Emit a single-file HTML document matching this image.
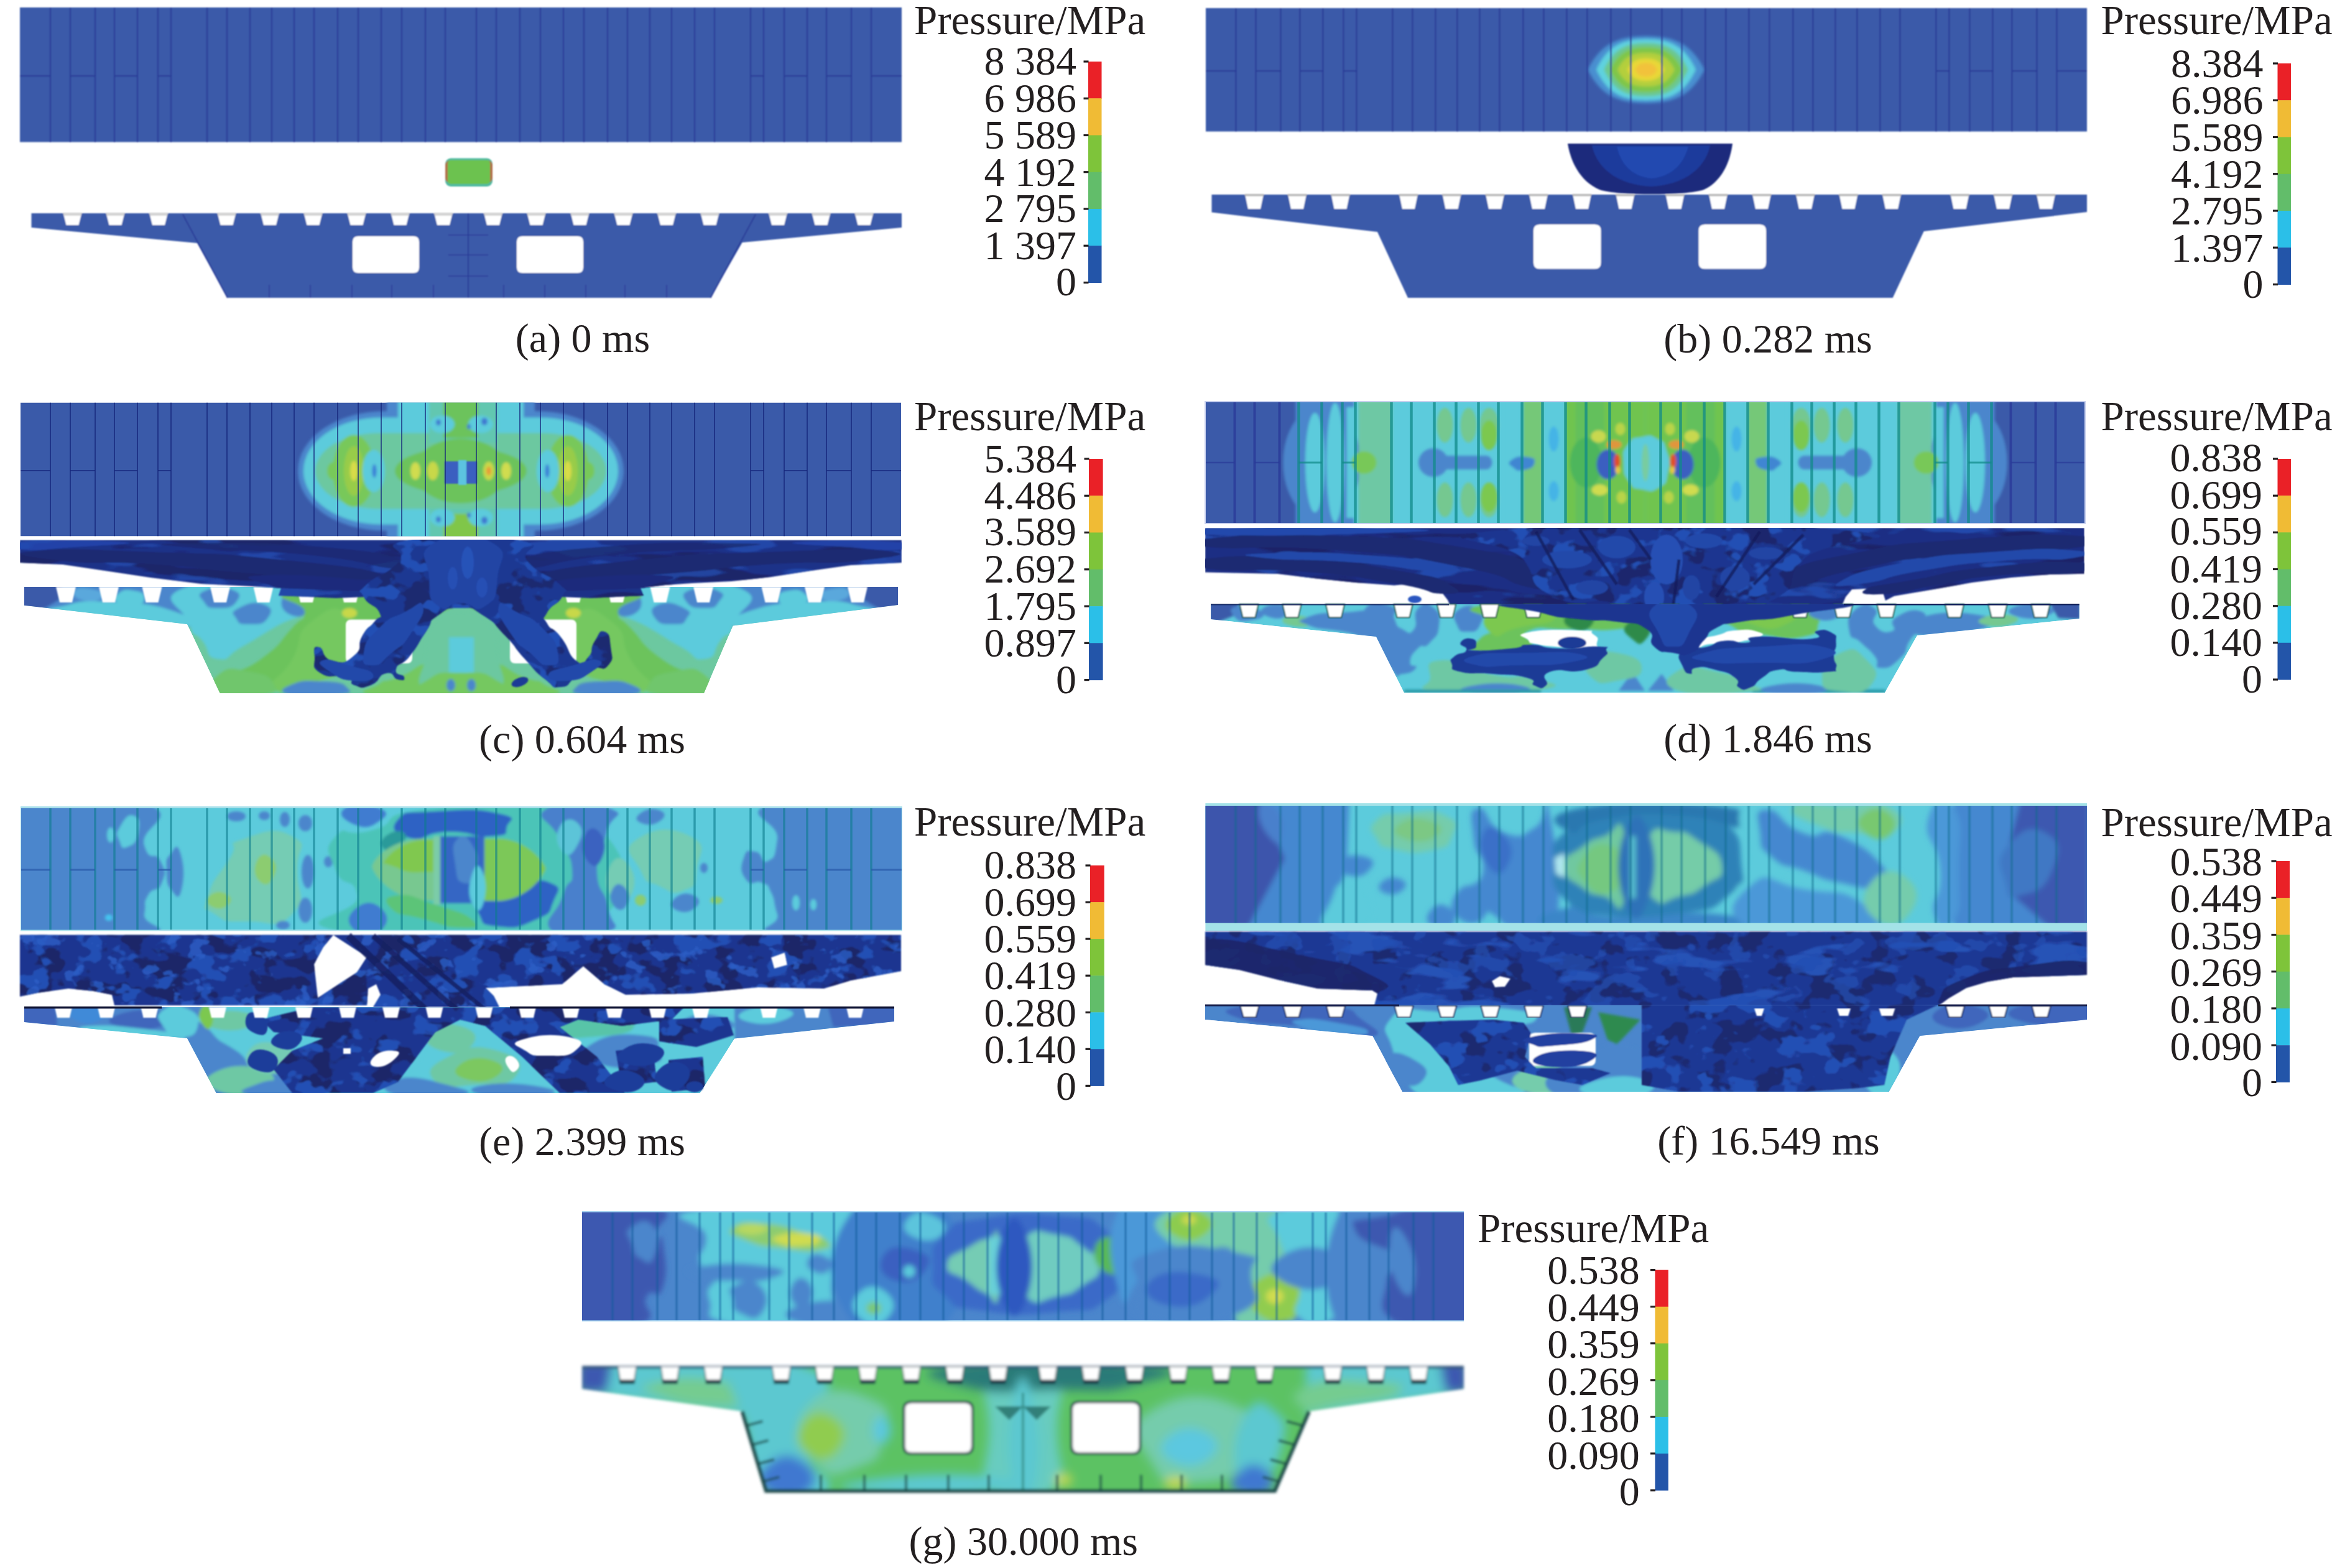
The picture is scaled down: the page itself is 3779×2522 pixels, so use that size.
<!DOCTYPE html>
<html lang="en"><head><meta charset="utf-8"><title>Pressure contours</title>
<style>
html,body{margin:0;padding:0;background:#fff;}
body{width:3779px;height:2522px;overflow:hidden;font-family:"Liberation Serif",serif;}
svg{display:block;}
</style></head><body>
<svg width="3779" height="2522" viewBox="0 0 3779 2522" font-family="'Liberation Serif','Times New Roman',serif" fill="#231f20">
<defs>
<filter id="b2" x="-20%" y="-20%" width="140%" height="140%"><feGaussianBlur stdDeviation="2"/></filter>
<filter id="b4" x="-20%" y="-20%" width="140%" height="140%"><feGaussianBlur stdDeviation="4"/></filter>
<filter id="b8" x="-30%" y="-30%" width="160%" height="160%"><feGaussianBlur stdDeviation="8"/></filter>
<filter id="b1" x="-5%" y="-5%" width="110%" height="110%"><feGaussianBlur stdDeviation="1.2"/></filter>
<filter id="tx_dk_h" x="0" y="0" width="100%" height="100%" color-interpolation-filters="sRGB"><feTurbulence type="fractalNoise" baseFrequency="0.005 0.035" numOctaves="3" seed="7" result="n"/><feColorMatrix in="n" type="matrix" values="0 0 0 0 0.102  0 0 0 0 0.141  0 0 0 0 0.400  14 0 0 0 -7.6" result="c"/><feComposite in="c" in2="SourceGraphic" operator="in"/></filter>
<filter id="tx_lt_h" x="0" y="0" width="100%" height="100%" color-interpolation-filters="sRGB"><feTurbulence type="fractalNoise" baseFrequency="0.008 0.03" numOctaves="3" seed="21" result="n"/><feColorMatrix in="n" type="matrix" values="0 0 0 0 0.149  0 0 0 0 0.322  0 0 0 0 0.714  14 0 0 0 -8.1" result="c"/><feComposite in="c" in2="SourceGraphic" operator="in"/></filter>
<filter id="tx_dk" x="0" y="0" width="100%" height="100%" color-interpolation-filters="sRGB"><feTurbulence type="fractalNoise" baseFrequency="0.02 0.028" numOctaves="3" seed="3" result="n"/><feColorMatrix in="n" type="matrix" values="0 0 0 0 0.106  0 0 0 0 0.149  0 0 0 0 0.408  16 0 0 0 -8.5" result="c"/><feComposite in="c" in2="SourceGraphic" operator="in"/></filter>
<filter id="tx_lt" x="0" y="0" width="100%" height="100%" color-interpolation-filters="sRGB"><feTurbulence type="fractalNoise" baseFrequency="0.022 0.03" numOctaves="3" seed="11" result="n"/><feColorMatrix in="n" type="matrix" values="0 0 0 0 0.141  0 0 0 0 0.314  0 0 0 0 0.706  16 0 0 0 -9.1" result="c"/><feComposite in="c" in2="SourceGraphic" operator="in"/></filter>
<filter id="tx_lt2" x="0" y="0" width="100%" height="100%" color-interpolation-filters="sRGB"><feTurbulence type="fractalNoise" baseFrequency="0.03 0.04" numOctaves="3" seed="17" result="n"/><feColorMatrix in="n" type="matrix" values="0 0 0 0 0.173  0 0 0 0 0.369  0 0 0 0 0.776  16 0 0 0 -10.0" result="c"/><feComposite in="c" in2="SourceGraphic" operator="in"/></filter>
<filter id="tx_cy" x="0" y="0" width="100%" height="100%" color-interpolation-filters="sRGB"><feTurbulence type="fractalNoise" baseFrequency="0.012 0.018" numOctaves="3" seed="31" result="n"/><feColorMatrix in="n" type="matrix" values="0 0 0 0 0.361  0 0 0 0 0.796  0 0 0 0 0.863  14 0 0 0 -7.4" result="c"/><feComposite in="c" in2="SourceGraphic" operator="in"/></filter>
<filter id="tx_lb" x="0" y="0" width="100%" height="100%" color-interpolation-filters="sRGB"><feTurbulence type="fractalNoise" baseFrequency="0.014 0.02" numOctaves="3" seed="41" result="n"/><feColorMatrix in="n" type="matrix" values="0 0 0 0 0.294  0 0 0 0 0.525  0 0 0 0 0.800  14 0 0 0 -7.5" result="c"/><feComposite in="c" in2="SourceGraphic" operator="in"/></filter>
<filter id="tx_tl" x="0" y="0" width="100%" height="100%" color-interpolation-filters="sRGB"><feTurbulence type="fractalNoise" baseFrequency="0.012 0.016" numOctaves="3" seed="51" result="n"/><feColorMatrix in="n" type="matrix" values="0 0 0 0 0.431  0 0 0 0 0.784  0 0 0 0 0.643  14 0 0 0 -7.6" result="c"/><feComposite in="c" in2="SourceGraphic" operator="in"/></filter>
<filter id="tx_gr" x="0" y="0" width="100%" height="100%" color-interpolation-filters="sRGB"><feTurbulence type="fractalNoise" baseFrequency="0.014 0.018" numOctaves="3" seed="61" result="n"/><feColorMatrix in="n" type="matrix" values="0 0 0 0 0.424  0 0 0 0 0.765  0 0 0 0 0.361  14 0 0 0 -7.7" result="c"/><feComposite in="c" in2="SourceGraphic" operator="in"/></filter>
<clipPath id="c_slab"><rect x="33" y="647.5" width="1416" height="215.0"/></clipPath>
<clipPath id="c_br"><path d="M39 944H1444V973L1178.7 1006.4L1132 1115H353.7L301 1004L39 973.7Z"/></clipPath>
<clipPath id="c_cl"><rect x="32" y="868.6" width="1418" height="260"/></clipPath>
<clipPath id="d_slab"><rect x="1939" y="647" width="1413" height="194"/></clipPath>
<clipPath id="d_cl"><rect x="1938" y="849" width="1414" height="270"/></clipPath>
<clipPath id="d_br"><path d="M1947 971.7H3343.7V995L3083 1022L3031 1114H2257.8L2213 1024L1947 996Z"/></clipPath>
<clipPath id="e_slab"><rect x="34" y="1300" width="1415.8" height="195.5"/></clipPath>
<clipPath id="e_br"><path d="M39 1620H1438V1643L1181 1670.6L1125.5 1758H347.7L301 1670L39 1644Z"/></clipPath>
<clipPath id="f_slab"><rect x="1938.4" y="1296" width="1417.6" height="188.5"/></clipPath>
<clipPath id="f_cl"><path d="M1938 1498.5H3356V1568L3300 1570L3237 1572L3196 1579L3162 1589L3133 1606L3117 1618H2210L2215 1598L2207 1593L2119 1590L2056 1576L1993 1560L1938 1552Z M2399 1578L2412 1570L2429 1574L2420 1587L2404 1588Z" clip-rule="evenodd"/></clipPath>
<clipPath id="f_br"><path d="M1938 1616.5H3356V1640L3087.5 1666L3037.5 1756H2255L2207 1666L1938 1640Z"/></clipPath>
<clipPath id="g_slab"><rect x="936" y="1950" width="1418" height="173.4000000000001"/></clipPath>
<clipPath id="g_br"><path d="M936 2198H2354V2234L2105 2270L2050 2398H1232L1193.6 2270L936 2234Z"/></clipPath>
</defs>
<g filter="url(#b1)">
<rect x="32" y="12" width="1418" height="216.5" fill="#3a5aa9"/>
<path d="M716.0 12V228.5M766.0 12V228.5M684.0 12V228.5M798.0 12V228.5M646.0 12V228.5M836.0 12V228.5M613.0 12V228.5M869.0 12V228.5M576.0 12V228.5M906.0 12V228.5M543.0 12V228.5M939.0 12V228.5M505.0 12V228.5M977.0 12V228.5M473.0 12V228.5M1009.0 12V228.5M437.0 12V228.5M1045.0 12V228.5M402.0 12V228.5M1080.0 12V228.5M365.0 12V228.5M1117.0 12V228.5M333.0 12V228.5M1149.0 12V228.5M275.0 12V228.5M1207.0 12V228.5M254.0 12V228.5M1228.0 12V228.5M221.0 12V228.5M1261.0 12V228.5M184.0 12V228.5M1298.0 12V228.5M153.0 12V228.5M1329.0 12V228.5M113.0 12V228.5M1369.0 12V228.5M81.0 12V228.5M1401.0 12V228.5" stroke="#2c3c98" stroke-width="2.2" fill="none" opacity="1"/>
<path d="M32.0 122.2H81.0M1450.0 122.2H1401.0M113.0 122.2H153.0M1369.0 122.2H1329.0M184.0 122.2H221.0M1298.0 122.2H1261.0M254.0 122.2H275.0M1228.0 122.2H1207.0" stroke="#2c3c98" stroke-width="2.2" fill="none" opacity="1"/>
</g>
<g filter="url(#b1)"><rect x="716" y="254.5" width="76" height="45.5" rx="9" fill="#4fb9a0"/><rect x="716" y="258" width="76" height="36" rx="8" fill="#b0704a"/><rect x="720" y="257.5" width="68" height="38.5" rx="5" fill="#6cc24f"/></g>
<g filter="url(#b1)">
<path d="M50.5 343H1450V366L1193.6 390L1142.5 479H366L317 391L50.5 366Z" fill="#3a5aa9"/>
<path d="M753 343V479 M294 345L366 479 M1215 345L1142.5 479" stroke="#2c3c98" stroke-width="2" fill="none"/>
<path d="M433 458V479M499 458V479M566 458V479M630 458V479M697 458V479M810 458V479M876 458V479M942 458V479M1005 458V479M1072 458V479M721 378H785M721 410H785M721 444H785" stroke="#2c3c98" stroke-width="2" fill="none" opacity=".8"/>
<path d="M576.0 380H665.0Q674.0 380 674.0 389V430Q674.0 439 665.0 439H576.0Q567.0 439 567.0 430V389Q567.0 380 576.0 380ZM840.0 380H929.0Q938.0 380 938.0 389V430Q938.0 439 929.0 439H840.0Q831.0 439 831.0 430V389Q831.0 380 840.0 380Z" fill="#fff"/>
<path d="M698.0 342H728.0L723.0 362H703.0ZM778.0 342H808.0L803.0 362H783.0ZM628.5 342H658.5L653.5 362H633.5ZM847.5 342H877.5L872.5 362H852.5ZM558.5 342H588.5L583.5 362H563.5ZM917.5 342H947.5L942.5 362H922.5ZM488.5 342H518.5L513.5 362H493.5ZM987.5 342H1017.5L1012.5 362H992.5ZM419.0 342H449.0L444.0 362H424.0ZM1057.0 342H1087.0L1082.0 362H1062.0ZM349.5 342H379.5L374.5 362H354.5ZM1126.5 342H1156.5L1151.5 362H1131.5ZM240.0 342H270.0L265.0 362H245.0ZM1236.0 342H1266.0L1261.0 362H1241.0ZM170.5 342H200.5L195.5 362H175.5ZM1305.5 342H1335.5L1330.5 362H1310.5ZM101.5 342H131.5L126.5 362H106.5ZM1374.5 342H1404.5L1399.5 362H1379.5Z" fill="#fff"/>
<path d="M698.0 342H728.0L727.0 347H699.0ZM778.0 342H808.0L807.0 347H779.0ZM628.5 342H658.5L657.5 347H629.5ZM847.5 342H877.5L876.5 347H848.5ZM558.5 342H588.5L587.5 347H559.5ZM917.5 342H947.5L946.5 347H918.5ZM488.5 342H518.5L517.5 347H489.5ZM987.5 342H1017.5L1016.5 347H988.5ZM419.0 342H449.0L448.0 347H420.0ZM1057.0 342H1087.0L1086.0 347H1058.0ZM349.5 342H379.5L378.5 347H350.5ZM1126.5 342H1156.5L1155.5 347H1127.5ZM240.0 342H270.0L269.0 347H241.0ZM1236.0 342H1266.0L1265.0 347H1237.0ZM170.5 342H200.5L199.5 347H171.5ZM1305.5 342H1335.5L1334.5 347H1306.5ZM101.5 342H131.5L130.5 347H102.5ZM1374.5 342H1404.5L1403.5 347H1375.5Z" fill="#d4d4d4"/>
</g>
<text x="1470" y="55" font-size="67">Pressure/MPa</text>
<text x="1731.0" y="120" font-size="66" text-anchor="end">8 384</text>
<text x="1731.0" y="180" font-size="66" text-anchor="end">6 986</text>
<text x="1731.0" y="239" font-size="66" text-anchor="end">5 589</text>
<text x="1731.0" y="299" font-size="66" text-anchor="end">4 192</text>
<text x="1731.0" y="357" font-size="66" text-anchor="end">2 795</text>
<text x="1731.0" y="417" font-size="66" text-anchor="end">1 397</text>
<text x="1731.0" y="474.5" font-size="66" text-anchor="end">0</text>
<rect x="1750" y="99.0" width="21.5" height="59.8" fill="#ea2127"/>
<rect x="1750" y="158.2" width="21.5" height="59.8" fill="#f0bb35"/>
<rect x="1750" y="217.5" width="21.5" height="59.8" fill="#7ec43a"/>
<rect x="1750" y="276.8" width="21.5" height="59.8" fill="#62bd6a"/>
<rect x="1750" y="336.0" width="21.5" height="59.8" fill="#2bbfe8"/>
<rect x="1750" y="395.2" width="21.5" height="59.8" fill="#2355a9"/>
<rect x="1742.5" y="97.4" width="8" height="3.2" fill="#231f20"/>
<rect x="1742.5" y="156.7" width="8" height="3.2" fill="#231f20"/>
<rect x="1742.5" y="215.9" width="8" height="3.2" fill="#231f20"/>
<rect x="1742.5" y="275.1" width="8" height="3.2" fill="#231f20"/>
<rect x="1742.5" y="334.4" width="8" height="3.2" fill="#231f20"/>
<rect x="1742.5" y="393.6" width="8" height="3.2" fill="#231f20"/>
<rect x="1742.5" y="452.9" width="8" height="3.2" fill="#231f20"/>
<text x="937" y="566" font-size="66" text-anchor="middle">(a) 0 ms</text>
<g filter="url(#b1)">
<rect x="1939" y="13" width="1417" height="198.5" fill="#3a5aa9"/>
<g filter="url(#b2)">
<path d="M2553 112C2573.68 71.5 2600.0 58 2647 58C2694.0 58 2720.32 71.5 2741 112C2720.32 152.5 2694.0 166 2647 166C2600.0 166 2573.68 152.5 2553 112Z" fill="#4a8fd0"/>
<path d="M2567 112C2584.6 75.25 2607.0 63 2647 63C2687.0 63 2709.4 75.25 2727 112C2709.4 148.75 2687.0 161 2647 161C2607.0 161 2584.6 148.75 2567 112Z" fill="#5fd2e0"/>
<path d="M2579 112C2593.96 79.75 2613.0 69 2647 69C2681.0 69 2700.04 79.75 2715 112C2700.04 144.25 2681.0 155 2647 155C2613.0 155 2593.96 144.25 2579 112Z" fill="#6cc890"/>
<path d="M2589 112C2601.76 85.0 2618.0 76 2647 76C2676.0 76 2692.24 85.0 2705 112C2692.24 139.0 2676.0 148 2647 148C2618.0 148 2601.76 139.0 2589 112Z" fill="#7fc64a"/>
<path d="M2601 112C2611.12 91.75 2624.0 85 2647 85C2670.0 85 2682.88 91.75 2693 112C2682.88 132.25 2670.0 139 2647 139C2624.0 139 2611.12 132.25 2601 112Z" fill="#b4cf3c"/>
<path d="M2617 112C2623.6 98.5 2632.0 94 2647 94C2662.0 94 2670.4 98.5 2677 112C2670.4 125.5 2662.0 130 2647 130C2632.0 130 2623.6 125.5 2617 112Z" fill="#e8d838"/>
<path d="M2629 112C2632.96 103.75 2638.0 101 2647 101C2656.0 101 2661.04 103.75 2665 112C2661.04 120.25 2656.0 123 2647 123C2638.0 123 2632.96 120.25 2629 112Z" fill="#f2c23a"/>
</g>
<path d="M2622.5 13V211.5M2672.5 13V211.5M2590.5 13V211.5M2704.5 13V211.5M2552.5 13V211.5M2742.5 13V211.5M2519.5 13V211.5M2775.5 13V211.5M2482.5 13V211.5M2812.5 13V211.5M2449.5 13V211.5M2845.5 13V211.5M2411.5 13V211.5M2883.5 13V211.5M2379.5 13V211.5M2915.5 13V211.5M2343.5 13V211.5M2951.5 13V211.5M2308.5 13V211.5M2986.5 13V211.5M2271.5 13V211.5M3023.5 13V211.5M2239.5 13V211.5M3055.5 13V211.5M2181.5 13V211.5M3113.5 13V211.5M2160.5 13V211.5M3134.5 13V211.5M2127.5 13V211.5M3167.5 13V211.5M2090.5 13V211.5M3204.5 13V211.5M2059.5 13V211.5M3235.5 13V211.5M2019.5 13V211.5M3275.5 13V211.5M1987.5 13V211.5M3307.5 13V211.5" stroke="#2c3c98" stroke-width="2.2" fill="none" opacity="1"/>
<path d="M1939.0 114.2H1987.5M3356.0 114.2H3307.5M2019.5 114.2H2059.5M3275.5 114.2H3235.5M2090.5 114.2H2127.5M3204.5 114.2H3167.5M2160.5 114.2H2181.5M3134.5 114.2H3113.5" stroke="#2c3c98" stroke-width="2.2" fill="none" opacity="1"/>
</g>
<g filter="url(#b1)"><path d="M2521 231H2786C2782 262 2768 292 2740 305C2712 315 2600 315 2572 305C2542 292 2526 262 2521 231Z" fill="#1d2a7c"/><path d="M2560 234H2750C2744 262 2720 296 2655 300C2590 296 2566 262 2560 234Z" fill="#1e3a9c"/><path d="M2600 236H2715C2708 262 2690 284 2656 287C2622 284 2606 262 2600 236Z" fill="#2048b0"/></g>
<g filter="url(#b1)">
<path d="M1948.5 313H3356V341L3093.7 372L3043.7 479H2264L2215 373L1948.5 341.6Z" fill="#3a5aa9"/>
<path d="M2476.0 361H2564.5Q2574.5 361 2574.5 371V422.5Q2574.5 432.5 2564.5 432.5H2476.0Q2466.0 432.5 2466.0 422.5V371Q2466.0 361 2476.0 361ZM2741.5 361H2830.0Q2840.0 361 2840.0 371V422.5Q2840.0 432.5 2830.0 432.5H2741.5Q2731.5 432.5 2731.5 422.5V371Q2731.5 361 2741.5 361Z" fill="#fff"/>
<path d="M2598.5 312H2628.5L2623.5 336H2603.5ZM2678.5 312H2708.5L2703.5 336H2683.5ZM2529.0 312H2559.0L2554.0 336H2534.0ZM2748.0 312H2778.0L2773.0 336H2753.0ZM2459.0 312H2489.0L2484.0 336H2464.0ZM2818.0 312H2848.0L2843.0 336H2823.0ZM2389.0 312H2419.0L2414.0 336H2394.0ZM2888.0 312H2918.0L2913.0 336H2893.0ZM2319.5 312H2349.5L2344.5 336H2324.5ZM2957.5 312H2987.5L2982.5 336H2962.5ZM2250.0 312H2280.0L2275.0 336H2255.0ZM3027.0 312H3057.0L3052.0 336H3032.0ZM2140.5 312H2170.5L2165.5 336H2145.5ZM3136.5 312H3166.5L3161.5 336H3141.5ZM2071.0 312H2101.0L2096.0 336H2076.0ZM3206.0 312H3236.0L3231.0 336H3211.0ZM2002.0 312H2032.0L2027.0 336H2007.0ZM3275.0 312H3305.0L3300.0 336H3280.0Z" fill="#fff"/>
<path d="M2598.0 312H2629.0L2628.5 315.5H2598.5ZM2678.0 312H2709.0L2708.5 315.5H2678.5ZM2528.5 312H2559.5L2559.0 315.5H2529.0ZM2747.5 312H2778.5L2778.0 315.5H2748.0ZM2458.5 312H2489.5L2489.0 315.5H2459.0ZM2817.5 312H2848.5L2848.0 315.5H2818.0ZM2388.5 312H2419.5L2419.0 315.5H2389.0ZM2887.5 312H2918.5L2918.0 315.5H2888.0ZM2319.0 312H2350.0L2349.5 315.5H2319.5ZM2957.0 312H2988.0L2987.5 315.5H2957.5ZM2249.5 312H2280.5L2280.0 315.5H2250.0ZM3026.5 312H3057.5L3057.0 315.5H3027.0ZM2140.0 312H2171.0L2170.5 315.5H2140.5ZM3136.0 312H3167.0L3166.5 315.5H3136.5ZM2070.5 312H2101.5L2101.0 315.5H2071.0ZM3205.5 312H3236.5L3236.0 315.5H3206.0ZM2001.5 312H2032.5L2032.0 315.5H2002.0ZM3274.5 312H3305.5L3305.0 315.5H3275.0Z" fill="#b8b8b8"/>
</g>
<text x="3378.5" y="55" font-size="67">Pressure/MPa</text>
<text x="3639.5" y="124" font-size="66" text-anchor="end">8.384</text>
<text x="3639.5" y="183" font-size="66" text-anchor="end">6.986</text>
<text x="3639.5" y="242.5" font-size="66" text-anchor="end">5.589</text>
<text x="3639.5" y="301.7" font-size="66" text-anchor="end">4.192</text>
<text x="3639.5" y="361" font-size="66" text-anchor="end">2.795</text>
<text x="3639.5" y="421" font-size="66" text-anchor="end">1.397</text>
<text x="3639.5" y="479" font-size="66" text-anchor="end">0</text>
<rect x="3662.5" y="102.0" width="21.5" height="59.8" fill="#ea2127"/>
<rect x="3662.5" y="161.2" width="21.5" height="59.8" fill="#f0bb35"/>
<rect x="3662.5" y="220.5" width="21.5" height="59.8" fill="#7ec43a"/>
<rect x="3662.5" y="279.8" width="21.5" height="59.8" fill="#62bd6a"/>
<rect x="3662.5" y="339.0" width="21.5" height="59.8" fill="#2bbfe8"/>
<rect x="3662.5" y="398.2" width="21.5" height="59.8" fill="#2355a9"/>
<rect x="3655.0" y="100.4" width="8" height="3.2" fill="#231f20"/>
<rect x="3655.0" y="159.7" width="8" height="3.2" fill="#231f20"/>
<rect x="3655.0" y="218.9" width="8" height="3.2" fill="#231f20"/>
<rect x="3655.0" y="278.1" width="8" height="3.2" fill="#231f20"/>
<rect x="3655.0" y="337.4" width="8" height="3.2" fill="#231f20"/>
<rect x="3655.0" y="396.6" width="8" height="3.2" fill="#231f20"/>
<rect x="3655.0" y="455.9" width="8" height="3.2" fill="#231f20"/>
<text x="2843" y="566.7" font-size="66" text-anchor="middle">(b) 0.282 ms</text>
<g clip-path="url(#c_slab)">
<rect x="33.0" y="647.5" width="1416.0" height="215.0" fill="#3a5aa9" />
<g filter="url(#b2)">
<rect x="479" y="661.5" width="524" height="192" rx="139.2" ry="96" fill="#4b86cc"/>
<rect x="622.0" y="642.5" width="238.0" height="230.0" fill="#4b86cc" />
<rect x="488" y="671.5" width="506" height="172" rx="124.7" ry="86" fill="#5ccbdc"/>
<rect x="640.0" y="642.5" width="202.0" height="230.0" fill="#5ccbdc" />
<rect x="507" y="696.5" width="468" height="122" rx="101.5" ry="70" fill="#6cc8a0"/>
<ellipse cx="569.0" cy="757.5" rx="34.0" ry="58.0" fill="#78c85a" />
<ellipse cx="569.0" cy="757.5" rx="16.0" ry="40.0" fill="#98cc48" />
<ellipse cx="569.0" cy="757.5" rx="6.0" ry="16.0" fill="#d8dc48" />
<ellipse cx="536.0" cy="757.5" rx="10.0" ry="14.0" fill="#78c85a" />
<ellipse cx="601.0" cy="757.5" rx="18.0" ry="34.0" fill="#5ccbdc" />
<ellipse cx="602.0" cy="757.5" rx="3.5" ry="11.0" fill="#3a7fd6" />
<ellipse cx="913.0" cy="757.5" rx="34.0" ry="58.0" fill="#78c85a" />
<ellipse cx="913.0" cy="757.5" rx="16.0" ry="40.0" fill="#98cc48" />
<ellipse cx="913.0" cy="757.5" rx="6.0" ry="16.0" fill="#d8dc48" />
<ellipse cx="946.0" cy="757.5" rx="10.0" ry="14.0" fill="#78c85a" />
<ellipse cx="881.0" cy="757.5" rx="18.0" ry="34.0" fill="#5ccbdc" />
<ellipse cx="880.0" cy="757.5" rx="3.5" ry="11.0" fill="#3a7fd6" />
<rect x="690.0" y="642.5" width="110.0" height="70.0" fill="#62c7b0" />
<rect x="690.0" y="817.5" width="110.0" height="50.0" fill="#62c7b0" />
<rect x="713.0" y="642.5" width="56.0" height="62.0" fill="#6cc35c" />
<rect x="713.0" y="826.5" width="56.0" height="40.0" fill="#80c648" />
<ellipse cx="741.0" cy="757.5" rx="106.0" ry="38.0" fill="#6cc35c" />
<ellipse cx="741.0" cy="757.5" rx="75.0" ry="52.0" fill="#6cc35c" />
<ellipse cx="696.0" cy="757.5" rx="9.0" ry="15.0" fill="#c8d848" />
<ellipse cx="668.0" cy="757.5" rx="8.0" ry="14.0" fill="#d0dc50" />
<ellipse cx="786.0" cy="757.5" rx="9.0" ry="15.0" fill="#c8d848" />
<ellipse cx="814.0" cy="757.5" rx="8.0" ry="14.0" fill="#d0dc50" />
<ellipse cx="786.0" cy="757.5" rx="4.0" ry="7.0" fill="#e89a38" />
<ellipse cx="711.0" cy="682.5" rx="20.0" ry="14.0" fill="#5ccbdc" />
<ellipse cx="773.0" cy="682.5" rx="20.0" ry="14.0" fill="#5ccbdc" />
<ellipse cx="705.0" cy="679.5" rx="4.0" ry="5.0" fill="#3f78d0" />
<ellipse cx="779.0" cy="678.0" rx="5.0" ry="6.0" fill="#3f78d0" />
<ellipse cx="754.0" cy="686.2" rx="3.0" ry="4.0" fill="#3f78d0" />
<ellipse cx="711.0" cy="832.5" rx="20.0" ry="14.0" fill="#5ccbdc" />
<ellipse cx="773.0" cy="832.5" rx="20.0" ry="14.0" fill="#5ccbdc" />
<ellipse cx="705.0" cy="835.5" rx="4.0" ry="5.0" fill="#3f78d0" />
<ellipse cx="779.0" cy="837.0" rx="5.0" ry="6.0" fill="#3f78d0" />
<ellipse cx="754.0" cy="828.8" rx="3.0" ry="4.0" fill="#3f78d0" />
</g>
<g filter="url(#b1)"><rect x="715" y="742" width="52" height="36" fill="#3a5fc0"/><rect x="737" y="740" width="13" height="40" fill="#5cc4e0"/></g>
<path d="M716.0 647.5V862.5M766.0 647.5V862.5M684.0 647.5V862.5M798.0 647.5V862.5M646.0 647.5V862.5M836.0 647.5V862.5M613.0 647.5V862.5M869.0 647.5V862.5M576.0 647.5V862.5M906.0 647.5V862.5M543.0 647.5V862.5M939.0 647.5V862.5M505.0 647.5V862.5M977.0 647.5V862.5M473.0 647.5V862.5M1009.0 647.5V862.5M437.0 647.5V862.5M1045.0 647.5V862.5M402.0 647.5V862.5M1080.0 647.5V862.5M365.0 647.5V862.5M1117.0 647.5V862.5M333.0 647.5V862.5M1149.0 647.5V862.5M275.0 647.5V862.5M1207.0 647.5V862.5M254.0 647.5V862.5M1228.0 647.5V862.5M221.0 647.5V862.5M1261.0 647.5V862.5M184.0 647.5V862.5M1298.0 647.5V862.5M153.0 647.5V862.5M1329.0 647.5V862.5M113.0 647.5V862.5M1369.0 647.5V862.5M81.0 647.5V862.5M1401.0 647.5V862.5" stroke="#14247a" stroke-width="2" fill="none" opacity="0.7"/>
<path d="M33.0 757.0H81.0M1449.0 757.0H1401.0M113.0 757.0H153.0M1369.0 757.0H1329.0M184.0 757.0H221.0M1298.0 757.0H1261.0M254.0 757.0H275.0M1228.0 757.0H1207.0" stroke="#14247a" stroke-width="2" fill="none" opacity="0.7"/>
</g>
<g clip-path="url(#c_br)">
<path d="M39 944H1444V973L1178.7 1006.4L1132 1115H353.7L301 1004L39 973.7Z" fill="#6cc8a0"/>
<g filter="url(#b2)">
<path d="M30.0 940.0L310.0 940.0L320.0 1010.0L30.0 980.0Z" fill="#4b86cc" />
<path d="M30.0 940.0L100.0 940.0L95.0 965.0L60.0 985.0L30.0 985.0Z" fill="#3a5aa9" />
<path d="M100.0 975.0C126.7 969.3 118.3 964.7 180.0 968.0C241.7 971.3 245.0 971.7 285.0 985.0C325.0 998.3 328.3 1003.7 300.0 1008.0C271.7 1012.3 266.7 1005.7 200.0 998.0C133.3 990.3 133.3 992.7 100.0 985.0C66.7 977.3 73.3 980.7 100.0 975.0Z" fill="#5ccbdc" />
<path d="M190.0 955.0C198.3 948.3 201.0 947.7 215.0 950.0C229.0 952.3 232.0 953.7 232.0 962.0C232.0 970.3 229.0 972.3 215.0 975.0C201.0 977.7 198.3 976.7 190.0 970.0C181.7 963.3 181.7 961.7 190.0 955.0Z" fill="#5ccbdc" />
<path d="M120.0 950.0C125.0 944.0 135.0 944.7 150.0 948.0C165.0 951.3 170.0 954.0 165.0 960.0C160.0 966.0 150.0 969.3 135.0 966.0C120.0 962.7 115.0 956.0 120.0 950.0Z" fill="#5aa8dc" />
<path d="M300.0 944.0C355.0 924.0 403.3 933.7 470.0 944.0C536.7 954.3 510.0 953.0 500.0 975.0C490.0 997.0 476.7 988.3 440.0 1010.0C403.3 1031.7 420.0 1023.3 390.0 1040.0C360.0 1056.7 371.7 1063.3 350.0 1060.0C328.3 1056.7 340.0 1048.7 325.0 1030.0C310.0 1011.3 313.3 1032.7 305.0 1004.0C296.7 975.3 245.0 964.0 300.0 944.0Z" fill="#5ccbdc" />
<path d="M384.0 978.0C398.7 970.3 408.7 966.3 424.0 972.0C439.3 977.7 438.0 984.3 430.0 995.0C422.0 1005.7 416.7 1004.0 400.0 1004.0C383.3 1004.0 385.3 1003.7 380.0 995.0C374.7 986.3 369.3 985.7 384.0 978.0Z" fill="#4b86cc" />
<path d="M330.0 950.0C344.7 943.3 355.3 942.0 372.0 948.0C388.7 954.0 387.3 958.0 380.0 968.0C372.7 978.0 367.3 978.0 350.0 978.0C332.7 978.0 334.7 977.3 328.0 968.0C321.3 958.7 315.3 956.7 330.0 950.0Z" fill="#4b86cc" />
<path d="M455.0 960.0C461.7 946.7 475.0 945.0 490.0 950.0C505.0 955.0 506.7 961.7 500.0 975.0C493.3 988.3 485.0 995.0 470.0 990.0C455.0 985.0 448.3 973.3 455.0 960.0Z" fill="#4b86cc" />
<path d="M480.0 950.0C550.0 938.3 626.7 936.7 700.0 950.0C773.3 963.3 733.3 973.3 700.0 990.0C666.7 1006.7 653.3 983.3 600.0 1000.0C546.7 1016.7 583.3 1010.0 540.0 1040.0C496.7 1070.0 510.0 1065.0 470.0 1090.0C430.0 1115.0 459.3 1106.7 420.0 1115.0C380.7 1123.3 372.0 1123.3 352.0 1115.0C332.0 1106.7 337.3 1108.3 360.0 1090.0C382.7 1071.7 383.3 1086.7 420.0 1060.0C456.7 1033.3 446.7 1035.0 470.0 1010.0C493.3 985.0 486.7 1005.0 490.0 985.0C493.3 965.0 410.0 961.7 480.0 950.0Z" fill="#6cc35c" />
<path d="M500.0 1000.0C530.0 976.7 540.0 970.0 560.0 990.0C580.0 1010.0 580.0 1023.3 560.0 1060.0C540.0 1096.7 540.0 1085.0 500.0 1100.0C460.0 1115.0 450.0 1118.3 440.0 1105.0C430.0 1091.7 450.0 1095.0 470.0 1060.0C490.0 1025.0 470.0 1023.3 500.0 1000.0Z" fill="#74c860" />
<path d="M352.0 1085.0C368.0 1072.3 370.7 1075.0 400.0 1080.0C429.3 1085.0 433.3 1087.3 440.0 1100.0C446.7 1112.7 449.3 1112.0 420.0 1118.0C390.7 1124.0 374.7 1129.0 352.0 1118.0C329.3 1107.0 336.0 1097.7 352.0 1085.0Z" fill="#70c66c" />
<path d="M469.0 1101.0C486.0 1093.7 490.3 1094.3 520.0 1096.0C549.7 1097.7 551.3 1098.7 558.0 1106.0C564.7 1113.3 569.7 1114.0 540.0 1118.0C510.3 1122.0 492.7 1123.7 469.0 1118.0C445.3 1112.3 452.0 1108.3 469.0 1101.0Z" fill="#4b86cc" />
<ellipse cx="562.0" cy="986.0" rx="12.0" ry="8.0" fill="#c8d848" />
<path d="M640.0 1090.0C670.0 1080.0 673.3 1060.7 700.0 1070.0C726.7 1079.3 753.3 1102.0 720.0 1118.0C686.7 1134.0 636.7 1124.0 600.0 1118.0C563.3 1112.0 596.7 1109.3 610.0 1100.0C623.3 1090.7 610.0 1100.0 640.0 1090.0Z" fill="#74c860" />
<path d="M1454.0 940.0L1174.0 940.0L1164.0 1010.0L1454.0 980.0Z" fill="#4b86cc" />
<path d="M1454.0 940.0L1384.0 940.0L1389.0 965.0L1424.0 985.0L1454.0 985.0Z" fill="#3a5aa9" />
<path d="M1384.0 975.0C1357.3 969.3 1365.7 964.7 1304.0 968.0C1242.3 971.3 1239.0 971.7 1199.0 985.0C1159.0 998.3 1155.7 1003.7 1184.0 1008.0C1212.3 1012.3 1217.3 1005.7 1284.0 998.0C1350.7 990.3 1350.7 992.7 1384.0 985.0C1417.3 977.3 1410.7 980.7 1384.0 975.0Z" fill="#5ccbdc" />
<path d="M1294.0 955.0C1285.7 948.3 1283.0 947.7 1269.0 950.0C1255.0 952.3 1252.0 953.7 1252.0 962.0C1252.0 970.3 1255.0 972.3 1269.0 975.0C1283.0 977.7 1285.7 976.7 1294.0 970.0C1302.3 963.3 1302.3 961.7 1294.0 955.0Z" fill="#5ccbdc" />
<path d="M1364.0 950.0C1359.0 944.0 1349.0 944.7 1334.0 948.0C1319.0 951.3 1314.0 954.0 1319.0 960.0C1324.0 966.0 1334.0 969.3 1349.0 966.0C1364.0 962.7 1369.0 956.0 1364.0 950.0Z" fill="#5aa8dc" />
<path d="M1184.0 944.0C1129.0 924.0 1080.7 933.7 1014.0 944.0C947.3 954.3 974.0 953.0 984.0 975.0C994.0 997.0 1007.3 988.3 1044.0 1010.0C1080.7 1031.7 1064.0 1023.3 1094.0 1040.0C1124.0 1056.7 1112.3 1063.3 1134.0 1060.0C1155.7 1056.7 1144.0 1048.7 1159.0 1030.0C1174.0 1011.3 1170.7 1032.7 1179.0 1004.0C1187.3 975.3 1239.0 964.0 1184.0 944.0Z" fill="#5ccbdc" />
<path d="M1100.0 978.0C1085.3 970.3 1075.3 966.3 1060.0 972.0C1044.7 977.7 1046.0 984.3 1054.0 995.0C1062.0 1005.7 1067.3 1004.0 1084.0 1004.0C1100.7 1004.0 1098.7 1003.7 1104.0 995.0C1109.3 986.3 1114.7 985.7 1100.0 978.0Z" fill="#4b86cc" />
<path d="M1154.0 950.0C1139.3 943.3 1128.7 942.0 1112.0 948.0C1095.3 954.0 1096.7 958.0 1104.0 968.0C1111.3 978.0 1116.7 978.0 1134.0 978.0C1151.3 978.0 1149.3 977.3 1156.0 968.0C1162.7 958.7 1168.7 956.7 1154.0 950.0Z" fill="#4b86cc" />
<path d="M1029.0 960.0C1022.3 946.7 1009.0 945.0 994.0 950.0C979.0 955.0 977.3 961.7 984.0 975.0C990.7 988.3 999.0 995.0 1014.0 990.0C1029.0 985.0 1035.7 973.3 1029.0 960.0Z" fill="#4b86cc" />
<path d="M1004.0 950.0C934.0 938.3 857.3 936.7 784.0 950.0C710.7 963.3 750.7 973.3 784.0 990.0C817.3 1006.7 830.7 983.3 884.0 1000.0C937.3 1016.7 900.7 1010.0 944.0 1040.0C987.3 1070.0 974.0 1065.0 1014.0 1090.0C1054.0 1115.0 1024.7 1106.7 1064.0 1115.0C1103.3 1123.3 1112.0 1123.3 1132.0 1115.0C1152.0 1106.7 1146.7 1108.3 1124.0 1090.0C1101.3 1071.7 1100.7 1086.7 1064.0 1060.0C1027.3 1033.3 1037.3 1035.0 1014.0 1010.0C990.7 985.0 997.3 1005.0 994.0 985.0C990.7 965.0 1074.0 961.7 1004.0 950.0Z" fill="#6cc35c" />
<path d="M984.0 1000.0C954.0 976.7 944.0 970.0 924.0 990.0C904.0 1010.0 904.0 1023.3 924.0 1060.0C944.0 1096.7 944.0 1085.0 984.0 1100.0C1024.0 1115.0 1034.0 1118.3 1044.0 1105.0C1054.0 1091.7 1034.0 1095.0 1014.0 1060.0C994.0 1025.0 1014.0 1023.3 984.0 1000.0Z" fill="#74c860" />
<path d="M1132.0 1085.0C1116.0 1072.3 1113.3 1075.0 1084.0 1080.0C1054.7 1085.0 1050.7 1087.3 1044.0 1100.0C1037.3 1112.7 1034.7 1112.0 1064.0 1118.0C1093.3 1124.0 1109.3 1129.0 1132.0 1118.0C1154.7 1107.0 1148.0 1097.7 1132.0 1085.0Z" fill="#70c66c" />
<path d="M1015.0 1101.0C998.0 1093.7 993.7 1094.3 964.0 1096.0C934.3 1097.7 932.7 1098.7 926.0 1106.0C919.3 1113.3 914.3 1114.0 944.0 1118.0C973.7 1122.0 991.3 1123.7 1015.0 1118.0C1038.7 1112.3 1032.0 1108.3 1015.0 1101.0Z" fill="#4b86cc" />
<ellipse cx="922.0" cy="986.0" rx="12.0" ry="8.0" fill="#c8d848" />
<path d="M844.0 1090.0C814.0 1080.0 810.7 1060.7 784.0 1070.0C757.3 1079.3 730.7 1102.0 764.0 1118.0C797.3 1134.0 847.3 1124.0 884.0 1118.0C920.7 1112.0 887.3 1109.3 874.0 1100.0C860.7 1090.7 874.0 1100.0 844.0 1090.0Z" fill="#74c860" />
<path d="M700.0 1000.0C718.7 978.3 713.7 985.0 741.0 985.0C768.3 985.0 762.3 978.3 782.0 1000.0C801.7 1021.7 797.3 1010.7 800.0 1050.0C802.7 1089.3 826.0 1095.3 790.0 1118.0C754.0 1140.7 727.0 1140.7 692.0 1118.0C657.0 1095.3 682.3 1089.3 685.0 1050.0C687.7 1010.7 681.3 1021.7 700.0 1000.0Z" fill="#6cc8a0" />
<rect x="722.0" y="1025.0" width="40.0" height="80.0" fill="#5ccbdc" />
<path d="M690.0 1092.0C708.7 1079.3 706.0 1082.0 741.0 1082.0C776.0 1082.0 775.3 1079.3 795.0 1092.0C814.7 1104.7 836.7 1110.7 800.0 1120.0C763.3 1129.3 721.7 1129.3 685.0 1120.0C648.3 1110.7 671.3 1104.7 690.0 1092.0Z" fill="#74c860" />
<ellipse cx="725.0" cy="1102.0" rx="7.0" ry="10.0" fill="#4b86cc" />
<ellipse cx="758.0" cy="1102.0" rx="7.0" ry="10.0" fill="#4b86cc" />
</g>
</g>
<g filter="url(#b1)"><path d="M565.0 996.6H654.0Q663.0 996.6 663.0 1005.6V1058Q663.0 1067 654.0 1067H565.0Q556.0 1067 556.0 1058V1005.6Q556.0 996.6 565.0 996.6ZM829.0 996.6H918.0Q927.0 996.6 927.0 1005.6V1058Q927.0 1067 918.0 1067H829.0Q820.0 1067 820.0 1058V1005.6Q820.0 996.6 829.0 996.6Z" fill="#fff"/>
<path d="M686.5 944H718.5L712.5 969H692.5ZM766.5 944H798.5L792.5 969H772.5ZM617.0 944H649.0L643.0 969H623.0ZM836.0 944H868.0L862.0 969H842.0ZM547.0 944H579.0L573.0 969H553.0ZM906.0 944H938.0L932.0 969H912.0ZM477.0 944H509.0L503.0 969H483.0ZM976.0 944H1008.0L1002.0 969H982.0ZM407.5 944H439.5L433.5 969H413.5ZM1045.5 944H1077.5L1071.5 969H1051.5ZM338.0 944H370.0L364.0 969H344.0ZM1115.0 944H1147.0L1141.0 969H1121.0ZM228.5 944H260.5L254.5 969H234.5ZM1224.5 944H1256.5L1250.5 969H1230.5ZM159.0 944H191.0L185.0 969H165.0ZM1294.0 944H1326.0L1320.0 969H1300.0ZM90.0 944H122.0L116.0 969H96.0ZM1363.0 944H1395.0L1389.0 969H1369.0Z" fill="#fff"/></g>
<g clip-path="url(#c_cl)">
<g filter="url(#b1)">
<path d="M32.0 868.6L1450.0 868.6L1450.0 905.0L1368.0 909.0L1304.0 918.0L1240.0 928.0L1176.0 935.0L1113.0 938.0L1070.0 941.0L1030.0 946.0L1035.0 958.0L950.0 962.0L850.0 958.0L640.0 958.0L540.0 962.0L448.0 958.0L452.0 946.0L404.0 943.0L323.0 939.0L242.0 929.0L162.0 917.0L101.0 908.0L32.0 905.0Z" fill="#1c3088" />
<path d="M32 868.6L1450 868.6L1450 905L1368 909L1304 918L1240 928L1176 935L1113 938L1070 941L1030 946L1035 958L950 962L850 958L640 958L540 962L448 958L452 946L404 943L323 939L242 929L162 917L101 908L32 905Z" fill="#000" filter="url(#tx_dk_h)" opacity=".9"/>
<path d="M32 868.6L1450 868.6L1450 905L1368 909L1304 918L1240 928L1176 935L1113 938L1070 941L1030 946L1035 958L950 962L850 958L640 958L540 962L448 958L452 946L404 943L323 939L242 929L162 917L101 908L32 905Z" fill="#000" filter="url(#tx_lt_h)" opacity=".7"/>
<path d="M60.0 886.0C110.0 881.3 120.0 883.3 250.0 888.0C380.0 892.7 326.7 887.7 450.0 900.0C573.3 912.3 583.3 914.3 620.0 925.0C656.7 935.7 633.3 933.0 560.0 932.0C486.7 931.0 503.3 930.0 400.0 922.0C296.7 914.0 350.0 914.7 250.0 908.0C150.0 901.3 163.3 909.3 100.0 902.0C36.7 894.7 10.0 890.7 60.0 886.0Z" fill="#1d2a72" />
<path d="M300.0 874.0C366.7 873.3 400.0 869.7 520.0 880.0C640.0 890.3 620.0 893.3 660.0 905.0C700.0 916.7 693.3 919.0 640.0 915.0C586.7 911.0 606.7 904.0 500.0 893.0C393.3 882.0 386.7 888.3 320.0 882.0C253.3 875.7 233.3 874.7 300.0 874.0Z" fill="#1d2a72" opacity=".8"/>
<path d="M430.0 925.0C486.7 923.3 530.0 927.3 600.0 935.0C670.0 942.7 673.3 943.7 640.0 948.0C606.7 952.3 570.0 950.7 500.0 948.0C430.0 945.3 453.3 947.7 430.0 940.0C406.7 932.3 373.3 926.7 430.0 925.0Z" fill="#1e2c7c" />
<path d="M34.0 872.0C89.3 868.0 171.3 869.3 200.0 872.0C228.7 874.7 175.3 876.0 120.0 880.0C64.7 884.0 62.7 886.7 34.0 884.0C5.3 881.3 -21.3 876.0 34.0 872.0Z" fill="#2448b0" opacity=".8"/>
<path d="M1422.0 886.0C1372.0 881.3 1362.0 883.3 1232.0 888.0C1102.0 892.7 1155.3 887.7 1032.0 900.0C908.7 912.3 898.7 914.3 862.0 925.0C825.3 935.7 848.7 933.0 922.0 932.0C995.3 931.0 978.7 930.0 1082.0 922.0C1185.3 914.0 1132.0 914.7 1232.0 908.0C1332.0 901.3 1318.7 909.3 1382.0 902.0C1445.3 894.7 1472.0 890.7 1422.0 886.0Z" fill="#1d2a72" />
<path d="M1182.0 874.0C1115.3 873.3 1082.0 869.7 962.0 880.0C842.0 890.3 862.0 893.3 822.0 905.0C782.0 916.7 788.7 919.0 842.0 915.0C895.3 911.0 875.3 904.0 982.0 893.0C1088.7 882.0 1095.3 888.3 1162.0 882.0C1228.7 875.7 1248.7 874.7 1182.0 874.0Z" fill="#1d2a72" opacity=".8"/>
<path d="M1052.0 925.0C995.3 923.3 952.0 927.3 882.0 935.0C812.0 942.7 808.7 943.7 842.0 948.0C875.3 952.3 912.0 950.7 982.0 948.0C1052.0 945.3 1028.7 947.7 1052.0 940.0C1075.3 932.3 1108.7 926.7 1052.0 925.0Z" fill="#1e2c7c" />
<path d="M1448.0 872.0C1392.7 868.0 1310.7 869.3 1282.0 872.0C1253.3 874.7 1306.7 876.0 1362.0 880.0C1417.3 884.0 1419.3 886.7 1448.0 884.0C1476.7 881.3 1503.3 876.0 1448.0 872.0Z" fill="#2448b0" opacity=".8"/>
<path d="M660.0 868.0C723.3 855.7 766.7 855.7 830.0 868.0C893.3 880.3 826.7 881.0 850.0 905.0C873.3 929.0 881.7 922.3 900.0 940.0C918.3 957.7 911.7 943.0 905.0 958.0C898.3 973.0 888.3 970.0 880.0 985.0C871.7 1000.0 872.7 989.7 880.0 1003.0C887.3 1016.3 886.3 1005.0 902.0 1025.0C917.7 1045.0 912.3 1052.3 927.0 1063.0C941.7 1073.7 936.3 1067.3 946.0 1057.0C955.7 1046.7 947.3 1045.7 956.0 1032.0C964.7 1018.3 963.3 1013.0 972.0 1016.0C980.7 1019.0 980.0 1023.0 982.0 1041.0C984.0 1059.0 987.7 1058.3 978.0 1070.0C968.3 1081.7 970.0 1069.7 953.0 1076.0C936.0 1082.3 944.0 1079.3 927.0 1089.0C910.0 1098.7 919.0 1104.0 902.0 1105.0C885.0 1106.0 895.3 1107.0 876.0 1092.0C856.7 1077.0 865.3 1083.3 844.0 1060.0C822.7 1036.7 834.3 1045.3 812.0 1022.0C789.7 998.7 800.7 1004.7 777.0 990.0C753.3 975.3 765.3 978.0 741.0 978.0C716.7 978.0 722.7 977.3 704.0 990.0C685.3 1002.7 699.7 994.7 685.0 1016.0C670.3 1037.3 676.0 1034.0 660.0 1054.0C644.0 1074.0 640.3 1064.3 637.0 1076.0C633.7 1087.7 649.0 1083.3 650.0 1089.0C651.0 1094.7 649.7 1095.0 640.0 1093.0C630.3 1091.0 635.7 1080.0 621.0 1083.0C606.3 1086.0 613.0 1095.7 596.0 1102.0C579.0 1108.3 583.0 1106.3 570.0 1102.0C557.0 1097.7 575.0 1095.3 557.0 1089.0C539.0 1082.7 533.0 1093.7 516.0 1083.0C499.0 1072.3 507.0 1071.0 506.0 1057.0C505.0 1043.0 503.3 1039.0 513.0 1041.0C522.7 1043.0 516.0 1058.7 535.0 1063.0C554.0 1067.3 554.0 1067.7 570.0 1054.0C586.0 1040.3 572.3 1040.0 583.0 1022.0C593.7 1004.0 593.0 1012.3 602.0 1000.0C611.0 987.7 615.7 998.3 610.0 985.0C604.3 971.7 591.7 975.0 585.0 960.0C578.3 945.0 571.7 958.3 590.0 940.0C608.3 921.7 616.7 929.0 640.0 905.0C663.3 881.0 596.7 880.3 660.0 868.0Z" fill="#1d3892" />
<path d="M660.0 868.0C723.3 855.7 766.7 855.7 830.0 868.0C893.3 880.3 826.7 881.0 850.0 905.0C873.3 929.0 881.7 922.3 900.0 940.0C918.3 957.7 911.7 943.0 905.0 958.0C898.3 973.0 888.3 970.0 880.0 985.0C871.7 1000.0 872.7 989.7 880.0 1003.0C887.3 1016.3 886.3 1005.0 902.0 1025.0C917.7 1045.0 912.3 1052.3 927.0 1063.0C941.7 1073.7 936.3 1067.3 946.0 1057.0C955.7 1046.7 947.3 1045.7 956.0 1032.0C964.7 1018.3 963.3 1013.0 972.0 1016.0C980.7 1019.0 980.0 1023.0 982.0 1041.0C984.0 1059.0 987.7 1058.3 978.0 1070.0C968.3 1081.7 970.0 1069.7 953.0 1076.0C936.0 1082.3 944.0 1079.3 927.0 1089.0C910.0 1098.7 919.0 1104.0 902.0 1105.0C885.0 1106.0 895.3 1107.0 876.0 1092.0C856.7 1077.0 865.3 1083.3 844.0 1060.0C822.7 1036.7 834.3 1045.3 812.0 1022.0C789.7 998.7 800.7 1004.7 777.0 990.0C753.3 975.3 765.3 978.0 741.0 978.0C716.7 978.0 722.7 977.3 704.0 990.0C685.3 1002.7 699.7 994.7 685.0 1016.0C670.3 1037.3 676.0 1034.0 660.0 1054.0C644.0 1074.0 640.3 1064.3 637.0 1076.0C633.7 1087.7 649.0 1083.3 650.0 1089.0C651.0 1094.7 649.7 1095.0 640.0 1093.0C630.3 1091.0 635.7 1080.0 621.0 1083.0C606.3 1086.0 613.0 1095.7 596.0 1102.0C579.0 1108.3 583.0 1106.3 570.0 1102.0C557.0 1097.7 575.0 1095.3 557.0 1089.0C539.0 1082.7 533.0 1093.7 516.0 1083.0C499.0 1072.3 507.0 1071.0 506.0 1057.0C505.0 1043.0 503.3 1039.0 513.0 1041.0C522.7 1043.0 516.0 1058.7 535.0 1063.0C554.0 1067.3 554.0 1067.7 570.0 1054.0C586.0 1040.3 572.3 1040.0 583.0 1022.0C593.7 1004.0 593.0 1012.3 602.0 1000.0C611.0 987.7 615.7 998.3 610.0 985.0C604.3 971.7 591.7 975.0 585.0 960.0C578.3 945.0 571.7 958.3 590.0 940.0C608.3 921.7 616.7 929.0 640.0 905.0C663.3 881.0 596.7 880.3 660.0 868.0Z" fill="#000" filter="url(#tx_dk)" opacity=".8"/>
<path d="M660.0 868.0C723.3 855.7 766.7 855.7 830.0 868.0C893.3 880.3 826.7 881.0 850.0 905.0C873.3 929.0 881.7 922.3 900.0 940.0C918.3 957.7 911.7 943.0 905.0 958.0C898.3 973.0 888.3 970.0 880.0 985.0C871.7 1000.0 872.7 989.7 880.0 1003.0C887.3 1016.3 886.3 1005.0 902.0 1025.0C917.7 1045.0 912.3 1052.3 927.0 1063.0C941.7 1073.7 936.3 1067.3 946.0 1057.0C955.7 1046.7 947.3 1045.7 956.0 1032.0C964.7 1018.3 963.3 1013.0 972.0 1016.0C980.7 1019.0 980.0 1023.0 982.0 1041.0C984.0 1059.0 987.7 1058.3 978.0 1070.0C968.3 1081.7 970.0 1069.7 953.0 1076.0C936.0 1082.3 944.0 1079.3 927.0 1089.0C910.0 1098.7 919.0 1104.0 902.0 1105.0C885.0 1106.0 895.3 1107.0 876.0 1092.0C856.7 1077.0 865.3 1083.3 844.0 1060.0C822.7 1036.7 834.3 1045.3 812.0 1022.0C789.7 998.7 800.7 1004.7 777.0 990.0C753.3 975.3 765.3 978.0 741.0 978.0C716.7 978.0 722.7 977.3 704.0 990.0C685.3 1002.7 699.7 994.7 685.0 1016.0C670.3 1037.3 676.0 1034.0 660.0 1054.0C644.0 1074.0 640.3 1064.3 637.0 1076.0C633.7 1087.7 649.0 1083.3 650.0 1089.0C651.0 1094.7 649.7 1095.0 640.0 1093.0C630.3 1091.0 635.7 1080.0 621.0 1083.0C606.3 1086.0 613.0 1095.7 596.0 1102.0C579.0 1108.3 583.0 1106.3 570.0 1102.0C557.0 1097.7 575.0 1095.3 557.0 1089.0C539.0 1082.7 533.0 1093.7 516.0 1083.0C499.0 1072.3 507.0 1071.0 506.0 1057.0C505.0 1043.0 503.3 1039.0 513.0 1041.0C522.7 1043.0 516.0 1058.7 535.0 1063.0C554.0 1067.3 554.0 1067.7 570.0 1054.0C586.0 1040.3 572.3 1040.0 583.0 1022.0C593.7 1004.0 593.0 1012.3 602.0 1000.0C611.0 987.7 615.7 998.3 610.0 985.0C604.3 971.7 591.7 975.0 585.0 960.0C578.3 945.0 571.7 958.3 590.0 940.0C608.3 921.7 616.7 929.0 640.0 905.0C663.3 881.0 596.7 880.3 660.0 868.0Z" fill="#000" filter="url(#tx_lt)" />
<path d="M700.0 872.0C733.3 852.7 756.7 852.7 790.0 872.0C823.3 891.3 803.3 895.7 800.0 930.0C796.7 964.3 799.7 961.7 780.0 975.0C760.3 988.3 766.0 970.0 741.0 970.0C716.0 970.0 722.0 988.3 705.0 975.0C688.0 961.7 691.7 964.3 690.0 930.0C688.3 895.7 666.7 891.3 700.0 872.0Z" fill="#2044a4" />
<ellipse cx="752.0" cy="905.0" rx="10.0" ry="26.0" fill="#2852b8" />
<ellipse cx="728.0" cy="930.0" rx="8.0" ry="18.0" fill="#2650b4" />
<ellipse cx="775.0" cy="945.0" rx="9.0" ry="16.0" fill="#2650b4" />
<path d="M610.0 1010.0C631.7 988.3 626.7 996.7 650.0 985.0C673.3 973.3 676.7 963.3 680.0 975.0C683.3 986.7 676.7 995.0 660.0 1020.0C643.3 1045.0 650.0 1033.3 630.0 1050.0C610.0 1066.7 615.0 1070.0 600.0 1070.0C585.0 1070.0 581.7 1070.0 585.0 1050.0C588.3 1030.0 588.3 1031.7 610.0 1010.0Z" fill="#2248aa" />
<path d="M872.0 1010.0C850.3 988.3 855.3 996.7 832.0 985.0C808.7 973.3 805.3 963.3 802.0 975.0C798.7 986.7 805.3 995.0 822.0 1020.0C838.7 1045.0 832.0 1033.3 852.0 1050.0C872.0 1066.7 867.0 1070.0 882.0 1070.0C897.0 1070.0 900.3 1070.0 897.0 1050.0C893.7 1030.0 893.7 1031.7 872.0 1010.0Z" fill="#2248aa" />
<path d="M520.0 1062.0C530.0 1058.7 533.3 1062.3 560.0 1070.0C586.7 1077.7 596.7 1076.7 600.0 1085.0C603.3 1093.3 593.3 1096.7 570.0 1095.0C546.7 1093.3 546.7 1091.0 530.0 1080.0C513.3 1069.0 510.0 1065.3 520.0 1062.0Z" fill="#2248aa" />
<path d="M962.0 1062.0C952.0 1058.7 948.7 1062.3 922.0 1070.0C895.3 1077.7 885.3 1076.7 882.0 1085.0C878.7 1093.3 888.7 1096.7 912.0 1095.0C935.3 1093.3 935.3 1091.0 952.0 1080.0C968.7 1069.0 972.0 1065.3 962.0 1062.0Z" fill="#2248aa" />
<ellipse cx="836.0" cy="1097.0" rx="14.0" ry="7.0" fill="#1f3a96" transform="rotate(-20 836 1097)"/>
</g>
</g>
<text x="1470" y="692" font-size="67">Pressure/MPa</text>
<text x="1731.0" y="759.6" font-size="66" text-anchor="end">5.384</text>
<text x="1731.0" y="819" font-size="66" text-anchor="end">4.486</text>
<text x="1731.0" y="877.4" font-size="66" text-anchor="end">3.589</text>
<text x="1731.0" y="937" font-size="66" text-anchor="end">2.692</text>
<text x="1731.0" y="996.6" font-size="66" text-anchor="end">1.795</text>
<text x="1731.0" y="1056" font-size="66" text-anchor="end">0.897</text>
<text x="1731.0" y="1114.5" font-size="66" text-anchor="end">0</text>
<rect x="1751" y="738.0" width="22.59999999999991" height="59.8" fill="#ea2127"/>
<rect x="1751" y="797.3" width="22.59999999999991" height="59.8" fill="#f0bb35"/>
<rect x="1751" y="856.5" width="22.59999999999991" height="59.8" fill="#7ec43a"/>
<rect x="1751" y="915.8" width="22.59999999999991" height="59.8" fill="#62bd6a"/>
<rect x="1751" y="975.1" width="22.59999999999991" height="59.8" fill="#2bbfe8"/>
<rect x="1751" y="1034.3" width="22.59999999999991" height="59.8" fill="#2355a9"/>
<rect x="1743.5" y="736.4" width="8" height="3.2" fill="#231f20"/>
<rect x="1743.5" y="795.7" width="8" height="3.2" fill="#231f20"/>
<rect x="1743.5" y="854.9" width="8" height="3.2" fill="#231f20"/>
<rect x="1743.5" y="914.2" width="8" height="3.2" fill="#231f20"/>
<rect x="1743.5" y="973.5" width="8" height="3.2" fill="#231f20"/>
<rect x="1743.5" y="1032.7" width="8" height="3.2" fill="#231f20"/>
<rect x="1743.5" y="1092.0" width="8" height="3.2" fill="#231f20"/>
<text x="936" y="1210.6" font-size="66" text-anchor="middle">(c) 0.604 ms</text>
<rect x="1937.0" y="645.0" width="1417.0" height="198.0" fill="#c8d0ee" />
<g clip-path="url(#d_slab)">
<rect x="1939.0" y="647.0" width="1413.0" height="194.0" fill="#5ccbdc" />
<g filter="url(#b2)">
<rect x="1845.5" y="642.0" width="240.0" height="204.0" fill="#3a5aa9" />
<rect x="2083.5" y="642.0" width="94.0" height="204.0" fill="#4b86cc" />
<ellipse cx="2125.5" cy="744.0" rx="62.0" ry="92.0" fill="#4b86cc" />
<rect x="2045.5" y="642.0" width="25.0" height="25.0" fill="#3a5aa9" />
<rect x="2045.5" y="821.0" width="25.0" height="25.0" fill="#3a5aa9" />
<ellipse cx="2114.5" cy="744.0" rx="15.5" ry="80.0" fill="#5ccbdc" />
<ellipse cx="2147.0" cy="744.0" rx="14.0" ry="96.0" fill="#5ccbdc" />
<rect x="2165.5" y="655.0" width="15.0" height="178.0" fill="#5ccbdc" />
<rect x="2184.5" y="642.0" width="54.0" height="204.0" fill="#6ec8a4" />
<ellipse cx="2193.5" cy="744.0" rx="20.0" ry="18.0" fill="#78c858" />
<ellipse cx="2323.5" cy="684.0" rx="13.0" ry="28.0" fill="#74c890" />
<ellipse cx="2323.5" cy="804.0" rx="13.0" ry="28.0" fill="#74c890" />
<ellipse cx="2361.5" cy="684.0" rx="13.0" ry="28.0" fill="#74c890" />
<ellipse cx="2361.5" cy="804.0" rx="13.0" ry="28.0" fill="#74c890" />
<ellipse cx="2394.5" cy="684.0" rx="15.0" ry="28.0" fill="#74c890" />
<ellipse cx="2394.5" cy="804.0" rx="15.0" ry="28.0" fill="#74c890" />
<ellipse cx="2394.5" cy="700.0" rx="13.0" ry="24.0" fill="#7cc850" />
<ellipse cx="2394.5" cy="800.0" rx="13.0" ry="24.0" fill="#7cc850" />
<ellipse cx="2305.0" cy="744.0" rx="24.0" ry="23.0" fill="#4b86cc" />
<rect x="2305.5" y="733.0" width="86.0" height="22.0" fill="#4b86cc" />
<ellipse cx="2389.5" cy="744.0" rx="10.0" ry="11.0" fill="#4b86cc" />
<rect x="2417.5" y="642.0" width="28.0" height="204.0" fill="#5ccbdc" />
<rect x="2449.5" y="642.0" width="31.0" height="204.0" fill="#74c878" />
<rect x="2483.5" y="642.0" width="31.0" height="204.0" fill="#5ccbdc" />
<ellipse cx="2498.5" cy="706.0" rx="8.0" ry="20.0" fill="#45b4e6" />
<ellipse cx="2498.5" cy="790.0" rx="8.0" ry="16.0" fill="#45b4e6" />
<path d="M2430.5 740.0C2437.8 734.3 2443.2 733.3 2455.5 735.0C2467.8 736.7 2469.2 738.0 2467.5 745.0C2465.8 752.0 2461.8 753.7 2450.5 756.0C2439.2 758.3 2440.2 757.3 2433.5 752.0C2426.8 746.7 2423.2 745.7 2430.5 740.0Z" fill="#3f86d2" />
<rect x="2517.5" y="642.0" width="128.0" height="204.0" fill="#70c450" />
<rect x="2533.5" y="642.0" width="46.0" height="204.0" fill="#64c05c" />
<ellipse cx="2550.5" cy="744.0" rx="26.0" ry="40.0" fill="#4eb65c" />
<ellipse cx="2570.5" cy="702.0" rx="12.0" ry="10.0" fill="#c8d850" />
<ellipse cx="2572.5" cy="788.0" rx="13.0" ry="9.0" fill="#d0dc50" />
<ellipse cx="2605.5" cy="690.0" rx="8.0" ry="10.0" fill="#b8d448" />
<ellipse cx="2607.5" cy="800.0" rx="8.0" ry="10.0" fill="#b8d448" />
<ellipse cx="2595.5" cy="715.0" rx="12.0" ry="7.0" fill="#e0963c" />
<ellipse cx="2585.5" cy="747.0" rx="18.0" ry="24.0" fill="#3a5fc0" />
<ellipse cx="2600.5" cy="742.0" rx="5.0" ry="12.0" fill="#e0502c" />
<ellipse cx="2601.5" cy="756.0" rx="4.0" ry="6.0" fill="#e8c840" />
<rect x="3205.5" y="642.0" width="240.0" height="204.0" fill="#3a5aa9" />
<rect x="3113.5" y="642.0" width="94.0" height="204.0" fill="#4b86cc" />
<ellipse cx="3165.5" cy="744.0" rx="62.0" ry="92.0" fill="#4b86cc" />
<rect x="3220.5" y="642.0" width="25.0" height="25.0" fill="#3a5aa9" />
<rect x="3220.5" y="821.0" width="25.0" height="25.0" fill="#3a5aa9" />
<ellipse cx="3176.5" cy="744.0" rx="15.5" ry="80.0" fill="#5ccbdc" />
<ellipse cx="3144.0" cy="744.0" rx="14.0" ry="96.0" fill="#5ccbdc" />
<rect x="3110.5" y="655.0" width="15.0" height="178.0" fill="#5ccbdc" />
<rect x="3052.5" y="642.0" width="54.0" height="204.0" fill="#6ec8a4" />
<ellipse cx="3097.5" cy="744.0" rx="20.0" ry="18.0" fill="#78c858" />
<ellipse cx="2967.5" cy="684.0" rx="13.0" ry="28.0" fill="#74c890" />
<ellipse cx="2967.5" cy="804.0" rx="13.0" ry="28.0" fill="#74c890" />
<ellipse cx="2929.5" cy="684.0" rx="13.0" ry="28.0" fill="#74c890" />
<ellipse cx="2929.5" cy="804.0" rx="13.0" ry="28.0" fill="#74c890" />
<ellipse cx="2896.5" cy="684.0" rx="15.0" ry="28.0" fill="#74c890" />
<ellipse cx="2896.5" cy="804.0" rx="15.0" ry="28.0" fill="#74c890" />
<ellipse cx="2896.5" cy="700.0" rx="13.0" ry="24.0" fill="#7cc850" />
<ellipse cx="2896.5" cy="800.0" rx="13.0" ry="24.0" fill="#7cc850" />
<ellipse cx="2986.0" cy="744.0" rx="24.0" ry="23.0" fill="#4b86cc" />
<rect x="2899.5" y="733.0" width="86.0" height="22.0" fill="#4b86cc" />
<ellipse cx="2901.5" cy="744.0" rx="10.0" ry="11.0" fill="#4b86cc" />
<rect x="2845.5" y="642.0" width="28.0" height="204.0" fill="#5ccbdc" />
<rect x="2810.5" y="642.0" width="31.0" height="204.0" fill="#74c878" />
<rect x="2776.5" y="642.0" width="31.0" height="204.0" fill="#5ccbdc" />
<ellipse cx="2792.5" cy="706.0" rx="8.0" ry="20.0" fill="#45b4e6" />
<ellipse cx="2792.5" cy="790.0" rx="8.0" ry="16.0" fill="#45b4e6" />
<path d="M2860.5 740.0C2853.2 734.3 2847.8 733.3 2835.5 735.0C2823.2 736.7 2821.8 738.0 2823.5 745.0C2825.2 752.0 2829.2 753.7 2840.5 756.0C2851.8 758.3 2850.8 757.3 2857.5 752.0C2864.2 746.7 2867.8 745.7 2860.5 740.0Z" fill="#3f86d2" />
<rect x="2645.5" y="642.0" width="128.0" height="204.0" fill="#70c450" />
<rect x="2711.5" y="642.0" width="46.0" height="204.0" fill="#64c05c" />
<ellipse cx="2740.5" cy="744.0" rx="26.0" ry="40.0" fill="#4eb65c" />
<ellipse cx="2720.5" cy="702.0" rx="12.0" ry="10.0" fill="#c8d850" />
<ellipse cx="2718.5" cy="788.0" rx="13.0" ry="9.0" fill="#d0dc50" />
<ellipse cx="2685.5" cy="690.0" rx="8.0" ry="10.0" fill="#b8d448" />
<ellipse cx="2683.5" cy="800.0" rx="8.0" ry="10.0" fill="#b8d448" />
<ellipse cx="2695.5" cy="715.0" rx="12.0" ry="7.0" fill="#e0963c" />
<ellipse cx="2705.5" cy="747.0" rx="18.0" ry="24.0" fill="#3a5fc0" />
<ellipse cx="2690.5" cy="742.0" rx="5.0" ry="12.0" fill="#e0502c" />
<ellipse cx="2689.5" cy="756.0" rx="4.0" ry="6.0" fill="#e8c840" />
<path d="M2611.0 744.0C2610.3 724.0 2608.3 728.7 2618.0 715.0C2627.7 701.3 2624.3 706.0 2640.0 703.0C2655.7 700.0 2651.7 698.7 2665.0 706.0C2678.3 713.3 2674.3 707.0 2680.0 725.0C2685.7 743.0 2686.0 740.3 2682.0 760.0C2678.0 779.7 2682.0 775.0 2668.0 784.0C2654.0 793.0 2656.0 790.0 2640.0 787.0C2624.0 784.0 2629.7 789.3 2620.0 775.0C2610.3 760.7 2611.7 764.0 2611.0 744.0Z" fill="#5ccbdc" />
<ellipse cx="2646.0" cy="744.0" rx="6.0" ry="30.0" fill="#78cca0" />
</g>
<path d="M2620.5 647V841M2670.5 647V841M2588.5 647V841M2702.5 647V841M2550.5 647V841M2740.5 647V841M2517.5 647V841M2773.5 647V841M2480.5 647V841M2810.5 647V841M2447.5 647V841M2843.5 647V841M2409.5 647V841M2881.5 647V841M2377.5 647V841M2913.5 647V841M2341.5 647V841M2949.5 647V841M2306.5 647V841M2984.5 647V841M2269.5 647V841M3021.5 647V841M2237.5 647V841M3053.5 647V841M2179.5 647V841M3111.5 647V841M2158.5 647V841M3132.5 647V841M2125.5 647V841M3165.5 647V841M2088.5 647V841M3202.5 647V841" stroke="#108a88" stroke-width="4.5" fill="none" opacity=".75"/>
<path d="M2057.5 647V841M3233.5 647V841M2017.5 647V841M3273.5 647V841M1985.5 647V841M3305.5 647V841" stroke="#2a3a98" stroke-width="4" fill="none" opacity=".8"/>
<path d="M2088.5 744H2125.5M3202.5 744H3165.5M2158.5 744H2179.5M3132.5 744H3111.5" stroke="#108a88" stroke-width="3" fill="none" opacity=".7"/>
<path d="M1936.5 744H1985.5M3354.5 744H3305.5M2017.5 744H2057.5M3273.5 744H3233.5" stroke="#2a3a98" stroke-width="2.5" fill="none" opacity=".7"/>
</g>
<g clip-path="url(#d_cl)">
<g filter="url(#b1)">
<path d="M1938.0 849.0L3352.0 849.0L3352.0 922.8L3296.0 924.0L3234.0 929.0L3171.0 937.0L3109.0 948.0L3046.0 958.7L3032.0 966.0L3027.0 950.0L3018.0 946.0L2978.0 948.0L2968.0 960.0L2962.0 974.0L2332.0 974.0L2328.0 965.0L2320.6 955.6L2305.0 944.7L2274.0 938.4L2242.0 941.6L2180.0 937.0L2117.0 930.6L2055.0 923.0L1938.0 920.6Z" fill="#1b2e84" />
<path d="M1938 849L3352 849L3352 922.8L3296 924L3234 929L3171 937L3109 948L3046 958.7L3032 966L3027 950L3018 946L2978 948L2968 960L2962 974L2332 974L2328 965L2320.6 955.6L2305 944.7L2274 938.4L2242 941.6L2180 937L2117 930.6L2055 923L1938 920.6Z" fill="#000" filter="url(#tx_dk_h)" opacity=".9"/>
<path d="M1938 849L3352 849L3352 922.8L3296 924L3234 929L3171 937L3109 948L3046 958.7L3032 966L3027 950L3018 946L2978 948L2968 960L2962 974L2332 974L2328 965L2320.6 955.6L2305 944.7L2274 938.4L2242 941.6L2180 937L2117 930.6L2055 923L1938 920.6Z" fill="#000" filter="url(#tx_lt_h)" opacity=".8"/>
<path d="M1945.0 866.0C2013.3 860.0 2015.0 857.3 2150.0 862.0C2285.0 866.7 2240.0 862.3 2350.0 880.0C2460.0 897.7 2423.3 891.7 2480.0 915.0C2536.7 938.3 2526.7 940.0 2520.0 950.0C2513.3 960.0 2516.7 957.7 2460.0 945.0C2403.3 932.3 2453.3 932.0 2350.0 912.0C2246.7 892.0 2285.0 895.7 2150.0 885.0C2015.0 874.3 2013.3 886.3 1945.0 880.0C1876.7 873.7 1876.7 872.0 1945.0 866.0Z" fill="#1d2a72" />
<path d="M1945.0 898.0C1996.7 893.0 1998.3 893.3 2100.0 900.0C2201.7 906.7 2173.3 904.7 2250.0 918.0C2326.7 931.3 2306.7 927.7 2330.0 940.0C2353.3 952.3 2350.0 955.7 2320.0 955.0C2290.0 954.3 2313.3 949.7 2240.0 938.0C2166.7 926.3 2198.3 927.7 2100.0 920.0C2001.7 912.3 1996.7 922.3 1945.0 915.0C1893.3 907.7 1893.3 903.0 1945.0 898.0Z" fill="#1d2a72" />
<path d="M2040.0 890.0C2093.3 888.3 2103.3 886.3 2200.0 893.0C2296.7 899.7 2296.7 901.7 2330.0 910.0C2363.3 918.3 2350.0 919.7 2300.0 918.0C2250.0 916.3 2266.7 911.7 2180.0 905.0C2093.3 898.3 2086.7 903.0 2040.0 898.0C1993.3 893.0 1986.7 891.7 2040.0 890.0Z" fill="#2448aa" />
<path d="M1945.0 850.0C2046.7 846.7 2165.0 847.3 2250.0 850.0C2335.0 852.7 2301.7 854.7 2200.0 858.0C2098.3 861.3 2030.0 862.7 1945.0 860.0C1860.0 857.3 1843.3 853.3 1945.0 850.0Z" fill="#2448ac" />
<path d="M3345.0 862.0C3280.0 858.0 3271.7 858.7 3150.0 868.0C3028.3 877.3 3076.7 871.0 2980.0 890.0C2883.3 909.0 2920.0 901.7 2860.0 925.0C2800.0 948.3 2796.7 951.7 2800.0 960.0C2803.3 968.3 2806.7 965.0 2870.0 950.0C2933.3 935.0 2896.7 934.3 2990.0 915.0C3083.3 895.7 3031.7 903.7 3150.0 892.0C3268.3 880.3 3280.0 890.0 3345.0 880.0C3410.0 870.0 3410.0 866.0 3345.0 862.0Z" fill="#1d2a72" />
<path d="M3345.0 905.0C3296.7 902.3 3288.3 903.0 3200.0 912.0C3111.7 921.0 3146.7 920.0 3080.0 932.0C3013.3 944.0 3013.3 940.3 3000.0 948.0C2986.7 955.7 3000.0 957.7 3040.0 955.0C3080.0 952.3 3060.0 950.0 3120.0 940.0C3180.0 930.0 3145.0 931.7 3220.0 925.0C3295.0 918.3 3303.3 926.7 3345.0 920.0C3386.7 913.3 3393.3 907.7 3345.0 905.0Z" fill="#1d2a72" />
<path d="M3330.0 885.0C3286.7 881.7 3290.0 881.3 3200.0 888.0C3110.0 894.7 3140.0 889.3 3060.0 905.0C2980.0 920.7 2980.0 924.0 2960.0 935.0C2940.0 946.0 2956.7 943.7 3000.0 938.0C3043.3 932.3 3016.7 930.0 3090.0 918.0C3163.3 906.0 3140.0 908.7 3220.0 902.0C3300.0 895.3 3293.3 903.7 3330.0 898.0C3366.7 892.3 3373.3 888.3 3330.0 885.0Z" fill="#2448aa" />
<path d="M2420.0 852.0C2590.0 836.0 2800.0 836.0 2960.0 852.0C3120.0 868.0 2933.3 864.0 2900.0 900.0C2866.7 936.0 2900.0 936.0 2860.0 960.0C2820.0 984.0 2833.3 958.7 2780.0 972.0C2726.7 985.3 2743.3 987.3 2700.0 1000.0C2656.7 1012.7 2683.3 1019.3 2650.0 1010.0C2616.7 1000.7 2650.0 988.7 2600.0 972.0C2550.0 955.3 2550.0 984.0 2500.0 960.0C2450.0 936.0 2476.7 936.0 2450.0 900.0C2423.3 864.0 2250.0 868.0 2420.0 852.0Z" fill="#1d3690" />
<path d="M2420.0 852.0C2590.0 836.0 2800.0 836.0 2960.0 852.0C3120.0 868.0 2933.3 864.0 2900.0 900.0C2866.7 936.0 2900.0 936.0 2860.0 960.0C2820.0 984.0 2833.3 958.7 2780.0 972.0C2726.7 985.3 2743.3 987.3 2700.0 1000.0C2656.7 1012.7 2683.3 1019.3 2650.0 1010.0C2616.7 1000.7 2650.0 988.7 2600.0 972.0C2550.0 955.3 2550.0 984.0 2500.0 960.0C2450.0 936.0 2476.7 936.0 2450.0 900.0C2423.3 864.0 2250.0 868.0 2420.0 852.0Z" fill="#000" filter="url(#tx_dk)" opacity=".85"/>
<path d="M2420.0 852.0C2590.0 836.0 2800.0 836.0 2960.0 852.0C3120.0 868.0 2933.3 864.0 2900.0 900.0C2866.7 936.0 2900.0 936.0 2860.0 960.0C2820.0 984.0 2833.3 958.7 2780.0 972.0C2726.7 985.3 2743.3 987.3 2700.0 1000.0C2656.7 1012.7 2683.3 1019.3 2650.0 1010.0C2616.7 1000.7 2650.0 988.7 2600.0 972.0C2550.0 955.3 2550.0 984.0 2500.0 960.0C2450.0 936.0 2476.7 936.0 2450.0 900.0C2423.3 864.0 2250.0 868.0 2420.0 852.0Z" fill="#000" filter="url(#tx_lt)" />
<ellipse cx="2520.0" cy="900.0" rx="40.0" ry="14.0" fill="#2248aa" />
<ellipse cx="2600.0" cy="880.0" rx="30.0" ry="18.0" fill="#2248aa" />
<ellipse cx="2680.0" cy="900.0" rx="26.0" ry="40.0" fill="#2650b4" />
<ellipse cx="2740.0" cy="870.0" rx="30.0" ry="12.0" fill="#2248aa" />
<ellipse cx="2790.0" cy="930.0" rx="24.0" ry="20.0" fill="#2044a4" />
<ellipse cx="2560.0" cy="945.0" rx="26.0" ry="12.0" fill="#2044a4" />
<ellipse cx="2660.0" cy="960.0" rx="16.0" ry="24.0" fill="#2650b4" />
<ellipse cx="2840.0" cy="890.0" rx="28.0" ry="10.0" fill="#2044a4" />
<ellipse cx="2470.0" cy="870.0" rx="22.0" ry="8.0" fill="#2044a4" />
<ellipse cx="2720.0" cy="945.0" rx="14.0" ry="20.0" fill="#2044a4" />
<path d="M2470 855L2530 965" stroke="#161e5c" stroke-width="5" opacity=".8"/>
<path d="M2540 852L2600 940" stroke="#161e5c" stroke-width="5" opacity=".8"/>
<path d="M2620 852L2655 900" stroke="#161e5c" stroke-width="5" opacity=".8"/>
<path d="M2830 855L2760 960" stroke="#161e5c" stroke-width="5" opacity=".8"/>
<path d="M2900 860L2820 940" stroke="#161e5c" stroke-width="5" opacity=".8"/>
<path d="M2700 900L2690 980" stroke="#161e5c" stroke-width="5" opacity=".8"/>
<ellipse cx="2275.0" cy="964.0" rx="11.0" ry="6.0" fill="#2a56c0" />
</g>
</g>
<g clip-path="url(#d_br)">
<path d="M1947 971.7H3343.7V995L3083 1022L3031 1114H2257.8L2213 1024L1947 996Z" fill="#5ccbdc"/>
<g filter="url(#b2)">
<path d="M1945.0 970.0L1992.0 970.0L1985.0 990.0L1960.0 1000.0L1945.0 1000.0Z" fill="#3a5aa9" />
<path d="M2033.0 977.0C2042.0 971.3 2054.7 970.7 2067.0 975.0C2079.3 979.3 2079.0 984.3 2070.0 990.0C2061.0 995.7 2052.3 996.3 2040.0 992.0C2027.7 987.7 2024.0 982.7 2033.0 977.0Z" fill="#4b86cc" />
<path d="M2067.0 993.0C2075.0 988.3 2084.7 988.3 2099.0 992.0C2113.3 995.7 2118.0 999.3 2110.0 1004.0C2102.0 1008.7 2089.3 1009.7 2075.0 1006.0C2060.7 1002.3 2059.0 997.7 2067.0 993.0Z" fill="#74c890" />
<path d="M2102.0 993.0C2120.3 986.0 2123.7 986.0 2160.0 985.0C2196.3 984.0 2192.7 976.3 2211.0 990.0C2229.3 1003.7 2232.0 1017.3 2215.0 1026.0C2198.0 1034.7 2196.7 1022.7 2160.0 1016.0C2123.3 1009.3 2124.3 1013.7 2105.0 1006.0C2085.7 998.3 2083.7 1000.0 2102.0 993.0Z" fill="#4b86cc" />
<path d="M1990.0 975.0C2005.0 972.7 2023.3 977.3 2030.0 985.0C2036.7 992.7 2025.0 995.7 2010.0 998.0C1995.0 1000.3 1991.7 999.7 1985.0 992.0C1978.3 984.3 1975.0 977.3 1990.0 975.0Z" fill="#4b86cc" />
<path d="M2195.6 979.0C2206.9 963.0 2223.4 970.3 2239.0 976.0C2254.6 981.7 2237.2 984.0 2242.5 996.0C2247.8 1008.0 2244.5 1006.7 2255.0 1012.0C2265.5 1017.3 2265.7 1023.0 2274.0 1012.0C2282.3 1001.0 2269.7 990.5 2280.0 979.0C2290.3 967.5 2293.7 968.6 2305.0 977.5C2316.3 986.4 2316.0 986.8 2314.0 1005.6C2312.0 1024.4 2310.3 1021.5 2299.0 1034.0C2287.7 1046.5 2290.5 1032.7 2280.0 1043.0C2269.5 1053.3 2268.5 1054.7 2267.5 1065.0C2266.5 1075.3 2281.2 1067.7 2277.0 1074.0C2272.8 1080.3 2268.0 1082.8 2255.0 1084.0C2242.0 1085.2 2254.7 1097.5 2238.0 1077.5C2221.3 1057.5 2219.1 1056.8 2205.0 1024.0C2190.9 991.2 2184.3 995.0 2195.6 979.0Z" fill="#4b86cc" />
<path d="M2345.0 981.0C2356.3 972.7 2365.3 972.0 2377.0 980.0C2388.7 988.0 2385.7 993.0 2380.0 1005.0C2374.3 1017.0 2372.3 1016.0 2360.0 1016.0C2347.7 1016.0 2348.0 1016.7 2343.0 1005.0C2338.0 993.3 2333.7 989.3 2345.0 981.0Z" fill="#4b86cc" />
<path d="M2380.0 974.0C2430.0 963.7 2486.7 970.3 2560.0 974.0C2633.3 977.7 2573.3 976.3 2600.0 985.0C2626.7 993.7 2640.0 991.0 2640.0 1000.0C2640.0 1009.0 2638.7 1008.0 2600.0 1012.0C2561.3 1016.0 2571.3 1011.0 2524.0 1012.0C2476.7 1013.0 2481.0 1004.7 2458.0 1015.0C2435.0 1025.3 2483.0 1032.0 2455.0 1043.0C2427.0 1054.0 2399.0 1053.2 2374.0 1048.0C2349.0 1042.8 2368.0 1041.8 2380.0 1027.5C2392.0 1013.2 2410.0 1022.8 2410.0 1005.0C2410.0 987.2 2330.0 984.3 2380.0 974.0Z" fill="#6cc35c" />
<path d="M2400.0 980.0C2423.3 965.3 2436.7 971.0 2470.0 976.0C2503.3 981.0 2510.0 983.7 2500.0 995.0C2490.0 1006.3 2473.3 1001.7 2440.0 1010.0C2406.7 1018.3 2413.3 1030.0 2400.0 1020.0C2386.7 1010.0 2376.7 994.7 2400.0 980.0Z" fill="#7cc850" />
<path d="M2518.0 990.0C2524.7 981.0 2536.0 980.0 2550.0 985.0C2564.0 990.0 2566.7 996.0 2560.0 1005.0C2553.3 1014.0 2544.0 1017.0 2530.0 1012.0C2516.0 1007.0 2511.3 999.0 2518.0 990.0Z" fill="#2e8a4a" />
<path d="M2615.0 1005.0C2623.3 995.7 2640.0 991.7 2650.0 1000.0C2660.0 1008.3 2653.3 1020.7 2645.0 1030.0C2636.7 1039.3 2635.0 1036.3 2625.0 1028.0C2615.0 1019.7 2606.7 1014.3 2615.0 1005.0Z" fill="#2e8a4a" />
<path d="M2320.0 1062.0C2353.3 1060.3 2353.0 1075.7 2400.0 1085.0C2447.0 1094.3 2434.3 1082.0 2461.0 1090.0C2487.7 1098.0 2527.0 1101.7 2480.0 1109.0C2433.0 1116.3 2380.0 1118.3 2320.0 1112.0C2260.0 1105.7 2300.0 1106.7 2300.0 1090.0C2300.0 1073.3 2286.7 1063.7 2320.0 1062.0Z" fill="#6ec8a4" />
<path d="M2367.0 1103.0C2392.0 1098.3 2417.0 1097.7 2442.0 1102.0C2467.0 1106.3 2467.0 1111.3 2442.0 1116.0C2417.0 1120.7 2392.0 1120.3 2367.0 1116.0C2342.0 1111.7 2342.0 1107.7 2367.0 1103.0Z" fill="#4b86cc" />
<rect x="2258.0" y="1109.0" width="220.0" height="6.0" fill="#2a9aa8" />
<rect x="2818.0" y="1109.0" width="214.0" height="6.0" fill="#2a9aa8" />
<path d="M2603.0 1111.0L2625.0 1081.0L2645.0 1111.0Z" fill="#4b86cc" />
<path d="M2650.0 1111.0L2672.0 1084.0L2692.0 1111.0Z" fill="#4b86cc" />
<path d="M2560.0 1060.0C2573.3 1046.7 2573.3 1045.0 2600.0 1050.0C2626.7 1055.0 2640.0 1060.0 2640.0 1075.0C2640.0 1090.0 2626.7 1090.0 2600.0 1095.0C2573.3 1100.0 2573.3 1101.7 2560.0 1090.0C2546.7 1078.3 2546.7 1073.3 2560.0 1060.0Z" fill="#6ec8a4" />
<path d="M2774.0 977.5C2817.7 965.8 2870.7 967.5 2921.0 975.0C2971.3 982.5 2932.0 983.7 2925.0 1000.0C2918.0 1016.3 2931.7 1017.3 2900.0 1024.0C2868.3 1030.7 2866.7 1024.7 2830.0 1020.0C2793.3 1015.3 2808.7 1024.2 2790.0 1010.0C2771.3 995.8 2730.3 989.2 2774.0 977.5Z" fill="#6cc35c" />
<path d="M2800.0 980.0C2820.0 971.0 2856.7 969.7 2880.0 978.0C2903.3 986.3 2890.0 996.0 2870.0 1005.0C2850.0 1014.0 2843.3 1013.3 2820.0 1005.0C2796.7 996.7 2780.0 989.0 2800.0 980.0Z" fill="#7cc850" />
<path d="M2915.0 979.0C2925.7 973.0 2938.7 972.3 2952.0 977.0C2965.3 981.7 2965.7 987.0 2955.0 993.0C2944.3 999.0 2933.3 999.7 2920.0 995.0C2906.7 990.3 2904.3 985.0 2915.0 979.0Z" fill="#4b86cc" />
<path d="M2983.7 980.6C2997.4 968.6 3004.6 970.7 3015.0 979.0C3025.4 987.3 3005.7 993.6 3015.0 1005.6C3024.3 1017.6 3031.7 1019.2 3043.0 1015.0C3054.3 1010.8 3033.3 1003.4 3049.0 993.0C3064.7 982.6 3077.3 978.5 3090.0 983.7C3102.7 988.9 3093.3 993.1 3087.0 1008.7C3080.7 1024.3 3081.5 1013.9 3071.0 1030.6C3060.5 1047.3 3071.3 1044.2 3055.6 1058.7C3039.9 1073.2 3037.5 1075.0 3024.0 1074.0C3010.5 1073.0 3025.3 1069.0 3015.0 1055.6C3004.7 1042.2 3006.7 1047.2 2993.0 1033.7C2979.3 1020.2 2977.1 1032.7 2974.0 1015.0C2970.9 997.3 2970.0 992.6 2983.7 980.6Z" fill="#4b86cc" />
<path d="M3090.0 993.0C3122.3 982.3 3153.7 984.3 3187.0 990.0C3220.3 995.7 3222.3 999.3 3190.0 1010.0C3157.7 1020.7 3123.3 1027.7 3090.0 1022.0C3056.7 1016.3 3057.7 1003.7 3090.0 993.0Z" fill="#4b86cc" />
<path d="M3190.0 993.0C3203.0 987.7 3218.7 986.7 3234.0 990.0C3249.3 993.3 3249.0 997.7 3236.0 1003.0C3223.0 1008.3 3210.3 1009.3 3195.0 1006.0C3179.7 1002.7 3177.0 998.3 3190.0 993.0Z" fill="#74c890" />
<path d="M3296.0 970.0L3345.0 970.0L3345.0 996.0L3310.0 994.0Z" fill="#3a5aa9" />
<path d="M3240.0 976.0C3255.0 970.3 3272.7 970.3 3290.0 975.0C3307.3 979.7 3307.0 984.3 3292.0 990.0C3277.0 995.7 3262.3 996.7 3245.0 992.0C3227.7 987.3 3225.0 981.7 3240.0 976.0Z" fill="#4b86cc" />
<path d="M2702.0 1077.0C2721.3 1066.3 2722.3 1072.3 2760.0 1080.0C2797.7 1087.7 2796.7 1089.3 2815.0 1100.0C2833.3 1110.7 2852.7 1108.0 2815.0 1112.0C2777.3 1116.0 2739.7 1123.7 2702.0 1112.0C2664.3 1100.3 2682.7 1087.7 2702.0 1077.0Z" fill="#6ec8a4" />
<path d="M2849.0 1103.0C2873.0 1098.3 2897.0 1097.7 2921.0 1102.0C2945.0 1106.3 2945.0 1111.3 2921.0 1116.0C2897.0 1120.7 2873.0 1120.3 2849.0 1116.0C2825.0 1111.7 2825.0 1107.7 2849.0 1103.0Z" fill="#4b86cc" />
<path d="M2960.0 1050.0C2983.3 1040.0 2983.3 1043.3 3000.0 1060.0C3016.7 1076.7 3023.3 1082.7 3010.0 1100.0C2996.7 1117.3 2986.7 1115.3 2960.0 1112.0C2933.3 1108.7 2930.0 1110.7 2930.0 1090.0C2930.0 1069.3 2936.7 1060.0 2960.0 1050.0Z" fill="#6ec8a4" />
</g>
</g>
<g filter="url(#b1)"><path d="M2590.0 972H2620.0L2615.0 993H2595.0ZM2670.0 972H2700.0L2695.0 993H2675.0ZM2520.5 972H2550.5L2545.5 993H2525.5ZM2739.5 972H2769.5L2764.5 993H2744.5ZM2450.5 972H2480.5L2475.5 993H2455.5ZM2809.5 972H2839.5L2834.5 993H2814.5ZM2380.5 972H2410.5L2405.5 993H2385.5ZM2879.5 972H2909.5L2904.5 993H2884.5ZM2311.0 972H2341.0L2336.0 993H2316.0ZM2949.0 972H2979.0L2974.0 993H2954.0ZM2241.5 972H2271.5L2266.5 993H2246.5ZM3018.5 972H3048.5L3043.5 993H3023.5ZM2132.0 972H2162.0L2157.0 993H2137.0ZM3128.0 972H3158.0L3153.0 993H3133.0ZM2062.5 972H2092.5L2087.5 993H2067.5ZM3197.5 972H3227.5L3222.5 993H3202.5ZM1993.5 972H2023.5L2018.5 993H1998.5ZM3266.5 972H3296.5L3291.5 993H3271.5Z" fill="#fff" stroke="#1a5a50" stroke-width="2"/>
<path d="M2458.0 1017.0C2485.3 1011.7 2505.3 1013.0 2540.0 1014.0C2574.7 1015.0 2552.7 1013.3 2562.0 1020.0C2571.3 1026.7 2570.3 1026.0 2568.0 1034.0C2565.7 1042.0 2577.7 1042.0 2555.0 1044.0C2532.3 1046.0 2528.3 1042.7 2500.0 1040.0C2471.7 1037.3 2484.0 1039.3 2470.0 1036.0C2456.0 1032.7 2462.0 1036.3 2458.0 1030.0C2454.0 1023.7 2430.7 1022.3 2458.0 1017.0Z" fill="#fff" />
<ellipse cx="2528.0" cy="1034.0" rx="23.0" ry="10.0" fill="#1e3a96" />
<path d="M2724.0 1030.0C2735.3 1022.7 2738.0 1027.3 2760.0 1022.0C2782.0 1016.7 2768.0 1016.0 2790.0 1014.0C2812.0 1012.0 2813.3 1012.0 2826.0 1016.0C2838.7 1020.0 2836.7 1020.7 2828.0 1026.0C2819.3 1031.3 2816.0 1027.3 2800.0 1032.0C2784.0 1036.7 2796.7 1038.7 2780.0 1040.0C2763.3 1041.3 2768.0 1034.7 2750.0 1036.0C2732.0 1037.3 2734.7 1046.0 2726.0 1044.0C2717.3 1042.0 2712.7 1037.3 2724.0 1030.0Z" fill="#fff" />
</g>
<g clip-path="url(#d_br)">
<g filter="url(#b1)">
<path d="M2348.7 1033.7C2351.9 1027.5 2359.2 1025.4 2367.5 1027.5C2375.8 1029.6 2373.7 1033.8 2373.7 1040.0C2373.7 1046.2 2348.7 1045.0 2367.5 1046.0C2386.3 1047.0 2398.8 1046.0 2430.0 1043.0C2461.2 1040.0 2435.0 1037.0 2461.0 1037.0C2487.0 1037.0 2471.5 1042.0 2508.0 1043.0C2544.5 1044.0 2545.6 1039.0 2570.6 1040.0C2595.6 1041.0 2580.9 1039.8 2583.0 1046.0C2585.1 1052.2 2588.4 1048.2 2577.0 1058.7C2565.6 1069.2 2576.9 1070.2 2548.7 1077.5C2520.5 1084.8 2513.4 1072.3 2492.5 1080.6C2471.6 1088.9 2494.3 1095.2 2486.0 1102.5C2477.7 1109.8 2477.8 1106.7 2467.5 1102.5C2457.2 1098.3 2477.9 1096.3 2455.0 1090.0C2432.1 1083.7 2434.1 1086.8 2398.7 1083.7C2363.3 1080.6 2370.0 1085.8 2348.7 1080.6C2327.4 1075.4 2337.9 1076.3 2334.7 1068.0C2331.5 1059.7 2331.2 1062.9 2339.0 1055.6C2346.8 1048.3 2354.8 1053.3 2358.0 1046.0C2361.2 1038.7 2345.5 1039.9 2348.7 1033.7Z" fill="#1e3a96" />
<path d="M2370.0 1055.0C2395.0 1048.3 2393.3 1051.0 2450.0 1050.0C2506.7 1049.0 2516.7 1046.7 2540.0 1052.0C2563.3 1057.3 2553.3 1060.0 2520.0 1066.0C2486.7 1072.0 2488.3 1068.7 2440.0 1070.0C2391.7 1071.3 2398.3 1075.0 2375.0 1070.0C2351.7 1065.0 2345.0 1061.7 2370.0 1055.0Z" fill="#2448aa" />
<path d="M2702.5 1049.0C2708.6 1039.7 2709.5 1046.0 2724.0 1043.0C2738.5 1040.0 2729.3 1044.1 2746.0 1040.0C2762.7 1035.9 2753.0 1032.7 2774.0 1030.6C2795.0 1028.5 2791.2 1035.9 2809.0 1033.7C2826.8 1031.5 2793.2 1026.1 2827.5 1024.0C2861.8 1021.9 2880.8 1030.5 2912.0 1027.5C2943.2 1024.5 2909.7 1018.2 2921.0 1015.0C2932.3 1011.8 2935.5 1011.8 2946.0 1018.0C2956.5 1024.2 2951.5 1021.2 2952.5 1033.7C2953.5 1046.2 2949.0 1042.2 2949.0 1055.6C2949.0 1069.0 2955.5 1065.7 2952.5 1074.0C2949.5 1082.3 2960.8 1078.4 2940.0 1080.6C2919.2 1082.8 2917.0 1081.6 2890.0 1080.6C2863.0 1079.6 2877.7 1074.4 2859.0 1077.5C2840.3 1080.6 2848.7 1080.6 2834.0 1090.0C2819.3 1099.4 2827.7 1100.4 2815.0 1105.6C2802.3 1110.8 2804.3 1110.8 2796.0 1105.6C2787.7 1100.4 2802.3 1099.4 2790.0 1090.0C2777.7 1080.6 2779.8 1082.8 2759.0 1077.5C2738.2 1072.2 2741.2 1071.9 2727.5 1074.0C2713.8 1076.1 2725.3 1084.7 2718.0 1083.7C2710.7 1082.7 2710.8 1082.6 2705.6 1071.0C2700.4 1059.4 2696.4 1058.3 2702.5 1049.0Z" fill="#1e3a96" />
<path d="M2740.0 1050.0C2768.3 1042.0 2766.7 1043.3 2830.0 1040.0C2893.3 1036.7 2898.3 1032.7 2930.0 1040.0C2961.7 1047.3 2958.3 1053.3 2925.0 1062.0C2891.7 1070.7 2890.0 1065.3 2830.0 1066.0C2770.0 1066.7 2775.0 1069.3 2745.0 1064.0C2715.0 1058.7 2711.7 1058.0 2740.0 1050.0Z" fill="#2448aa" />
<path d="M2440.0 968.0C2513.3 961.3 2526.7 966.0 2700.0 966.0C2873.3 966.0 2900.0 960.0 2960.0 968.0C3020.0 976.0 2933.3 979.3 2880.0 990.0C2826.7 1000.7 2840.0 993.3 2800.0 1000.0C2760.0 1006.7 2780.0 1000.0 2760.0 1010.0C2740.0 1020.0 2753.3 1016.7 2740.0 1030.0C2726.7 1043.3 2736.7 1043.3 2720.0 1050.0C2703.3 1056.7 2710.0 1053.3 2690.0 1050.0C2670.0 1046.7 2674.0 1052.7 2660.0 1040.0C2646.0 1027.3 2668.0 1025.3 2648.0 1012.0C2628.0 998.7 2636.0 1005.3 2600.0 1000.0C2564.0 994.7 2580.0 1000.7 2540.0 996.0C2500.0 991.3 2513.3 995.3 2480.0 986.0C2446.7 976.7 2366.7 974.7 2440.0 968.0Z" fill="#1d3690" />
<path d="M2660.0 975.0C2677.3 960.0 2701.7 960.0 2720.0 975.0C2738.3 990.0 2725.0 998.3 2715.0 1020.0C2705.0 1041.7 2705.7 1040.0 2690.0 1040.0C2674.3 1040.0 2678.0 1041.7 2668.0 1020.0C2658.0 998.3 2642.7 990.0 2660.0 975.0Z" fill="#2448aa" />
</g>
</g>
<path d="M2965 972.3H3343.7" stroke="#10205a" stroke-width="2.5"/>
<path d="M1947 972.3H2330" stroke="#10205a" stroke-width="2.5" opacity=".8"/>
<text x="3378.5" y="691.7" font-size="67">Pressure/MPa</text>
<text x="3638.0" y="758" font-size="66" text-anchor="end">0.838</text>
<text x="3638.0" y="817.5" font-size="66" text-anchor="end">0.699</text>
<text x="3638.0" y="876" font-size="66" text-anchor="end">0.559</text>
<text x="3638.0" y="936.7" font-size="66" text-anchor="end">0.419</text>
<text x="3638.0" y="995.8" font-size="66" text-anchor="end">0.280</text>
<text x="3638.0" y="1054.6" font-size="66" text-anchor="end">0.140</text>
<text x="3638.0" y="1113.7" font-size="66" text-anchor="end">0</text>
<rect x="3662.5" y="738.0" width="21.5" height="59.7" fill="#ea2127"/>
<rect x="3662.5" y="797.2" width="21.5" height="59.7" fill="#f0bb35"/>
<rect x="3662.5" y="856.3" width="21.5" height="59.7" fill="#7ec43a"/>
<rect x="3662.5" y="915.5" width="21.5" height="59.7" fill="#62bd6a"/>
<rect x="3662.5" y="974.7" width="21.5" height="59.7" fill="#2bbfe8"/>
<rect x="3662.5" y="1033.8" width="21.5" height="59.7" fill="#2355a9"/>
<rect x="3655.0" y="736.4" width="8" height="3.2" fill="#231f20"/>
<rect x="3655.0" y="795.6" width="8" height="3.2" fill="#231f20"/>
<rect x="3655.0" y="854.7" width="8" height="3.2" fill="#231f20"/>
<rect x="3655.0" y="913.9" width="8" height="3.2" fill="#231f20"/>
<rect x="3655.0" y="973.1" width="8" height="3.2" fill="#231f20"/>
<rect x="3655.0" y="1032.2" width="8" height="3.2" fill="#231f20"/>
<rect x="3655.0" y="1091.4" width="8" height="3.2" fill="#231f20"/>
<text x="2843" y="1209.6" font-size="66" text-anchor="middle">(d) 1.846 ms</text>
<rect x="33.0" y="1297.0" width="1417.8" height="200.5" fill="#a8e0ea" />
<g clip-path="url(#e_slab)">
<rect x="34.0" y="1300.0" width="1415.8" height="195.5" fill="#5ccbdc" />
<g filter="url(#b2)">
<path d="M20.0 1290.0C89.3 1218.3 157.3 1266.7 228.0 1290.0C298.7 1313.3 222.0 1328.3 232.0 1360.0C242.0 1391.7 248.7 1365.0 258.0 1385.0C267.3 1405.0 266.7 1401.7 260.0 1420.0C253.3 1438.3 247.3 1423.3 238.0 1440.0C228.7 1456.7 236.0 1448.3 232.0 1470.0C228.0 1491.7 296.7 1493.3 226.0 1505.0C155.3 1516.7 88.7 1576.7 20.0 1505.0C-48.7 1433.3 -49.3 1361.7 20.0 1290.0Z" fill="#4b86cc" />
<path d="M193.0 1330.0C200.7 1316.7 205.3 1308.7 215.0 1312.0C224.7 1315.3 225.3 1323.3 222.0 1340.0C218.7 1356.7 215.0 1358.0 205.0 1362.0C195.0 1366.0 196.0 1362.7 192.0 1352.0C188.0 1341.3 185.3 1343.3 193.0 1330.0Z" fill="#5ccbdc" />
<ellipse cx="178.0" cy="1343.0" rx="6.0" ry="12.0" fill="#5ccbdc" />
<ellipse cx="175.0" cy="1476.0" rx="6.0" ry="5.0" fill="#45c4f0" />
<path d="M274.0 1374.0C281.3 1364.7 284.0 1353.3 290.0 1372.0C296.0 1390.7 296.7 1410.0 292.0 1430.0C287.3 1450.0 284.0 1442.0 276.0 1432.0C268.0 1422.0 268.7 1419.3 268.0 1400.0C267.3 1380.7 266.7 1383.3 274.0 1374.0Z" fill="#4b86cc" />
<path d="M335.0 1440.0C343.3 1410.0 351.7 1410.0 370.0 1380.0C388.3 1350.0 356.7 1361.7 390.0 1350.0C423.3 1338.3 440.7 1328.3 470.0 1345.0C499.3 1361.7 478.0 1358.3 478.0 1400.0C478.0 1441.7 496.0 1442.7 470.0 1470.0C444.0 1497.3 441.7 1482.0 400.0 1482.0C358.3 1482.0 366.7 1484.0 345.0 1470.0C323.3 1456.0 326.7 1470.0 335.0 1440.0Z" fill="#74ccb4" />
<path d="M413.0 1385.0C419.0 1372.3 427.0 1371.7 436.0 1380.0C445.0 1388.3 446.0 1397.3 440.0 1410.0C434.0 1422.7 427.0 1426.3 418.0 1418.0C409.0 1409.7 407.0 1397.7 413.0 1385.0Z" fill="#8ccc70" />
<path d="M338.0 1440.0C346.0 1433.3 354.7 1432.7 364.0 1438.0C373.3 1443.3 374.0 1449.3 366.0 1456.0C358.0 1462.7 349.3 1463.3 340.0 1458.0C330.7 1452.7 330.0 1446.7 338.0 1440.0Z" fill="#8ccc70" />
<ellipse cx="380.0" cy="1313.0" rx="15.0" ry="8.0" fill="#4b86cc" />
<ellipse cx="425.0" cy="1312.0" rx="9.0" ry="7.0" fill="#4b86cc" />
<ellipse cx="458.0" cy="1318.0" rx="8.0" ry="12.0" fill="#4b86cc" />
<ellipse cx="491.0" cy="1324.0" rx="11.0" ry="13.0" fill="#4b86cc" />
<ellipse cx="495.0" cy="1402.0" rx="10.0" ry="27.0" fill="#4b86cc" />
<ellipse cx="528.0" cy="1386.0" rx="7.0" ry="9.0" fill="#4b86cc" />
<ellipse cx="491.0" cy="1464.0" rx="11.0" ry="20.0" fill="#4b86cc" />
<ellipse cx="455.0" cy="1488.0" rx="11.0" ry="7.0" fill="#4b86cc" />
<path d="M540.0 1345.0C560.0 1323.3 546.7 1350.0 600.0 1335.0C653.3 1320.0 590.0 1311.7 700.0 1300.0C810.0 1288.3 853.3 1233.3 930.0 1300.0C1006.7 1366.7 1053.3 1433.3 930.0 1500.0C806.7 1566.7 678.3 1520.0 560.0 1500.0C441.7 1480.0 581.7 1473.3 575.0 1440.0C568.3 1406.7 551.7 1431.7 540.0 1400.0C528.3 1368.3 520.0 1366.7 540.0 1345.0Z" fill="#4cc4b8" />
<path d="M555.0 1300.0C568.3 1291.3 592.3 1292.7 610.0 1300.0C627.7 1307.3 621.3 1313.3 608.0 1322.0C594.7 1330.7 587.7 1333.3 570.0 1326.0C552.3 1318.7 541.7 1308.7 555.0 1300.0Z" fill="#3f7cd0" />
<path d="M640.0 1318.0C653.3 1303.7 646.7 1308.3 700.0 1305.0C753.3 1301.7 761.7 1299.7 800.0 1308.0C838.3 1316.3 818.3 1317.7 815.0 1330.0C811.7 1342.3 821.7 1342.3 790.0 1345.0C758.3 1347.7 763.3 1337.0 720.0 1338.0C676.7 1339.0 686.7 1354.7 660.0 1348.0C633.3 1341.3 626.7 1332.3 640.0 1318.0Z" fill="#2f62c4" />
<path d="M772.0 1440.0C792.0 1425.0 792.3 1431.7 830.0 1425.0C867.7 1418.3 865.0 1411.7 885.0 1420.0C905.0 1428.3 898.3 1430.0 890.0 1450.0C881.7 1470.0 890.0 1466.7 860.0 1480.0C830.0 1493.3 830.0 1493.3 800.0 1490.0C770.0 1486.7 779.3 1486.7 770.0 1470.0C760.7 1453.3 752.0 1455.0 772.0 1440.0Z" fill="#2f62c4" />
<path d="M571.0 1462.0C584.7 1449.7 598.3 1448.3 612.0 1460.0C625.7 1471.7 625.7 1484.7 612.0 1497.0C598.3 1509.3 584.7 1508.7 571.0 1497.0C557.3 1485.3 557.3 1474.3 571.0 1462.0Z" fill="#3f7cd0" />
<path d="M620.0 1345.0C630.7 1336.3 643.3 1334.3 650.0 1340.0C656.7 1345.7 650.7 1353.3 640.0 1362.0C629.3 1370.7 624.7 1371.7 618.0 1366.0C611.3 1360.3 609.3 1353.7 620.0 1345.0Z" fill="#2a9a9a" />
<path d="M598 1394C606 1370 640 1351 676 1349H709V1448H676C640 1445 606 1418 598 1394Z" fill="#78c890"/>
<path d="M616 1388C630 1366 655 1353 680 1351H709V1405C690 1398 660 1410 640 1396Z" fill="#80c850"/>
<path d="M778 1349H806C842 1352 868 1376 878 1397C868 1420 842 1445 806 1449H778Z" fill="#7cc858"/>
<rect x="697.0" y="1345.0" width="12.0" height="110.0" fill="#7ccca8" />
<rect x="708.0" y="1345.0" width="71.0" height="108.0" fill="#3466c4" />
<path d="M735.0 1350.0C744.3 1340.0 750.0 1343.3 760.0 1360.0C770.0 1376.7 770.0 1380.0 765.0 1400.0C760.0 1420.0 756.0 1423.3 745.0 1420.0C734.0 1416.7 735.3 1413.3 732.0 1390.0C728.7 1366.7 725.7 1360.0 735.0 1350.0Z" fill="#4b86cc" />
<path d="M758.0 1410.0C763.0 1391.7 768.3 1386.7 775.0 1400.0C781.7 1413.3 783.0 1431.7 778.0 1450.0C773.0 1468.3 766.7 1468.3 760.0 1455.0C753.3 1441.7 753.0 1428.3 758.0 1410.0Z" fill="#5ccbdc" />
<path d="M640.0 1440.0C663.3 1437.7 660.0 1441.7 700.0 1455.0C740.0 1468.3 746.7 1467.7 760.0 1480.0C773.3 1492.3 766.7 1492.7 740.0 1492.0C713.3 1491.3 716.7 1488.0 680.0 1478.0C643.3 1468.0 643.3 1474.7 630.0 1462.0C616.7 1449.3 616.7 1442.3 640.0 1440.0Z" fill="#5cc478" />
<path d="M880.0 1300.0C906.7 1283.3 948.3 1286.7 980.0 1300.0C1011.7 1313.3 981.7 1306.7 975.0 1340.0C968.3 1373.3 959.0 1360.0 960.0 1400.0C961.0 1440.0 973.0 1426.7 978.0 1460.0C983.0 1493.3 1004.3 1486.7 975.0 1500.0C945.7 1513.3 913.3 1520.0 890.0 1500.0C866.7 1480.0 895.0 1473.3 905.0 1440.0C915.0 1406.7 921.7 1430.0 920.0 1400.0C918.3 1370.0 913.3 1383.3 900.0 1350.0C886.7 1316.7 853.3 1316.7 880.0 1300.0Z" fill="#4880cc" />
<path d="M940.0 1345.0C946.7 1330.0 955.7 1328.3 965.0 1340.0C974.3 1351.7 974.7 1365.0 968.0 1380.0C961.3 1395.0 954.3 1396.7 945.0 1385.0C935.7 1373.3 933.3 1360.0 940.0 1345.0Z" fill="#3a62c0" />
<path d="M900.0 1330.0C908.3 1315.0 920.7 1315.0 930.0 1325.0C939.3 1335.0 936.3 1345.0 928.0 1360.0C919.7 1375.0 914.3 1380.0 905.0 1370.0C895.7 1360.0 891.7 1345.0 900.0 1330.0Z" fill="#5cc4d8" />
<path d="M1024.0 1350.0C1050.7 1331.7 1078.0 1328.3 1110.0 1345.0C1142.0 1361.7 1123.3 1371.0 1120.0 1400.0C1116.7 1429.0 1120.0 1423.7 1100.0 1432.0C1080.0 1440.3 1083.3 1435.7 1060.0 1425.0C1036.7 1414.3 1042.0 1425.0 1030.0 1400.0C1018.0 1375.0 997.3 1368.3 1024.0 1350.0Z" fill="#74ccb4" />
<path d="M980.0 1395.0C988.3 1376.7 998.3 1375.0 1010.0 1390.0C1021.7 1405.0 1023.3 1421.7 1015.0 1440.0C1006.7 1458.3 996.7 1460.0 985.0 1445.0C973.3 1430.0 971.7 1413.3 980.0 1395.0Z" fill="#74ccb4" />
<ellipse cx="1030.0" cy="1448.0" rx="9.0" ry="9.0" fill="#8ccc70" />
<ellipse cx="1152.0" cy="1448.0" rx="10.0" ry="6.0" fill="#8ccc70" />
<path d="M985.0 1430.0C990.7 1420.0 997.3 1419.7 1005.0 1428.0C1012.7 1436.3 1013.7 1445.0 1008.0 1455.0C1002.3 1465.0 995.7 1466.3 988.0 1458.0C980.3 1449.7 979.3 1440.0 985.0 1430.0Z" fill="#4b86cc" />
<path d="M1085.0 1445.0C1094.0 1437.0 1104.0 1435.0 1115.0 1440.0C1126.0 1445.0 1127.0 1452.0 1118.0 1460.0C1109.0 1468.0 1099.0 1469.0 1088.0 1464.0C1077.0 1459.0 1076.0 1453.0 1085.0 1445.0Z" fill="#4b86cc" />
<ellipse cx="1132.0" cy="1396.0" rx="6.0" ry="8.0" fill="#4b86cc" />
<path d="M1030.0 1308.0C1039.3 1301.0 1049.3 1299.0 1060.0 1303.0C1070.7 1307.0 1071.3 1313.0 1062.0 1320.0C1052.7 1327.0 1042.7 1328.0 1032.0 1324.0C1021.3 1320.0 1020.7 1315.0 1030.0 1308.0Z" fill="#4b86cc" />
<path d="M1249.0 1290.0C1319.0 1270.0 1389.7 1218.3 1460.0 1290.0C1530.3 1361.7 1526.0 1433.3 1460.0 1505.0C1394.0 1576.7 1332.0 1516.7 1262.0 1505.0C1192.0 1493.3 1257.3 1493.3 1250.0 1470.0C1242.7 1446.7 1248.0 1451.7 1240.0 1435.0C1232.0 1418.3 1239.3 1426.7 1226.0 1420.0C1212.7 1413.3 1210.0 1428.3 1200.0 1415.0C1190.0 1401.7 1191.0 1395.0 1196.0 1380.0C1201.0 1365.0 1202.0 1368.3 1215.0 1370.0C1228.0 1371.7 1223.3 1391.7 1235.0 1385.0C1246.7 1378.3 1245.3 1381.7 1250.0 1350.0C1254.7 1318.3 1179.0 1310.0 1249.0 1290.0Z" fill="#4b86cc" />
<ellipse cx="1280.0" cy="1452.0" rx="6.0" ry="12.0" fill="#5ccbdc" />
<ellipse cx="1308.0" cy="1455.0" rx="5.0" ry="9.0" fill="#5ccbdc" />
</g>
<path d="M716.0 1300V1495.5M766.0 1300V1495.5M684.0 1300V1495.5M798.0 1300V1495.5M646.0 1300V1495.5M836.0 1300V1495.5M613.0 1300V1495.5M869.0 1300V1495.5M576.0 1300V1495.5M906.0 1300V1495.5M543.0 1300V1495.5M939.0 1300V1495.5M505.0 1300V1495.5M977.0 1300V1495.5M473.0 1300V1495.5M1009.0 1300V1495.5M437.0 1300V1495.5M1045.0 1300V1495.5M402.0 1300V1495.5M1080.0 1300V1495.5M365.0 1300V1495.5M1117.0 1300V1495.5M333.0 1300V1495.5M1149.0 1300V1495.5M275.0 1300V1495.5M1207.0 1300V1495.5M254.0 1300V1495.5M1228.0 1300V1495.5M221.0 1300V1495.5M1261.0 1300V1495.5M184.0 1300V1495.5M1298.0 1300V1495.5M153.0 1300V1495.5M1329.0 1300V1495.5M113.0 1300V1495.5M1369.0 1300V1495.5M81.0 1300V1495.5M1401.0 1300V1495.5" stroke="#0c7c8c" stroke-width="3.5" fill="none" opacity=".6"/>
<path d="M32.0 1399H81.0M1450.0 1399H1401.0M113.0 1399H153.0M1369.0 1399H1329.0M184.0 1399H221.0M1298.0 1399H1261.0M254.0 1399H275.0M1228.0 1399H1207.0" stroke="#2858a8" stroke-width="3" fill="none" opacity=".7"/>
</g>
<g filter="url(#b1)">
<path d="M32 1503.8H1449V1562L1368 1577L1325 1590L1219 1588L1113 1598L1006 1600L972 1583L938 1554L904 1583L781 1589L794 1602L803 1620H600L612 1600L605 1583L592 1590L590 1617H184L180 1600L150 1594L110 1590L60 1597L32 1603ZM536 1504L590 1539L574 1564L511 1605L505 1551L520 1523Z M1240 1540L1262 1532L1266 1552L1245 1558Z" fill="#1d3690" fill-rule="evenodd"/>
<path d="M32 1503.8H1449V1562L1368 1577L1325 1590L1219 1588L1113 1598L1006 1600L972 1583L938 1554L904 1583L781 1589L794 1602L803 1620H600L612 1600L605 1583L592 1590L590 1617H184L180 1600L150 1594L110 1590L60 1597L32 1603ZM536 1504L590 1539L574 1564L511 1605L505 1551L520 1523Z M1240 1540L1262 1532L1266 1552L1245 1558Z" fill="#000" filter="url(#tx_dk)" fill-rule="evenodd"/>
<path d="M32 1503.8H1449V1562L1368 1577L1325 1590L1219 1588L1113 1598L1006 1600L972 1583L938 1554L904 1583L781 1589L794 1602L803 1620H600L612 1600L605 1583L592 1590L590 1617H184L180 1600L150 1594L110 1590L60 1597L32 1603ZM536 1504L590 1539L574 1564L511 1605L505 1551L520 1523Z M1240 1540L1262 1532L1266 1552L1245 1558Z" fill="#000" filter="url(#tx_lt)" fill-rule="evenodd"/>
<path d="M32 1503.8H1449V1562L1368 1577L1325 1590L1219 1588L1113 1598L1006 1600L972 1583L938 1554L904 1583L781 1589L794 1602L803 1620H600L612 1600L605 1583L592 1590L590 1617H184L180 1600L150 1594L110 1590L60 1597L32 1603ZM536 1504L590 1539L574 1564L511 1605L505 1551L520 1523Z M1240 1540L1262 1532L1266 1552L1245 1558Z" fill="#000" filter="url(#tx_lt2)" fill-rule="evenodd" opacity=".8"/>
<path d="M560 1505L700 1640" stroke="#182262" stroke-width="12" opacity=".85"/>
<path d="M600 1505L740 1630" stroke="#182262" stroke-width="9" opacity=".85"/>
<path d="M640 1510L800 1640" stroke="#182262" stroke-width="7" opacity=".85"/>
</g>
<g clip-path="url(#e_br)">
<path d="M39 1620H1438V1643L1181 1670.6L1125.5 1758H347.7L301 1670L39 1644Z" fill="#5ccbdc"/>
<g filter="url(#b2)">
<path d="M30.0 1615.0L300.0 1615.0L310.0 1680.0L30.0 1650.0Z" fill="#4b86cc" />
<path d="M30.0 1615.0L90.0 1615.0L92.0 1650.0L30.0 1650.0Z" fill="#3f66bc" />
<path d="M120.0 1622.0C132.0 1614.7 146.0 1614.0 160.0 1620.0C174.0 1626.0 174.0 1632.7 162.0 1640.0C150.0 1647.3 138.0 1648.0 124.0 1642.0C110.0 1636.0 108.0 1629.3 120.0 1622.0Z" fill="#3f8ad8" />
<path d="M190.0 1632.0C211.7 1624.0 236.0 1622.0 260.0 1628.0C284.0 1634.0 283.7 1642.0 262.0 1650.0C240.3 1658.0 219.0 1658.0 195.0 1652.0C171.0 1646.0 168.3 1640.0 190.0 1632.0Z" fill="#3f66bc" />
<path d="M150.0 1650.0C180.0 1648.7 190.0 1650.0 240.0 1656.0C290.0 1662.0 300.0 1664.0 300.0 1668.0C300.0 1672.0 290.0 1670.7 240.0 1668.0C190.0 1665.3 180.0 1666.0 150.0 1660.0C120.0 1654.0 120.0 1651.3 150.0 1650.0Z" fill="#5ccbdc" />
<path d="M300.0 1620.0C320.0 1602.7 320.0 1593.3 360.0 1620.0C400.0 1646.7 383.3 1653.3 420.0 1700.0C456.7 1746.7 495.0 1740.0 470.0 1760.0C445.0 1780.0 401.7 1789.3 345.0 1760.0C288.3 1730.7 315.0 1718.7 300.0 1672.0C285.0 1625.3 280.0 1637.3 300.0 1620.0Z" fill="#4b86cc" />
<path d="M262.0 1625.0C274.7 1615.7 281.3 1613.7 300.0 1622.0C318.7 1630.3 321.3 1634.7 318.0 1650.0C314.7 1665.3 308.7 1668.0 290.0 1668.0C271.3 1668.0 271.3 1664.3 262.0 1650.0C252.7 1635.7 249.3 1634.3 262.0 1625.0Z" fill="#5ccbdc" />
<path d="M330.0 1630.0C356.7 1618.3 370.0 1621.7 420.0 1625.0C470.0 1628.3 433.3 1628.3 480.0 1640.0C526.7 1651.7 546.7 1640.0 560.0 1660.0C573.3 1680.0 563.3 1680.0 520.0 1700.0C476.7 1720.0 476.7 1723.3 430.0 1720.0C383.3 1716.7 410.0 1710.0 380.0 1690.0C350.0 1670.0 356.7 1680.0 340.0 1660.0C323.3 1640.0 303.3 1641.7 330.0 1630.0Z" fill="#5ccbdc" />
<path d="M340.0 1632.0C358.3 1624.0 378.3 1624.0 400.0 1630.0C421.7 1636.0 423.3 1642.0 405.0 1650.0C386.7 1658.0 366.7 1660.0 345.0 1654.0C323.3 1648.0 321.7 1640.0 340.0 1632.0Z" fill="#6ec8a4" />
<path d="M322.0 1625.0C326.0 1616.3 332.0 1613.7 338.0 1622.0C344.0 1630.3 344.0 1641.3 340.0 1650.0C336.0 1658.7 332.0 1656.3 326.0 1648.0C320.0 1639.7 318.0 1633.7 322.0 1625.0Z" fill="#7cc850" />
<path d="M345.0 1725.0C366.7 1713.0 393.3 1711.0 420.0 1720.0C446.7 1729.0 446.7 1740.0 425.0 1752.0C403.3 1764.0 381.7 1765.0 355.0 1756.0C328.3 1747.0 323.3 1737.0 345.0 1725.0Z" fill="#6ec8a4" />
<path d="M400.0 1690.0C410.0 1675.0 426.7 1673.3 450.0 1680.0C473.3 1686.7 480.0 1695.0 470.0 1710.0C460.0 1725.0 443.3 1731.7 420.0 1725.0C396.7 1718.3 390.0 1705.0 400.0 1690.0Z" fill="#74ccb4" />
<path d="M410.0 1745.0C430.0 1737.7 433.3 1735.0 470.0 1740.0C506.7 1745.0 540.0 1752.7 520.0 1760.0C500.0 1767.3 446.7 1767.0 410.0 1762.0C373.3 1757.0 390.0 1752.3 410.0 1745.0Z" fill="#4b86cc" />
<path d="M709.0 1650.0C742.3 1630.0 724.3 1623.3 780.0 1640.0C835.7 1656.7 844.0 1660.0 876.0 1700.0C908.0 1740.0 951.3 1740.0 876.0 1760.0C800.7 1780.0 715.3 1780.0 650.0 1760.0C584.7 1740.0 660.3 1736.7 680.0 1700.0C699.7 1663.3 675.7 1670.0 709.0 1650.0Z" fill="#5ccbdc" />
<path d="M720.0 1700.0C753.3 1683.3 763.3 1680.0 800.0 1690.0C836.7 1700.0 843.3 1711.7 830.0 1730.0C816.7 1748.3 803.3 1741.7 760.0 1745.0C716.7 1748.3 713.3 1755.0 700.0 1740.0C686.7 1725.0 686.7 1716.7 720.0 1700.0Z" fill="#6ec8a4" />
<path d="M740.0 1712.0C753.3 1701.7 770.0 1699.0 790.0 1705.0C810.0 1711.0 813.3 1719.7 800.0 1730.0C786.7 1740.3 770.0 1742.0 750.0 1736.0C730.0 1730.0 726.7 1722.3 740.0 1712.0Z" fill="#7cc860" />
<path d="M690.0 1660.0C700.0 1646.7 716.7 1643.3 740.0 1650.0C763.3 1656.7 770.0 1666.7 760.0 1680.0C750.0 1693.3 733.3 1696.7 710.0 1690.0C686.7 1683.3 680.0 1673.3 690.0 1660.0Z" fill="#6ec8a4" />
<path d="M640.0 1735.0C666.7 1729.3 686.7 1736.0 720.0 1745.0C753.3 1754.0 766.7 1756.3 740.0 1762.0C713.3 1767.7 673.3 1771.0 640.0 1762.0C606.7 1753.0 613.3 1740.7 640.0 1735.0Z" fill="#4b86cc" />
<path d="M780.0 1745.0C810.0 1740.3 840.0 1742.3 870.0 1748.0C900.0 1753.7 900.0 1757.3 870.0 1762.0C840.0 1766.7 810.0 1767.7 780.0 1762.0C750.0 1756.3 750.0 1749.7 780.0 1745.0Z" fill="#4b86cc" />
<path d="M860.0 1625.0C960.0 1613.3 1073.3 1609.3 1180.0 1625.0C1286.7 1640.7 1198.3 1627.0 1180.0 1672.0C1161.7 1717.0 1185.0 1730.7 1125.0 1760.0C1065.0 1789.3 1058.3 1780.0 1000.0 1760.0C941.7 1740.0 990.0 1733.3 950.0 1700.0C910.0 1666.7 910.0 1685.0 880.0 1660.0C850.0 1635.0 760.0 1636.7 860.0 1625.0Z" fill="#5ccbdc" />
<path d="M860.0 1640.0C890.0 1630.0 906.7 1628.7 960.0 1632.0C1013.3 1635.3 1023.3 1638.0 1020.0 1650.0C1016.7 1662.0 1000.0 1664.0 950.0 1668.0C900.0 1672.0 900.0 1671.3 870.0 1662.0C840.0 1652.7 830.0 1650.0 860.0 1640.0Z" fill="#58c4a8" />
<path d="M950.0 1680.0C973.3 1665.0 993.3 1661.7 1030.0 1665.0C1066.7 1668.3 1056.7 1674.3 1060.0 1690.0C1063.3 1705.7 1073.3 1705.3 1040.0 1712.0C1006.7 1718.7 990.0 1720.7 960.0 1710.0C930.0 1699.3 926.7 1695.0 950.0 1680.0Z" fill="#4b86cc" />
<path d="M1100.0 1640.0C1116.7 1630.0 1136.7 1629.3 1160.0 1636.0C1183.3 1642.7 1186.7 1650.0 1170.0 1660.0C1153.3 1670.0 1133.3 1672.7 1110.0 1666.0C1086.7 1659.3 1083.3 1650.0 1100.0 1640.0Z" fill="#4b86cc" />
<path d="M1181.0 1615.0L1445.0 1615.0L1445.0 1650.0L1181.0 1675.0Z" fill="#4b86cc" />
<path d="M1330.0 1615.0L1445.0 1615.0L1445.0 1650.0L1340.0 1652.0Z" fill="#3f66bc" />
<path d="M1200.0 1625.0C1218.3 1617.7 1239.3 1617.0 1260.0 1622.0C1280.7 1627.0 1280.3 1632.7 1262.0 1640.0C1243.7 1647.3 1225.7 1649.0 1205.0 1644.0C1184.3 1639.0 1181.7 1632.3 1200.0 1625.0Z" fill="#5ccbdc" />
</g>
<g filter="url(#b1)">
<path d="M500 1620H1100L1080 1640L1000 1650L930 1640L900 1652L960 1700L1005 1758H900L840 1700L780 1650L740 1640L700 1660L640 1740L600 1758H470L440 1720L470 1690L520 1670L440 1660L420 1640ZM1060 1640L1170 1636L1180 1665L1120 1684L1060 1675Z M990 1690L1050 1684L1056 1740L1000 1747Z M1075 1705L1130 1700L1134 1750L1080 1756Z" fill="#1d3690"/>
<path d="M500 1620H1100L1080 1640L1000 1650L930 1640L900 1652L960 1700L1005 1758H900L840 1700L780 1650L740 1640L700 1660L640 1740L600 1758H470L440 1720L470 1690L520 1670L440 1660L420 1640ZM1060 1640L1170 1636L1180 1665L1120 1684L1060 1675Z M990 1690L1050 1684L1056 1740L1000 1747Z M1075 1705L1130 1700L1134 1750L1080 1756Z" fill="#000" filter="url(#tx_dk)" />
<path d="M500 1620H1100L1080 1640L1000 1650L930 1640L900 1652L960 1700L1005 1758H900L840 1700L780 1650L740 1640L700 1660L640 1740L600 1758H470L440 1720L470 1690L520 1670L440 1660L420 1640ZM1060 1640L1170 1636L1180 1665L1120 1684L1060 1675Z M990 1690L1050 1684L1056 1740L1000 1747Z M1075 1705L1130 1700L1134 1750L1080 1756Z" fill="#000" filter="url(#tx_lt)" />
<path d="M395.0 1640.0C396.7 1629.3 403.3 1625.0 415.0 1630.0C426.7 1635.0 431.7 1644.3 430.0 1655.0C428.3 1665.7 421.7 1667.0 410.0 1662.0C398.3 1657.0 393.3 1650.7 395.0 1640.0Z" fill="#1f3c9a" />
<path d="M440.0 1668.0C448.3 1659.3 461.7 1656.0 475.0 1660.0C488.3 1664.0 488.3 1671.3 480.0 1680.0C471.7 1688.7 463.3 1690.0 450.0 1686.0C436.7 1682.0 431.7 1676.7 440.0 1668.0Z" fill="#1f3c9a" />
<path d="M400.0 1700.0C405.0 1689.3 415.0 1685.0 430.0 1690.0C445.0 1695.0 450.0 1704.3 445.0 1715.0C440.0 1725.7 430.0 1727.0 415.0 1722.0C400.0 1717.0 395.0 1710.7 400.0 1700.0Z" fill="#1f3c9a" />
<path d="M1000.0 1690.0C1013.3 1679.3 1030.0 1675.0 1050.0 1680.0C1070.0 1685.0 1073.3 1694.3 1060.0 1705.0C1046.7 1715.7 1030.0 1717.0 1010.0 1712.0C990.0 1707.0 986.7 1700.7 1000.0 1690.0Z" fill="#1f3c9a" />
<path d="M1060.0 1720.0C1071.7 1708.0 1086.7 1703.7 1100.0 1712.0C1113.3 1720.3 1111.7 1733.0 1100.0 1745.0C1088.3 1757.0 1078.3 1756.3 1065.0 1748.0C1051.7 1739.7 1048.3 1732.0 1060.0 1720.0Z" fill="#1f3c9a" />
<path d="M980.0 1730.0C991.7 1721.0 1003.3 1718.3 1020.0 1725.0C1036.7 1731.7 1041.7 1741.0 1030.0 1750.0C1018.3 1759.0 1001.7 1758.7 985.0 1752.0C968.3 1745.3 968.3 1739.0 980.0 1730.0Z" fill="#1f3c9a" />
</g>
</g>
<g filter="url(#b1)"><path d="M684.5 1620H712.5L708.5 1637H688.5ZM764.5 1620H792.5L788.5 1637H768.5ZM615.0 1620H643.0L639.0 1637H619.0ZM834.0 1620H862.0L858.0 1637H838.0ZM545.0 1620H573.0L569.0 1637H549.0ZM904.0 1620H932.0L928.0 1637H908.0ZM475.0 1620H503.0L499.0 1637H479.0ZM974.0 1620H1002.0L998.0 1637H978.0ZM405.5 1620H433.5L429.5 1637H409.5ZM1043.5 1620H1071.5L1067.5 1637H1047.5ZM336.0 1620H364.0L360.0 1637H340.0ZM1113.0 1620H1141.0L1137.0 1637H1117.0ZM226.5 1620H254.5L250.5 1637H230.5ZM1222.5 1620H1250.5L1246.5 1637H1226.5ZM157.0 1620H185.0L181.0 1637H161.0ZM1292.0 1620H1320.0L1316.0 1637H1296.0ZM88.0 1620H116.0L112.0 1637H92.0ZM1361.0 1620H1389.0L1385.0 1637H1365.0Z" fill="#fff"/>
<path d="M840.0 1672.0C863.3 1664.7 886.7 1662.0 915.0 1668.0C943.3 1674.0 936.7 1680.0 925.0 1690.0C913.3 1700.0 906.7 1698.0 880.0 1698.0C853.3 1698.0 858.3 1698.7 845.0 1690.0C831.7 1681.3 816.7 1679.3 840.0 1672.0Z" fill="#fff" />
<path d="M601.0 1700.0C609.7 1691.3 620.3 1689.3 632.0 1690.0C643.7 1690.7 644.7 1693.3 636.0 1702.0C627.3 1710.7 617.7 1716.7 606.0 1716.0C594.3 1715.3 592.3 1708.7 601.0 1700.0Z" fill="#fff" />
<path d="M815.0 1700.0C819.7 1696.0 827.0 1698.7 832.0 1706.0C837.0 1713.3 834.7 1718.0 830.0 1722.0C825.3 1726.0 823.0 1725.3 818.0 1718.0C813.0 1710.7 810.3 1704.0 815.0 1700.0Z" fill="#fff" />
<rect x="552.0" y="1686.0" width="12.0" height="9.0" fill="#fff" />
<ellipse cx="1117.0" cy="1748.0" rx="14.0" ry="9.0" fill="#1f3c9a" />
</g>
<path d="M39 1620.5H260 M820 1620.5H1438" stroke="#0c1030" stroke-width="3.5"/>
<text x="1470" y="1344" font-size="67">Pressure/MPa</text>
<text x="1731.0" y="1413" font-size="66" text-anchor="end">0.838</text>
<text x="1731.0" y="1472.8" font-size="66" text-anchor="end">0.699</text>
<text x="1731.0" y="1532" font-size="66" text-anchor="end">0.559</text>
<text x="1731.0" y="1591" font-size="66" text-anchor="end">0.419</text>
<text x="1731.0" y="1650.6" font-size="66" text-anchor="end">0.280</text>
<text x="1731.0" y="1709.8" font-size="66" text-anchor="end">0.140</text>
<text x="1731.0" y="1768.5" font-size="66" text-anchor="end">0</text>
<rect x="1753" y="1392.0" width="22.700000000000045" height="59.6" fill="#ea2127"/>
<rect x="1753" y="1451.1" width="22.700000000000045" height="59.6" fill="#f0bb35"/>
<rect x="1753" y="1510.1" width="22.700000000000045" height="59.6" fill="#7ec43a"/>
<rect x="1753" y="1569.2" width="22.700000000000045" height="59.6" fill="#62bd6a"/>
<rect x="1753" y="1628.3" width="22.700000000000045" height="59.6" fill="#2bbfe8"/>
<rect x="1753" y="1687.3" width="22.700000000000045" height="59.6" fill="#2355a9"/>
<rect x="1745.5" y="1390.4" width="8" height="3.2" fill="#231f20"/>
<rect x="1745.5" y="1449.5" width="8" height="3.2" fill="#231f20"/>
<rect x="1745.5" y="1508.5" width="8" height="3.2" fill="#231f20"/>
<rect x="1745.5" y="1567.6" width="8" height="3.2" fill="#231f20"/>
<rect x="1745.5" y="1626.7" width="8" height="3.2" fill="#231f20"/>
<rect x="1745.5" y="1685.7" width="8" height="3.2" fill="#231f20"/>
<rect x="1745.5" y="1744.8" width="8" height="3.2" fill="#231f20"/>
<text x="936" y="1858" font-size="66" text-anchor="middle">(e) 2.399 ms</text>
<rect x="1938.4" y="1292.0" width="1417.6" height="205.0" fill="#a4e2e8" />
<g clip-path="url(#f_slab)">
<rect x="1938.4" y="1292.0" width="1417.6" height="205.0" fill="#5ccbdc" />
<g filter="url(#b4)">
<path d="M1930.0 1285.0L2170.0 1285.0L2165.0 1400.0L2135.0 1470.0L2130.0 1495.0L1930.0 1495.0Z" fill="#4488d0" />
<path d="M1930.0 1285.0L2024.0 1285.0L2066.0 1381.0L2005.0 1495.0L1930.0 1495.0Z" fill="#3c55ac" />
<path d="M2024.0 1302.0C2025.7 1285.3 2037.3 1287.3 2050.0 1300.0C2062.7 1312.7 2063.7 1323.3 2062.0 1340.0C2060.3 1356.7 2057.7 1362.7 2045.0 1350.0C2032.3 1337.3 2022.3 1318.7 2024.0 1302.0Z" fill="#4a80cc" />
<path d="M2132.0 1495.0C2115.3 1480.0 2129.0 1475.0 2140.0 1450.0C2151.0 1425.0 2145.0 1423.3 2165.0 1420.0C2185.0 1416.7 2191.7 1415.0 2200.0 1440.0C2208.3 1465.0 2212.7 1476.7 2190.0 1495.0C2167.3 1513.3 2148.7 1510.0 2132.0 1495.0Z" fill="#5ccbdc" />
<path d="M2213.0 1320.0C2228.0 1306.0 2223.0 1310.7 2260.0 1308.0C2297.0 1305.3 2299.0 1299.7 2324.0 1312.0C2349.0 1324.3 2343.0 1326.3 2335.0 1345.0C2327.0 1363.7 2331.7 1361.3 2300.0 1368.0C2268.3 1374.7 2268.3 1371.0 2240.0 1365.0C2211.7 1359.0 2224.0 1365.0 2215.0 1350.0C2206.0 1335.0 2198.0 1334.0 2213.0 1320.0Z" fill="#74ccac" />
<path d="M2250.0 1325.0C2263.3 1315.0 2280.0 1313.3 2300.0 1320.0C2320.0 1326.7 2323.3 1335.0 2310.0 1345.0C2296.7 1355.0 2280.0 1356.7 2260.0 1350.0C2240.0 1343.3 2236.7 1335.0 2250.0 1325.0Z" fill="#7cc884" />
<path d="M2157.0 1385.0C2165.3 1375.0 2179.7 1373.7 2195.0 1378.0C2210.3 1382.3 2211.3 1388.0 2203.0 1398.0C2194.7 1408.0 2185.3 1412.3 2170.0 1408.0C2154.7 1403.7 2148.7 1395.0 2157.0 1385.0Z" fill="#4488d0" />
<path d="M2223.0 1418.0C2231.7 1410.7 2241.3 1409.3 2252.0 1414.0C2262.7 1418.7 2263.7 1424.7 2255.0 1432.0C2246.3 1439.3 2236.7 1440.7 2226.0 1436.0C2215.3 1431.3 2214.3 1425.3 2223.0 1418.0Z" fill="#4488d0" />
<path d="M2377.0 1300.0C2393.7 1296.7 2389.0 1330.0 2420.0 1340.0C2451.0 1350.0 2446.7 1343.3 2470.0 1330.0C2493.3 1316.7 2480.0 1245.0 2490.0 1300.0C2500.0 1355.0 2516.7 1430.0 2500.0 1495.0C2483.3 1560.0 2473.3 1503.3 2440.0 1495.0C2406.7 1486.7 2426.7 1488.3 2400.0 1470.0C2373.3 1451.7 2365.0 1463.3 2360.0 1440.0C2355.0 1416.7 2381.7 1430.0 2385.0 1400.0C2388.3 1370.0 2372.7 1383.3 2370.0 1350.0C2367.3 1316.7 2360.3 1303.3 2377.0 1300.0Z" fill="#4488d0" />
<path d="M2340.0 1440.0C2350.0 1423.3 2363.3 1420.0 2380.0 1430.0C2396.7 1440.0 2400.0 1453.3 2390.0 1470.0C2380.0 1486.7 2366.7 1490.0 2350.0 1480.0C2333.3 1470.0 2330.0 1456.7 2340.0 1440.0Z" fill="#4488d0" />
<path d="M2300.0 1465.0C2308.3 1454.3 2318.3 1451.7 2330.0 1460.0C2341.7 1468.3 2343.3 1479.3 2335.0 1490.0C2326.7 1500.7 2316.7 1500.3 2305.0 1492.0C2293.3 1483.7 2291.7 1475.7 2300.0 1465.0Z" fill="#4488d0" />
<path d="M2385.0 1340.0C2393.3 1323.3 2406.7 1328.3 2420.0 1345.0C2433.3 1361.7 2433.3 1373.3 2425.0 1390.0C2416.7 1406.7 2408.3 1411.7 2395.0 1395.0C2381.7 1378.3 2376.7 1356.7 2385.0 1340.0Z" fill="#3a70c8" />
<path d="M2498.0 1389.0C2498.0 1350.7 2492.7 1361.3 2520.0 1335.0C2547.3 1308.7 2520.0 1320.0 2580.0 1310.0C2640.0 1300.0 2636.7 1301.7 2700.0 1305.0C2763.3 1308.3 2736.7 1292.0 2770.0 1320.0C2803.3 1348.0 2796.7 1349.0 2800.0 1389.0C2803.3 1429.0 2813.3 1413.0 2780.0 1440.0C2746.7 1467.0 2766.7 1459.3 2700.0 1470.0C2633.3 1480.7 2640.0 1478.7 2580.0 1472.0C2520.0 1465.3 2547.3 1477.7 2520.0 1450.0C2492.7 1422.3 2498.0 1427.3 2498.0 1389.0Z" fill="#2f82b8" />
<path d="M2540.0 1300.0C2616.7 1285.3 2673.3 1286.0 2760.0 1296.0C2846.7 1306.0 2820.0 1324.7 2800.0 1330.0C2780.0 1335.3 2773.3 1316.0 2700.0 1312.0C2626.7 1308.0 2636.7 1308.7 2580.0 1318.0C2523.3 1327.3 2543.3 1346.0 2530.0 1340.0C2516.7 1334.0 2463.3 1314.7 2540.0 1300.0Z" fill="#2a78b0" />
<path d="M2520.0 1460.0C2546.7 1453.3 2520.0 1471.7 2600.0 1475.0C2680.0 1478.3 2696.7 1463.3 2760.0 1470.0C2823.3 1476.7 2870.0 1486.7 2790.0 1495.0C2710.0 1503.3 2610.0 1506.7 2520.0 1495.0C2430.0 1483.3 2493.3 1466.7 2520.0 1460.0Z" fill="#3a86c8" />
<path d="M2516.0 1394.0C2516.0 1372.0 2523.7 1378.3 2545.0 1362.0C2566.3 1345.7 2557.7 1352.3 2580.0 1345.0C2602.3 1337.7 2601.3 1306.0 2612.0 1340.0C2622.7 1374.0 2622.7 1413.0 2612.0 1447.0C2601.3 1481.0 2602.3 1448.3 2580.0 1442.0C2557.7 1435.7 2566.3 1444.0 2545.0 1428.0C2523.7 1412.0 2516.0 1416.0 2516.0 1394.0Z" fill="#70c8a0" />
<path d="M2545.0 1380.0C2558.3 1360.0 2570.0 1353.3 2590.0 1360.0C2610.0 1366.7 2605.0 1375.0 2605.0 1400.0C2605.0 1425.0 2608.3 1428.3 2590.0 1435.0C2571.7 1441.7 2565.0 1438.3 2550.0 1420.0C2535.0 1401.7 2531.7 1400.0 2545.0 1380.0Z" fill="#74c880" />
<path d="M2652.0 1345.0C2666.0 1324.3 2664.0 1335.7 2690.0 1338.0C2716.0 1340.3 2703.7 1334.0 2730.0 1352.0C2756.3 1370.0 2765.7 1367.7 2769.0 1392.0C2772.3 1416.3 2763.0 1408.3 2740.0 1425.0C2717.0 1441.7 2726.7 1435.0 2700.0 1442.0C2673.3 1449.0 2677.3 1460.0 2660.0 1446.0C2642.7 1432.0 2650.7 1433.7 2648.0 1400.0C2645.3 1366.3 2638.0 1365.7 2652.0 1345.0Z" fill="#74cca8" />
<path d="M2612.0 1340.0C2625.3 1303.3 2639.3 1303.3 2652.0 1340.0C2664.7 1376.7 2663.3 1413.3 2650.0 1450.0C2636.7 1486.7 2624.7 1486.7 2612.0 1450.0C2599.3 1413.3 2598.7 1376.7 2612.0 1340.0Z" fill="#2f72b8" />
<rect x="2622.0" y="1345.0" width="8.0" height="100.0" fill="#5cc8d0" />
<path d="M2500.0 1380.0L2516.0 1372.0L2516.0 1412.0L2502.0 1405.0Z" fill="#b0e8f0" />
<path d="M2800.0 1300.0C2813.3 1270.3 2823.3 1283.3 2850.0 1300.0C2876.7 1316.7 2880.0 1310.0 2880.0 1350.0C2880.0 1390.0 2873.3 1380.0 2850.0 1420.0C2826.7 1460.0 2830.0 1463.3 2810.0 1470.0C2790.0 1476.7 2790.0 1467.0 2790.0 1440.0C2790.0 1413.0 2806.7 1435.7 2810.0 1389.0C2813.3 1342.3 2786.7 1329.7 2800.0 1300.0Z" fill="#5ccbdc" />
<path d="M2842.0 1302.0C2865.3 1302.0 2860.7 1325.7 2900.0 1340.0C2939.3 1354.3 2915.7 1325.0 2960.0 1345.0C3004.3 1365.0 3009.7 1372.7 3033.0 1400.0C3056.3 1427.3 3054.3 1420.3 3030.0 1427.0C3005.7 1433.7 3003.3 1429.0 2960.0 1420.0C2916.7 1411.0 2936.7 1413.3 2900.0 1400.0C2863.3 1386.7 2873.3 1400.0 2850.0 1380.0C2826.7 1360.0 2832.7 1366.0 2830.0 1340.0C2827.3 1314.0 2818.7 1302.0 2842.0 1302.0Z" fill="#4488d0" />
<path d="M2820.0 1420.0C2846.7 1398.3 2843.3 1420.0 2900.0 1430.0C2956.7 1440.0 2956.7 1428.3 2990.0 1450.0C3023.3 1471.7 3056.7 1480.0 3000.0 1495.0C2943.3 1510.0 2880.0 1520.0 2820.0 1495.0C2760.0 1470.0 2793.3 1441.7 2820.0 1420.0Z" fill="#4c98d8" />
<path d="M2883.0 1298.0C2893.0 1286.7 2907.0 1295.3 2960.0 1296.0C3013.0 1296.7 3015.3 1284.3 3042.0 1300.0C3068.7 1315.7 3057.3 1329.7 3040.0 1343.0C3022.7 1356.3 3026.7 1344.3 2990.0 1340.0C2953.3 1335.7 2965.7 1344.0 2930.0 1330.0C2894.3 1316.0 2873.0 1309.3 2883.0 1298.0Z" fill="#74ccac" />
<path d="M2996.0 1310.0C3008.3 1299.3 3023.0 1297.0 3037.0 1308.0C3051.0 1319.0 3050.3 1332.3 3038.0 1343.0C3025.7 1353.7 3014.0 1351.0 3000.0 1340.0C2986.0 1329.0 2983.7 1320.7 2996.0 1310.0Z" fill="#78c870" />
<path d="M3008.0 1420.0C3025.0 1398.0 3045.3 1395.3 3066.0 1412.0C3086.7 1428.7 3087.0 1448.0 3070.0 1470.0C3053.0 1492.0 3035.7 1494.7 3015.0 1478.0C2994.3 1461.3 2991.0 1442.0 3008.0 1420.0Z" fill="#74ccac" />
<path d="M3142.0 1285.0L3360.0 1285.0L3360.0 1495.0L3142.0 1495.0Z" fill="#4488d0" />
<path d="M3100.0 1320.0C3107.3 1286.7 3125.3 1273.3 3142.0 1300.0C3158.7 1326.7 3150.0 1340.0 3150.0 1400.0C3150.0 1460.0 3155.3 1456.7 3142.0 1480.0C3128.7 1503.3 3117.3 1496.7 3110.0 1470.0C3102.7 1443.3 3123.3 1450.0 3120.0 1400.0C3116.7 1350.0 3092.7 1353.3 3100.0 1320.0Z" fill="#4c98d8" />
<path d="M3250.0 1285.0L3360.0 1285.0L3360.0 1495.0L3300.0 1495.0L3236.0 1440.0L3225.0 1380.0Z" fill="#3c58b0" />
<path d="M3229.0 1360.0C3250.7 1333.3 3266.3 1326.7 3290.0 1340.0C3313.7 1353.3 3313.3 1366.7 3300.0 1400.0C3286.7 1433.3 3275.0 1433.3 3250.0 1440.0C3225.0 1446.7 3232.0 1446.7 3225.0 1420.0C3218.0 1393.3 3207.3 1386.7 3229.0 1360.0Z" fill="#4078c4" />
</g>
<path d="M2622.0 1292V1497M2672.0 1292V1497M2590.0 1292V1497M2704.0 1292V1497M2552.0 1292V1497M2742.0 1292V1497M2519.0 1292V1497M2775.0 1292V1497M2482.0 1292V1497M2812.0 1292V1497M2449.0 1292V1497M2845.0 1292V1497M2411.0 1292V1497M2883.0 1292V1497M2379.0 1292V1497M2915.0 1292V1497M2343.0 1292V1497M2951.0 1292V1497M2308.0 1292V1497M2986.0 1292V1497M2271.0 1292V1497M3023.0 1292V1497M2239.0 1292V1497M3055.0 1292V1497M2181.0 1292V1497M3113.0 1292V1497M2160.0 1292V1497M3134.0 1292V1497M2127.0 1292V1497M3167.0 1292V1497M2090.0 1292V1497M3204.0 1292V1497M2059.0 1292V1497M3235.0 1292V1497M2019.0 1292V1497M3275.0 1292V1497M1987.0 1292V1497M3307.0 1292V1497" stroke="#0c6c8c" stroke-width="3.5" fill="none" opacity=".5" filter="url(#b1)"/>
</g>
<g filter="url(#b1)">
<path d="M1938 1498.5H3356V1568L3300 1570L3237 1572L3196 1579L3162 1589L3133 1606L3117 1618H2210L2215 1598L2207 1593L2119 1590L2056 1576L1993 1560L1938 1552Z M2399 1578L2412 1570L2429 1574L2420 1587L2404 1588Z" fill="#1e3894" fill-rule="evenodd"/>
<path d="M1938 1498.5H3356V1568L3300 1570L3237 1572L3196 1579L3162 1589L3133 1606L3117 1618H2210L2215 1598L2207 1593L2119 1590L2056 1576L1993 1560L1938 1552Z M2399 1578L2412 1570L2429 1574L2420 1587L2404 1588Z" fill="#000" filter="url(#tx_dk)" fill-rule="evenodd" opacity=".8"/>
<path d="M1938 1498.5H3356V1568L3300 1570L3237 1572L3196 1579L3162 1589L3133 1606L3117 1618H2210L2215 1598L2207 1593L2119 1590L2056 1576L1993 1560L1938 1552Z M2399 1578L2412 1570L2429 1574L2420 1587L2404 1588Z" fill="#000" filter="url(#tx_lt_h)" fill-rule="evenodd"/>
<path d="M1938 1498.5H3356V1568L3300 1570L3237 1572L3196 1579L3162 1589L3133 1606L3117 1618H2210L2215 1598L2207 1593L2119 1590L2056 1576L1993 1560L1938 1552Z M2399 1578L2412 1570L2429 1574L2420 1587L2404 1588Z" fill="#000" filter="url(#tx_lt)" fill-rule="evenodd" opacity=".7"/>
<g clip-path="url(#f_cl)">
<path d="M1930.0 1512.0C1986.7 1506.0 2010.0 1520.0 2100.0 1538.0C2190.0 1556.0 2161.7 1546.7 2200.0 1566.0C2238.3 1585.3 2242.0 1586.7 2215.0 1596.0C2188.0 1605.3 2172.0 1599.3 2119.0 1594.0C2066.0 1588.7 2098.0 1590.0 2056.0 1580.0C2014.0 1570.0 2035.0 1572.0 1993.0 1564.0C1951.0 1556.0 1951.0 1573.3 1930.0 1556.0C1909.0 1538.7 1873.3 1518.0 1930.0 1512.0Z" fill="#1b2668" opacity=".9"/>
<path d="M3360.0 1548.0C3323.3 1542.0 3316.7 1545.3 3250.0 1554.0C3183.3 1562.7 3203.3 1557.3 3160.0 1574.0C3116.7 1590.7 3126.7 1592.0 3120.0 1604.0C3113.3 1616.0 3114.7 1617.0 3140.0 1610.0C3165.3 1603.0 3142.7 1595.0 3196.0 1583.0C3249.3 1571.0 3245.3 1577.7 3300.0 1574.0C3354.7 1570.3 3340.0 1580.7 3360.0 1572.0C3380.0 1563.3 3396.7 1554.0 3360.0 1548.0Z" fill="#1b2668" opacity=".9"/>
</g>
</g>
<g clip-path="url(#f_br)">
<path d="M1938 1616.5H3356V1640L3087.5 1666L3037.5 1756H2255L2207 1666L1938 1640Z" fill="#4b86cc"/>
<g filter="url(#b2)">
<path d="M2000.0 1618.0C2043.3 1610.7 2066.7 1610.7 2130.0 1618.0C2193.3 1625.3 2166.7 1623.3 2190.0 1640.0C2213.3 1656.7 2230.0 1664.0 2200.0 1668.0C2170.0 1672.0 2166.7 1661.3 2100.0 1652.0C2033.3 1642.7 2033.3 1651.3 2000.0 1640.0C1966.7 1628.7 1956.7 1625.3 2000.0 1618.0Z" fill="#3f66bc" />
<path d="M2090.0 1640.0C2108.3 1637.7 2113.3 1638.3 2150.0 1645.0C2186.7 1651.7 2200.0 1654.3 2200.0 1660.0C2200.0 1665.7 2185.0 1664.7 2150.0 1662.0C2115.0 1659.3 2115.0 1659.3 2095.0 1652.0C2075.0 1644.7 2071.7 1642.3 2090.0 1640.0Z" fill="#4c98d8" />
<path d="M2235.0 1640.0C2251.7 1618.3 2258.3 1621.7 2290.0 1625.0C2321.7 1628.3 2326.7 1625.0 2330.0 1650.0C2333.3 1675.0 2300.0 1668.3 2300.0 1700.0C2300.0 1731.7 2330.0 1725.0 2330.0 1745.0C2330.0 1765.0 2323.3 1761.7 2300.0 1760.0C2276.7 1758.3 2280.0 1763.3 2260.0 1740.0C2240.0 1716.7 2248.3 1723.3 2240.0 1690.0C2231.7 1656.7 2218.3 1661.7 2235.0 1640.0Z" fill="#5ccbdc" />
<path d="M2290.0 1700.0C2303.3 1676.0 2303.3 1680.0 2340.0 1690.0C2376.7 1700.0 2366.7 1706.0 2400.0 1730.0C2433.3 1754.0 2473.3 1751.3 2440.0 1762.0C2406.7 1772.7 2350.0 1782.7 2300.0 1762.0C2250.0 1741.3 2276.7 1724.0 2290.0 1700.0Z" fill="#5ccbdc" />
<path d="M2330.0 1625.0C2356.7 1617.3 2373.3 1617.0 2420.0 1622.0C2466.7 1627.0 2476.7 1630.7 2470.0 1640.0C2463.3 1649.3 2443.3 1648.3 2400.0 1650.0C2356.7 1651.7 2363.3 1653.3 2340.0 1645.0C2316.7 1636.7 2303.3 1632.7 2330.0 1625.0Z" fill="#5ccbdc" />
<path d="M2230.0 1700.0C2238.3 1688.3 2255.0 1693.3 2275.0 1705.0C2295.0 1716.7 2298.3 1723.3 2290.0 1735.0C2281.7 1746.7 2270.0 1751.7 2250.0 1740.0C2230.0 1728.3 2221.7 1711.7 2230.0 1700.0Z" fill="#4b86cc" />
<path d="M2449.0 1721.0C2473.3 1708.3 2497.7 1707.7 2528.0 1718.0C2558.3 1728.3 2564.3 1739.3 2540.0 1752.0C2515.7 1764.7 2485.3 1766.3 2455.0 1756.0C2424.7 1745.7 2424.7 1733.7 2449.0 1721.0Z" fill="#74ccac" />
<path d="M2400.0 1650.0C2420.0 1643.3 2450.0 1646.7 2470.0 1660.0C2490.0 1673.3 2480.0 1683.3 2460.0 1690.0C2440.0 1696.7 2430.0 1693.3 2410.0 1680.0C2390.0 1666.7 2380.0 1656.7 2400.0 1650.0Z" fill="#4b86cc" />
<path d="M2540.0 1700.0C2586.7 1676.7 2606.7 1670.0 2640.0 1690.0C2673.3 1710.0 2686.7 1736.7 2640.0 1760.0C2593.3 1783.3 2533.3 1780.0 2500.0 1760.0C2466.7 1740.0 2493.3 1723.3 2540.0 1700.0Z" fill="#4b86cc" />
<path d="M2560.0 1740.0C2586.7 1731.0 2613.3 1727.7 2640.0 1735.0C2666.7 1742.3 2666.7 1753.0 2640.0 1762.0C2613.3 1771.0 2586.7 1769.3 2560.0 1762.0C2533.3 1754.7 2533.3 1749.0 2560.0 1740.0Z" fill="#5ccbdc" />
<path d="M2515.0 1620.0L2560.0 1620.0L2545.0 1660.0L2528.0 1668.0Z" fill="#2a7a58" />
<path d="M2570.0 1628.0L2638.0 1640.0L2600.0 1680.0L2585.0 1672.0Z" fill="#2e8a50" />
<path d="M3091.0 1618.0C3127.3 1601.3 3143.7 1610.7 3200.0 1618.0C3256.3 1625.3 3260.0 1627.7 3260.0 1640.0C3260.0 1652.3 3256.3 1645.7 3200.0 1655.0C3143.7 1664.3 3127.3 1680.3 3091.0 1668.0C3054.7 1655.7 3054.7 1634.7 3091.0 1618.0Z" fill="#4b86cc" />
<path d="M3120.0 1622.0C3138.3 1612.0 3158.3 1612.3 3180.0 1620.0C3201.7 1627.7 3203.3 1635.0 3185.0 1645.0C3166.7 1655.0 3146.7 1657.7 3125.0 1650.0C3103.3 1642.3 3101.7 1632.0 3120.0 1622.0Z" fill="#3f66bc" />
<path d="M3250.0 1618.0C3282.0 1609.0 3320.7 1610.0 3356.0 1618.0C3391.3 1626.0 3388.0 1633.0 3356.0 1642.0C3324.0 1651.0 3295.3 1653.0 3260.0 1645.0C3224.7 1637.0 3218.0 1627.0 3250.0 1618.0Z" fill="#3f66bc" />
<path d="M3000.0 1700.0C3010.0 1677.3 3023.3 1676.7 3040.0 1690.0C3056.7 1703.3 3060.0 1717.3 3050.0 1740.0C3040.0 1762.7 3026.7 1771.3 3010.0 1758.0C2993.3 1744.7 2990.0 1722.7 3000.0 1700.0Z" fill="#5ccbdc" />
</g>
<g filter="url(#b1)">
<path d="M2469.0 1661H2556.0Q2566.0 1661 2566.0 1671V1704.5Q2566.0 1714.5 2556.0 1714.5H2469.0Q2459.0 1714.5 2459.0 1704.5V1671Q2459.0 1661 2469.0 1661ZM2736.0 1661H2823.0Q2833.0 1661 2833.0 1671V1704.5Q2833.0 1714.5 2823.0 1714.5H2736.0Q2726.0 1714.5 2726.0 1704.5V1671Q2726.0 1661 2736.0 1661Z" fill="#fff"/>
<path d="M2260 1645L2330 1642L2400 1640L2450 1645L2462 1662L2452 1700L2470 1718L2560 1718L2590 1726L2544 1745L2500 1737L2440 1722L2380 1738L2345 1745L2330 1715L2300 1680ZM2640 1616H3117L3066 1640L3040 1700L3030 1745L2990 1750L2900 1756H2700L2640 1745Z" fill="#1e3894"/>
<path d="M2260 1645L2330 1642L2400 1640L2450 1645L2462 1662L2452 1700L2470 1718L2560 1718L2590 1726L2544 1745L2500 1737L2440 1722L2380 1738L2345 1745L2330 1715L2300 1680ZM2640 1616H3117L3066 1640L3040 1700L3030 1745L2990 1750L2900 1756H2700L2640 1745Z" fill="#000" filter="url(#tx_dk)" opacity=".8"/>
<path d="M2260 1645L2330 1642L2400 1640L2450 1645L2462 1662L2452 1700L2470 1718L2560 1718L2590 1726L2544 1745L2500 1737L2440 1722L2380 1738L2345 1745L2330 1715L2300 1680ZM2640 1616H3117L3066 1640L3040 1700L3030 1745L2990 1750L2900 1756H2700L2640 1745Z" fill="#000" filter="url(#tx_lt)" />
<path d="M2462.0 1668.0C2487.0 1662.0 2507.3 1660.7 2540.0 1662.0C2572.7 1663.3 2573.3 1665.3 2560.0 1672.0C2546.7 1678.7 2531.7 1679.3 2500.0 1682.0C2468.3 1684.7 2477.7 1684.7 2465.0 1680.0C2452.3 1675.3 2437.0 1674.0 2462.0 1668.0Z" fill="#2040a0" />
<path d="M2470.0 1700.0C2483.3 1691.3 2510.0 1688.3 2540.0 1690.0C2570.0 1691.7 2573.3 1696.3 2560.0 1705.0C2546.7 1713.7 2530.0 1717.7 2500.0 1716.0C2470.0 1714.3 2456.7 1708.7 2470.0 1700.0Z" fill="#2040a0" />
</g>
</g>
<g filter="url(#b1)"><path d="M2521.5 1618H2551.5L2546.5 1636H2526.5ZM2451.5 1618H2481.5L2476.5 1636H2456.5ZM2381.5 1618H2411.5L2406.5 1636H2386.5ZM2312.0 1618H2342.0L2337.0 1636H2317.0ZM2242.5 1618H2272.5L2267.5 1636H2247.5ZM2133.0 1618H2163.0L2158.0 1636H2138.0ZM2063.5 1618H2093.5L2088.5 1636H2068.5ZM1994.5 1618H2024.5L2019.5 1636H1999.5Z" fill="#fff" stroke="#1c2c60" stroke-width="2"/><path d="M3129.0 1618H3159.0L3154.0 1636H3134.0ZM3198.5 1618H3228.5L3223.5 1636H3203.5ZM3267.5 1618H3297.5L3292.5 1636H3272.5Z" fill="#fff" stroke="#1c2c60" stroke-width="2"/></g>
<g filter="url(#b1)">
<path d="M2954.0 1622H2976.0L2972.0 1634H2958.0Z" fill="#fff"/>
<path d="M3021.5 1622H3047.5L3043.5 1634H3025.5Z" fill="#fff"/>
<path d="M2821.0 1622H2837.0L2833.0 1634H2825.0Z" fill="#fff"/>
</g>
<path d="M1938 1617H2250 M3117 1617H3356" stroke="#18204c" stroke-width="3"/>
<text x="3378.5" y="1345.4" font-size="67">Pressure/MPa</text>
<text x="3638.0" y="1408" font-size="66" text-anchor="end">0.538</text>
<text x="3638.0" y="1467" font-size="66" text-anchor="end">0.449</text>
<text x="3638.0" y="1526.6" font-size="66" text-anchor="end">0.359</text>
<text x="3638.0" y="1585.8" font-size="66" text-anchor="end">0.269</text>
<text x="3638.0" y="1644.5" font-size="66" text-anchor="end">0.180</text>
<text x="3638.0" y="1704.5" font-size="66" text-anchor="end">0.090</text>
<text x="3638.0" y="1763.3" font-size="66" text-anchor="end">0</text>
<rect x="3660" y="1385.0" width="22" height="59.7" fill="#ea2127"/>
<rect x="3660" y="1444.2" width="22" height="59.7" fill="#f0bb35"/>
<rect x="3660" y="1503.5" width="22" height="59.7" fill="#7ec43a"/>
<rect x="3660" y="1562.7" width="22" height="59.7" fill="#62bd6a"/>
<rect x="3660" y="1621.9" width="22" height="59.7" fill="#2bbfe8"/>
<rect x="3660" y="1681.2" width="22" height="59.7" fill="#2355a9"/>
<rect x="3652.5" y="1383.4" width="8" height="3.2" fill="#231f20"/>
<rect x="3652.5" y="1442.6" width="8" height="3.2" fill="#231f20"/>
<rect x="3652.5" y="1501.9" width="8" height="3.2" fill="#231f20"/>
<rect x="3652.5" y="1561.1" width="8" height="3.2" fill="#231f20"/>
<rect x="3652.5" y="1620.3" width="8" height="3.2" fill="#231f20"/>
<rect x="3652.5" y="1679.6" width="8" height="3.2" fill="#231f20"/>
<rect x="3652.5" y="1738.8" width="8" height="3.2" fill="#231f20"/>
<text x="2844" y="1856.6" font-size="66" text-anchor="middle">(f) 16.549 ms</text>
<rect x="936.0" y="1948.0" width="1418.0" height="177.4" fill="#a8d4f0" />
<g clip-path="url(#g_slab)">
<rect x="936.0" y="1950.0" width="1418.0" height="173.4" fill="#4b86cc" />
<g filter="url(#b4)">
<path d="M930.0 1940.0C971.7 1876.7 1013.0 1925.0 1055.0 1940.0C1097.0 1955.0 1052.3 1965.0 1056.0 1985.0C1059.7 2005.0 1062.7 1971.7 1066.0 2000.0C1069.3 2028.3 1074.7 2041.7 1066.0 2070.0C1057.3 2098.3 1052.0 2065.0 1040.0 2085.0C1028.0 2105.0 1066.7 2115.0 1030.0 2130.0C993.3 2145.0 963.3 2193.3 930.0 2130.0C896.7 2066.7 888.3 2003.3 930.0 1940.0Z" fill="#3d58b0" />
<path d="M1014.0 1975.0C1025.3 1965.7 1037.3 1957.0 1050.0 1972.0C1062.7 1987.0 1058.7 2002.7 1052.0 2020.0C1045.3 2037.3 1042.0 2030.7 1030.0 2024.0C1018.0 2017.3 1021.3 2016.3 1016.0 2000.0C1010.7 1983.7 1002.7 1984.3 1014.0 1975.0Z" fill="#4b86cc" />
<path d="M1125.0 1945.0C1205.7 1930.0 1292.0 1926.7 1377.0 1945.0C1462.0 1963.3 1382.3 1961.7 1380.0 2000.0C1377.7 2038.3 1386.7 2016.7 1370.0 2060.0C1353.3 2103.3 1393.3 2106.7 1330.0 2130.0C1266.7 2153.3 1243.3 2143.3 1180.0 2130.0C1116.7 2116.7 1150.0 2116.7 1140.0 2090.0C1130.0 2063.3 1155.0 2070.0 1150.0 2050.0C1145.0 2030.0 1130.0 2050.0 1125.0 2030.0C1120.0 2010.0 1135.0 2018.3 1135.0 1990.0C1135.0 1961.7 1044.3 1960.0 1125.0 1945.0Z" fill="#5ccbdc" />
<path d="M1178.0 1975.0C1188.0 1966.0 1189.3 1964.7 1230.0 1968.0C1270.7 1971.3 1267.0 1976.0 1300.0 1985.0C1333.0 1994.0 1322.3 1986.7 1329.0 1995.0C1335.7 2003.3 1343.0 2005.7 1320.0 2010.0C1297.0 2014.3 1300.0 2013.0 1260.0 2008.0C1220.0 2003.0 1227.3 2006.0 1200.0 1995.0C1172.7 1984.0 1168.0 1984.0 1178.0 1975.0Z" fill="#8ccc70" />
<path d="M1250.0 1988.0C1265.0 1982.7 1277.3 1981.3 1300.0 1984.0C1322.7 1986.7 1321.3 1989.3 1318.0 1996.0C1314.7 2002.7 1311.0 2002.7 1290.0 2004.0C1269.0 2005.3 1268.3 2005.3 1255.0 2000.0C1241.7 1994.7 1235.0 1993.3 1250.0 1988.0Z" fill="#d0dc50" />
<path d="M1190.0 1972.0C1200.0 1967.3 1212.3 1966.7 1225.0 1970.0C1237.7 1973.3 1238.0 1977.3 1228.0 1982.0C1218.0 1986.7 1207.7 1987.3 1195.0 1984.0C1182.3 1980.7 1180.0 1976.7 1190.0 1972.0Z" fill="#b8d860" />
<path d="M1125.0 2037.0C1161.7 2030.7 1196.7 2030.7 1235.0 2037.0C1273.3 2043.3 1261.7 2048.3 1240.0 2056.0C1218.3 2063.7 1208.3 2060.0 1170.0 2060.0C1131.7 2060.0 1140.0 2063.7 1125.0 2056.0C1110.0 2048.3 1088.3 2043.3 1125.0 2037.0Z" fill="#4b86cc" />
<path d="M1181.0 2068.0C1195.7 2060.7 1207.3 2053.3 1222.0 2068.0C1236.7 2082.7 1235.7 2097.3 1225.0 2112.0C1214.3 2126.7 1205.7 2119.3 1190.0 2112.0C1174.3 2104.7 1181.0 2104.7 1178.0 2090.0C1175.0 2075.3 1166.3 2075.3 1181.0 2068.0Z" fill="#4b86cc" />
<path d="M1285.0 2100.0C1314.3 2090.0 1343.7 2088.7 1373.0 2098.0C1402.3 2107.3 1402.3 2118.0 1373.0 2128.0C1343.7 2138.0 1314.3 2137.3 1285.0 2128.0C1255.7 2118.7 1255.7 2110.0 1285.0 2100.0Z" fill="#4b86cc" />
<path d="M1342.0 2040.0C1350.3 2018.0 1360.0 2018.0 1370.0 2040.0C1380.0 2062.0 1380.3 2084.0 1372.0 2106.0C1363.7 2128.0 1355.0 2128.0 1345.0 2106.0C1335.0 2084.0 1333.7 2062.0 1342.0 2040.0Z" fill="#4b86cc" />
<path d="M1275.0 2065.0C1282.3 2053.0 1291.0 2052.0 1300.0 2062.0C1309.0 2072.0 1309.3 2083.0 1302.0 2095.0C1294.7 2107.0 1287.0 2108.0 1278.0 2098.0C1269.0 2088.0 1267.7 2077.0 1275.0 2065.0Z" fill="#4b86cc" />
<path d="M1300.0 2025.0C1305.0 2016.3 1313.3 2015.0 1325.0 2020.0C1336.7 2025.0 1340.0 2031.3 1335.0 2040.0C1330.0 2048.7 1321.7 2051.0 1310.0 2046.0C1298.3 2041.0 1295.0 2033.7 1300.0 2025.0Z" fill="#4b86cc" />
<path d="M1373.0 1945.0C1421.3 1883.3 1469.0 1883.3 1518.0 1945.0C1567.0 2006.7 1568.3 2068.3 1520.0 2130.0C1471.7 2191.7 1422.0 2191.7 1373.0 2130.0C1324.0 2068.3 1324.7 2006.7 1373.0 1945.0Z" fill="#4080cc" />
<path d="M1380.0 2081.0C1393.0 2066.3 1408.0 2065.3 1424.0 2078.0C1440.0 2090.7 1441.0 2104.3 1428.0 2119.0C1415.0 2133.7 1401.0 2134.7 1385.0 2122.0C1369.0 2109.3 1367.0 2095.7 1380.0 2081.0Z" fill="#5ccbdc" />
<ellipse cx="1405.0" cy="2104.0" rx="12.0" ry="10.0" fill="#7cc878" />
<path d="M1420.0 2020.0C1430.0 2003.3 1446.7 2003.3 1470.0 2010.0C1493.3 2016.7 1500.0 2023.3 1490.0 2040.0C1480.0 2056.7 1463.3 2066.7 1440.0 2060.0C1416.7 2053.3 1410.0 2036.7 1420.0 2020.0Z" fill="#3a60c0" />
<path d="M1460.0 1960.0C1470.0 1948.3 1481.7 1946.7 1500.0 1955.0C1518.3 1963.3 1525.0 1973.3 1515.0 1985.0C1505.0 1996.7 1488.3 1998.3 1470.0 1990.0C1451.7 1981.7 1450.0 1971.7 1460.0 1960.0Z" fill="#5cc4dc" />
<ellipse cx="1462.0" cy="2045.0" rx="10.0" ry="10.0" fill="#5ccbdc" />
<path d="M1500.0 2037.0C1500.0 2003.7 1493.3 2010.7 1520.0 1985.0C1546.7 1959.3 1520.0 1970.0 1580.0 1960.0C1640.0 1950.0 1633.3 1948.3 1700.0 1955.0C1766.7 1961.7 1746.7 1952.7 1780.0 1980.0C1813.3 2007.3 1800.0 2000.3 1800.0 2037.0C1800.0 2073.7 1813.3 2065.7 1780.0 2090.0C1746.7 2114.3 1766.7 2104.0 1700.0 2110.0C1633.3 2116.0 1640.0 2116.3 1580.0 2108.0C1520.0 2099.7 1546.7 2108.7 1520.0 2085.0C1493.3 2061.3 1500.0 2070.3 1500.0 2037.0Z" fill="#3a6ac8" />
<path d="M1523.0 2034.0C1524.7 2015.7 1537.7 2019.0 1560.0 2005.0C1582.3 1991.0 1574.7 1996.3 1590.0 1992.0C1605.3 1987.7 1600.7 1961.7 1606.0 1992.0C1611.3 2022.3 1613.0 2053.7 1606.0 2083.0C1599.0 2112.3 1602.0 2087.7 1585.0 2080.0C1568.0 2072.3 1575.7 2075.3 1555.0 2060.0C1534.3 2044.7 1521.3 2052.3 1523.0 2034.0Z" fill="#74ccb4" />
<path d="M1649.0 1990.0C1667.3 1973.0 1669.7 1981.0 1700.0 1986.0C1730.3 1991.0 1717.3 1988.0 1740.0 2005.0C1762.7 2022.0 1768.0 2016.0 1768.0 2037.0C1768.0 2058.0 1762.7 2052.0 1740.0 2068.0C1717.3 2084.0 1729.3 2078.7 1700.0 2085.0C1670.7 2091.3 1670.3 2103.0 1652.0 2087.0C1633.7 2071.0 1646.0 2069.3 1645.0 2037.0C1644.0 2004.7 1630.7 2007.0 1649.0 1990.0Z" fill="#70ccc0" />
<rect x="1590.0" y="1990.0" width="22.0" height="92.0" fill="#68d0d8" />
<path d="M1612.0 1985.0C1624.7 1950.0 1637.3 1950.0 1650.0 1985.0C1662.7 2020.0 1662.7 2055.0 1650.0 2090.0C1637.3 2125.0 1624.7 2125.0 1612.0 2090.0C1599.3 2055.0 1599.3 2020.0 1612.0 1985.0Z" fill="#2f58c0" />
<path d="M1760.0 2010.0C1763.3 1990.0 1780.0 1986.7 1800.0 1990.0C1820.0 1993.3 1823.3 2000.0 1820.0 2020.0C1816.7 2040.0 1810.0 2053.3 1790.0 2050.0C1770.0 2046.7 1756.7 2030.0 1760.0 2010.0Z" fill="#58b858" />
<path d="M1800.0 1945.0C1826.7 1900.0 1852.0 1921.7 1880.0 1945.0C1908.0 1968.3 1894.0 1990.0 1884.0 2015.0C1874.0 2040.0 1868.0 2005.0 1850.0 2020.0C1832.0 2035.0 1846.7 2040.0 1830.0 2060.0C1813.3 2080.0 1810.0 2118.3 1800.0 2080.0C1790.0 2041.7 1773.3 1990.0 1800.0 1945.0Z" fill="#4c98d8" />
<path d="M1884.0 1945.0C1935.3 1922.7 1995.3 1926.7 2054.0 1945.0C2112.7 1963.3 2048.7 1961.7 2060.0 2000.0C2071.3 2038.3 2079.7 2021.7 2088.0 2060.0C2096.3 2098.3 2096.3 2093.3 2085.0 2115.0C2073.7 2136.7 2085.7 2120.7 2054.0 2125.0C2022.3 2129.3 2011.3 2163.0 1990.0 2128.0C1968.7 2093.0 2020.0 2058.7 1990.0 2020.0C1960.0 1981.3 1935.3 2037.0 1900.0 2012.0C1864.7 1987.0 1832.7 1967.3 1884.0 1945.0Z" fill="#74ccac" />
<path d="M1884.0 1955.0C1899.0 1943.0 1917.0 1942.0 1935.0 1952.0C1953.0 1962.0 1953.0 1973.0 1938.0 1985.0C1923.0 1997.0 1908.0 1998.0 1890.0 1988.0C1872.0 1978.0 1869.0 1967.0 1884.0 1955.0Z" fill="#8ccc50" />
<ellipse cx="1912.0" cy="1962.0" rx="12.0" ry="8.0" fill="#c8d850" />
<path d="M2020.0 2062.0C2041.0 2043.7 2064.7 2043.3 2088.0 2060.0C2111.3 2076.7 2111.0 2093.7 2090.0 2112.0C2069.0 2130.3 2048.3 2131.7 2025.0 2115.0C2001.7 2098.3 1999.0 2080.3 2020.0 2062.0Z" fill="#90cc50" />
<ellipse cx="2050.0" cy="2085.0" rx="14.0" ry="12.0" fill="#d0dc50" />
<path d="M1850.0 2015.0C1903.3 1996.7 1936.0 2003.3 1990.0 2015.0C2044.0 2026.7 2012.0 2017.3 2012.0 2050.0C2012.0 2082.7 2044.0 2089.7 1990.0 2113.0C1936.0 2136.3 1903.3 2134.3 1850.0 2120.0C1796.7 2105.7 1830.0 2105.0 1830.0 2070.0C1830.0 2035.0 1796.7 2033.3 1850.0 2015.0Z" fill="#4b86cc" />
<path d="M1850.0 2060.0C1866.7 2043.3 1896.7 2043.3 1930.0 2050.0C1963.3 2056.7 1966.7 2063.3 1950.0 2080.0C1933.3 2096.7 1913.3 2106.7 1880.0 2100.0C1846.7 2093.3 1833.3 2076.7 1850.0 2060.0Z" fill="#3a6ac8" />
<path d="M2054.0 1950.0C2086.0 1933.3 2120.7 1913.3 2156.0 1950.0C2191.3 1986.7 2162.0 2005.0 2160.0 2060.0C2158.0 2115.0 2173.3 2095.0 2150.0 2115.0C2126.7 2135.0 2110.7 2138.3 2090.0 2120.0C2069.3 2101.7 2098.0 2100.0 2088.0 2060.0C2078.0 2020.0 2071.3 2036.7 2060.0 2000.0C2048.7 1963.3 2022.0 1966.7 2054.0 1950.0Z" fill="#5ccbdc" />
<path d="M2063.0 2019.0C2089.7 2003.0 2119.0 2001.7 2148.0 2016.0C2177.0 2030.3 2176.7 2046.0 2150.0 2062.0C2123.3 2078.0 2097.0 2078.3 2068.0 2064.0C2039.0 2049.7 2036.3 2035.0 2063.0 2019.0Z" fill="#4b86cc" />
<path d="M2156.0 1945.0C2186.0 1883.3 2212.0 1883.3 2240.0 1945.0C2268.0 2006.7 2270.0 2068.3 2240.0 2130.0C2210.0 2191.7 2178.0 2191.7 2150.0 2130.0C2122.0 2068.3 2126.0 2006.7 2156.0 1945.0Z" fill="#4b86cc" />
<path d="M2180.0 1981.0C2170.0 1956.0 2170.0 1967.0 2230.0 1955.0C2290.0 1943.0 2316.7 1886.7 2360.0 1945.0C2403.3 2003.3 2396.7 2068.3 2360.0 2130.0C2323.3 2191.7 2293.3 2153.3 2250.0 2130.0C2206.7 2106.7 2226.7 2093.3 2230.0 2060.0C2233.3 2026.7 2276.7 2056.3 2260.0 2030.0C2243.3 2003.7 2190.0 2006.0 2180.0 1981.0Z" fill="#3d58b0" />
<path d="M2235.0 1995.0C2238.3 1968.3 2246.7 1968.3 2260.0 1990.0C2273.3 2011.7 2278.3 2033.3 2275.0 2060.0C2271.7 2086.7 2263.3 2091.7 2250.0 2070.0C2236.7 2048.3 2231.7 2021.7 2235.0 1995.0Z" fill="#4b86cc" />
</g>
<path d="M1620.0 1950V2123.4M1670.0 1950V2123.4M1588.0 1950V2123.4M1702.0 1950V2123.4M1550.0 1950V2123.4M1740.0 1950V2123.4M1517.0 1950V2123.4M1773.0 1950V2123.4M1480.0 1950V2123.4M1810.0 1950V2123.4M1447.0 1950V2123.4M1843.0 1950V2123.4M1409.0 1950V2123.4M1881.0 1950V2123.4M1377.0 1950V2123.4M1913.0 1950V2123.4M1341.0 1950V2123.4M1949.0 1950V2123.4M1306.0 1950V2123.4M1984.0 1950V2123.4M1269.0 1950V2123.4M2021.0 1950V2123.4M1237.0 1950V2123.4M2053.0 1950V2123.4M1179.0 1950V2123.4M2111.0 1950V2123.4M1158.0 1950V2123.4M2132.0 1950V2123.4M1125.0 1950V2123.4M2165.0 1950V2123.4M1088.0 1950V2123.4M2202.0 1950V2123.4M1057.0 1950V2123.4M2233.0 1950V2123.4M1017.0 1950V2123.4M2273.0 1950V2123.4M985.0 1950V2123.4M2305.0 1950V2123.4" stroke="#0c5c9c" stroke-width="3.5" fill="none" opacity=".5" filter="url(#b1)"/>
</g>
<g filter="url(#b2)">
<g clip-path="url(#g_br)">
<path d="M936 2198H2354V2234L2105 2270L2050 2398H1232L1193.6 2270L936 2234Z" fill="#5cc264"/>
<g filter="url(#b8)">
<path d="M930.0 2190.0L1200.0 2190.0L1210.0 2280.0L930.0 2240.0Z" fill="#5cc8d0" />
<path d="M930.0 2190.0L985.0 2190.0L975.0 2240.0L930.0 2240.0Z" fill="#3d58b0" />
<path d="M1050.0 2225.0C1080.0 2216.7 1101.7 2211.7 1150.0 2220.0C1198.3 2228.3 1195.0 2236.0 1195.0 2250.0C1195.0 2264.0 1195.0 2263.7 1150.0 2262.0C1105.0 2260.3 1093.3 2257.3 1060.0 2245.0C1026.7 2232.7 1020.0 2233.3 1050.0 2225.0Z" fill="#74cc90" />
<path d="M2100.0 2190.0L2360.0 2190.0L2360.0 2240.0L2100.0 2280.0Z" fill="#5cc8d0" />
<path d="M2315.0 2190.0L2360.0 2190.0L2360.0 2240.0L2325.0 2240.0Z" fill="#3d58b0" />
<path d="M2100.0 2230.0C2133.3 2214.7 2150.0 2218.7 2200.0 2222.0C2250.0 2225.3 2266.7 2226.7 2250.0 2240.0C2233.3 2253.3 2200.0 2252.7 2150.0 2262.0C2100.0 2271.3 2116.7 2278.7 2100.0 2268.0C2083.3 2257.3 2066.7 2245.3 2100.0 2230.0Z" fill="#74cc90" />
<path d="M1190.0 2200.0C1223.3 2166.7 1253.3 2180.0 1300.0 2200.0C1346.7 2220.0 1330.0 2216.7 1330.0 2260.0C1330.0 2303.3 1300.0 2283.3 1300.0 2330.0C1300.0 2376.7 1353.3 2376.7 1330.0 2400.0C1306.7 2423.3 1273.3 2433.3 1230.0 2400.0C1186.7 2366.7 1213.3 2366.7 1200.0 2300.0C1186.7 2233.3 1156.7 2233.3 1190.0 2200.0Z" fill="#5cc8d0" />
<path d="M1300.0 2260.0C1330.0 2226.7 1360.0 2233.3 1400.0 2250.0C1440.0 2266.7 1426.7 2273.3 1420.0 2310.0C1413.3 2346.7 1416.7 2346.7 1380.0 2360.0C1343.3 2373.3 1336.7 2383.3 1310.0 2350.0C1283.3 2316.7 1270.0 2293.3 1300.0 2260.0Z" fill="#74ccac" />
<path d="M1235.0 2355.0C1253.3 2339.0 1268.3 2335.7 1290.0 2350.0C1311.7 2364.3 1318.3 2382.0 1300.0 2398.0C1281.7 2414.0 1256.7 2412.3 1235.0 2398.0C1213.3 2383.7 1216.7 2371.0 1235.0 2355.0Z" fill="#4078d0" />
<path d="M1290.0 2290.0C1303.3 2270.0 1320.0 2266.7 1340.0 2280.0C1360.0 2293.3 1363.3 2310.0 1350.0 2330.0C1336.7 2350.0 1320.0 2353.3 1300.0 2340.0C1280.0 2326.7 1276.7 2310.0 1290.0 2290.0Z" fill="#90cc50" />
<ellipse cx="1418.0" cy="2300.0" rx="14.0" ry="22.0" fill="#5cc8e0" />
<path d="M1600.0 2210.0C1633.3 2180.0 1656.7 2180.0 1690.0 2210.0C1723.3 2240.0 1700.0 2236.7 1700.0 2300.0C1700.0 2363.3 1723.3 2366.7 1690.0 2400.0C1656.7 2433.3 1633.3 2433.3 1600.0 2400.0C1566.7 2366.7 1590.0 2363.3 1590.0 2300.0C1590.0 2236.7 1566.7 2240.0 1600.0 2210.0Z" fill="#68ccc0" />
<path d="M1540.0 2196.0C1633.3 2184.0 1746.7 2185.3 1840.0 2196.0C1933.3 2206.7 1866.7 2214.7 1820.0 2228.0C1773.3 2241.3 1786.7 2234.7 1700.0 2236.0C1613.3 2237.3 1613.3 2245.3 1560.0 2232.0C1506.7 2218.7 1446.7 2208.0 1540.0 2196.0Z" fill="#2a7a78" />
<path d="M1630.0 2250.0C1640.0 2203.3 1648.3 2203.3 1660.0 2250.0C1671.7 2296.7 1675.0 2343.3 1665.0 2390.0C1655.0 2436.7 1641.7 2436.7 1630.0 2390.0C1618.3 2343.3 1620.0 2296.7 1630.0 2250.0Z" fill="#5cc8d0" />
<path d="M1850.0 2270.0C1896.7 2240.7 1936.7 2238.7 1990.0 2262.0C2043.3 2285.3 2033.3 2299.0 2010.0 2340.0C1986.7 2381.0 1973.3 2381.7 1920.0 2385.0C1866.7 2388.3 1873.3 2388.3 1850.0 2350.0C1826.7 2311.7 1803.3 2299.3 1850.0 2270.0Z" fill="#74ccac" />
<path d="M1880.0 2310.0C1898.3 2295.0 1918.3 2293.3 1940.0 2305.0C1961.7 2316.7 1963.3 2330.0 1945.0 2345.0C1926.7 2360.0 1906.7 2361.7 1885.0 2350.0C1863.3 2338.3 1861.7 2325.0 1880.0 2310.0Z" fill="#5cc8e0" />
<path d="M2000.0 2280.0C2020.0 2243.3 2030.0 2253.3 2050.0 2270.0C2070.0 2286.7 2070.0 2290.0 2060.0 2330.0C2050.0 2370.0 2043.3 2373.3 2020.0 2390.0C1996.7 2406.7 1996.7 2416.7 1990.0 2380.0C1983.3 2343.3 1980.0 2316.7 2000.0 2280.0Z" fill="#5cc8d0" />
<path d="M1990.0 2370.0C2003.3 2357.3 2013.3 2350.7 2030.0 2360.0C2046.7 2369.3 2053.3 2385.3 2040.0 2398.0C2026.7 2410.7 2006.7 2407.3 1990.0 2398.0C1973.3 2388.7 1976.7 2382.7 1990.0 2370.0Z" fill="#4078d0" />
<ellipse cx="1890.0" cy="2385.0" rx="18.0" ry="10.0" fill="#c8d850" />
<ellipse cx="1710.0" cy="2380.0" rx="14.0" ry="10.0" fill="#c8d850" />
<path d="M1400.0 2380.0C1466.7 2371.7 1533.3 2368.3 1600.0 2375.0C1666.7 2381.7 1666.7 2391.7 1600.0 2400.0C1533.3 2408.3 1466.7 2406.7 1400.0 2400.0C1333.3 2393.3 1333.3 2388.3 1400.0 2380.0Z" fill="#5cc8d0" />
</g>
</g>
<path d="M1193.6 2270L1232 2398H2050L2105 2270" stroke="#1c4a48" stroke-width="6" fill="none"/>
<path d="M936 2199H2354" stroke="#2a4a70" stroke-width="5" opacity=".7"/>
<path d="M1645 2240V2398" stroke="#1c6a58" stroke-width="3" opacity=".7"/>
<path d="M1200.5 2293.0l26 -7M2095.1 2293.0l-26 -7M1209.7 2323.8l26 -7M2081.9 2323.8l-26 -7M1218.9 2354.5l26 -7M2068.7 2354.5l-26 -7M1227.4 2382.6l26 -7M2056.6 2382.6l-26 -7" stroke="#1c4a48" stroke-width="4" opacity=".8"/>
<path d="M1600 2262l45 0l-22 22Z M1690 2262l-45 0l22 22Z" fill="#1c6058" opacity=".7"/>
<path d="M1320 2372V2398M1390 2372V2398M1457 2372V2398M1525 2372V2398M1590 2372V2398M1700 2372V2398M1770 2372V2398M1835 2372V2398M1900 2372V2398M1965 2372V2398" stroke="#1c4a48" stroke-width="4" opacity=".8"/>
<path d="M1465.5 2255H1552.0Q1564.0 2255 1564.0 2267V2326Q1564.0 2338 1552.0 2338H1465.5Q1453.5 2338 1453.5 2326V2267Q1453.5 2255 1465.5 2255ZM1735.0 2255H1821.5Q1833.5 2255 1833.5 2267V2326Q1833.5 2338 1821.5 2338H1735.0Q1723.0 2338 1723.0 2326V2267Q1723.0 2255 1735.0 2255Z" fill="#fff" stroke="#2a4a50" stroke-width="4"/>
<path d="M1590.0 2200H1620.0L1617.0 2226H1593.0ZM1670.0 2200H1700.0L1697.0 2226H1673.0ZM1520.5 2200H1550.5L1547.5 2226H1523.5ZM1739.5 2200H1769.5L1766.5 2226H1742.5ZM1450.5 2200H1480.5L1477.5 2226H1453.5ZM1809.5 2200H1839.5L1836.5 2226H1812.5ZM1380.5 2200H1410.5L1407.5 2226H1383.5ZM1879.5 2200H1909.5L1906.5 2226H1882.5ZM1311.0 2200H1341.0L1338.0 2226H1314.0ZM1949.0 2200H1979.0L1976.0 2226H1952.0ZM1241.5 2200H1271.5L1268.5 2226H1244.5ZM2018.5 2200H2048.5L2045.5 2226H2021.5ZM1132.0 2200H1162.0L1159.0 2226H1135.0ZM2128.0 2200H2158.0L2155.0 2226H2131.0ZM1062.5 2200H1092.5L1089.5 2226H1065.5ZM2197.5 2200H2227.5L2224.5 2226H2200.5ZM993.5 2200H1023.5L1020.5 2226H996.5ZM2266.5 2200H2296.5L2293.5 2226H2269.5Z" fill="#1c3c48"/>
<path d="M1591.0 2199H1619.0L1616.0 2219H1594.0ZM1671.0 2199H1699.0L1696.0 2219H1674.0ZM1521.5 2199H1549.5L1546.5 2219H1524.5ZM1740.5 2199H1768.5L1765.5 2219H1743.5ZM1451.5 2199H1479.5L1476.5 2219H1454.5ZM1810.5 2199H1838.5L1835.5 2219H1813.5ZM1381.5 2199H1409.5L1406.5 2219H1384.5ZM1880.5 2199H1908.5L1905.5 2219H1883.5ZM1312.0 2199H1340.0L1337.0 2219H1315.0ZM1950.0 2199H1978.0L1975.0 2219H1953.0ZM1242.5 2199H1270.5L1267.5 2219H1245.5ZM2019.5 2199H2047.5L2044.5 2219H2022.5ZM1133.0 2199H1161.0L1158.0 2219H1136.0ZM2129.0 2199H2157.0L2154.0 2219H2132.0ZM1063.5 2199H1091.5L1088.5 2219H1066.5ZM2198.5 2199H2226.5L2223.5 2219H2201.5ZM994.5 2199H1022.5L1019.5 2219H997.5ZM2267.5 2199H2295.5L2292.5 2219H2270.5Z" fill="#fff"/>
</g>
<text x="2376" y="1998" font-size="67">Pressure/MPa</text>
<text x="2636.8" y="2065" font-size="66" text-anchor="end">0.538</text>
<text x="2636.8" y="2124.7" font-size="66" text-anchor="end">0.449</text>
<text x="2636.8" y="2184" font-size="66" text-anchor="end">0.359</text>
<text x="2636.8" y="2243.8" font-size="66" text-anchor="end">0.269</text>
<text x="2636.8" y="2302.6" font-size="66" text-anchor="end">0.180</text>
<text x="2636.8" y="2362.6" font-size="66" text-anchor="end">0.090</text>
<text x="2636.8" y="2421" font-size="66" text-anchor="end">0</text>
<rect x="2661.5" y="2042.6" width="21.300000000000182" height="59.6" fill="#ea2127"/>
<rect x="2661.5" y="2101.7" width="21.300000000000182" height="59.6" fill="#f0bb35"/>
<rect x="2661.5" y="2160.7" width="21.300000000000182" height="59.6" fill="#7ec43a"/>
<rect x="2661.5" y="2219.8" width="21.300000000000182" height="59.6" fill="#62bd6a"/>
<rect x="2661.5" y="2278.9" width="21.300000000000182" height="59.6" fill="#2bbfe8"/>
<rect x="2661.5" y="2337.9" width="21.300000000000182" height="59.6" fill="#2355a9"/>
<rect x="2654.0" y="2041.0" width="8" height="3.2" fill="#231f20"/>
<rect x="2654.0" y="2100.1" width="8" height="3.2" fill="#231f20"/>
<rect x="2654.0" y="2159.1" width="8" height="3.2" fill="#231f20"/>
<rect x="2654.0" y="2218.2" width="8" height="3.2" fill="#231f20"/>
<rect x="2654.0" y="2277.3" width="8" height="3.2" fill="#231f20"/>
<rect x="2654.0" y="2336.3" width="8" height="3.2" fill="#231f20"/>
<rect x="2654.0" y="2395.4" width="8" height="3.2" fill="#231f20"/>
<text x="1645.7" y="2501" font-size="66" text-anchor="middle">(g) 30.000 ms</text>
</svg>
</body></html>
